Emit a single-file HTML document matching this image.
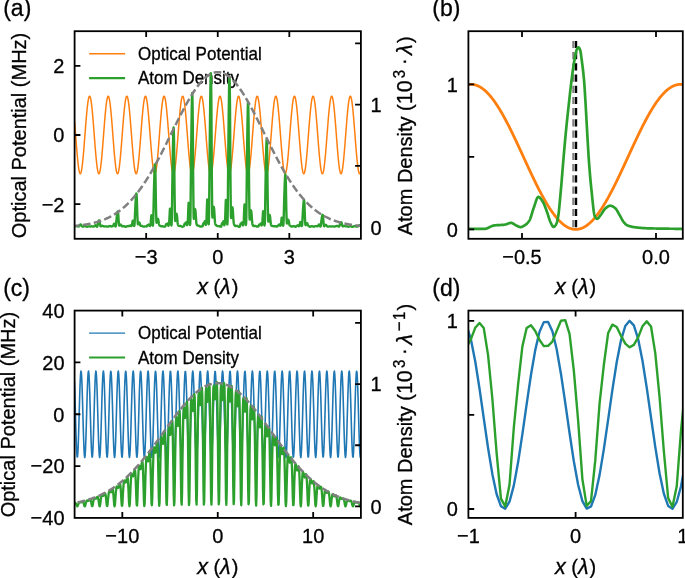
<!DOCTYPE html><html><head><meta charset="utf-8"><style>html,body{margin:0;padding:0;background:#fff;}svg{display:block;} .t{opacity:0.999;will-change:opacity;}</style></head><body><svg width="685" height="578" viewBox="0 0 685 578">
<defs><clipPath id="ca"><rect x="74.6" y="31.2" width="286.29999999999995" height="207.60000000000002"/></clipPath><clipPath id="cb"><rect x="468.4" y="31.2" width="214.39999999999998" height="207.60000000000002"/></clipPath><clipPath id="cc"><rect x="74.6" y="310.6" width="286.29999999999995" height="207.29999999999995"/></clipPath><clipPath id="cd"><rect x="468.4" y="310.6" width="214.39999999999998" height="207.29999999999995"/></clipPath></defs>
<rect width="685" height="578" fill="#fff"/>
<g clip-path="url(#ca)">
<path d="M74.60,121.90 L74.66,122.63 L74.72,123.38 L74.78,124.12 L74.84,124.87 L74.90,125.63 L74.96,126.39 L75.02,127.15 L75.08,127.91 L75.14,128.68 L75.20,129.45 L75.26,130.22 L75.32,131.00 L75.38,131.78 L75.44,132.55 L75.49,133.33 L75.55,134.11 L75.61,134.89 L75.67,135.67 L75.73,136.45 L75.79,137.23 L75.85,138.01 L75.91,138.78 L75.97,139.56 L76.03,140.33 L76.09,141.10 L76.15,141.87 L76.21,142.64 L76.27,143.40 L76.33,144.16 L76.39,144.92 L76.45,145.67 L76.51,146.42 L76.57,147.16 L76.63,147.90 L76.69,148.63 L76.75,149.36 L76.81,150.08 L76.87,150.79 L76.93,151.50 L76.99,152.20 L77.05,152.90 L77.11,153.59 L77.16,154.27 L77.22,154.94 L77.28,155.61 L77.34,156.26 L77.40,156.91 L77.46,157.55 L77.52,158.18 L77.58,158.80 L77.64,159.41 L77.70,160.01 L77.76,160.60 L77.82,161.18 L77.88,161.75 L77.94,162.31 L78.00,162.86 L78.06,163.39 L78.12,163.92 L78.18,164.43 L78.24,164.93 L78.30,165.42 L78.36,165.90 L78.42,166.36 L78.48,166.81 L78.54,167.25 L78.60,167.68 L78.66,168.09 L78.72,168.49 L78.78,168.88 L78.83,169.25 L78.89,169.61 L78.95,169.95 L79.01,170.28 L79.07,170.59 L79.13,170.90 L79.19,171.18 L79.25,171.45 L79.31,171.71 L79.37,171.95 L79.43,172.18 L79.49,172.39 L79.55,172.59 L79.61,172.77 L79.67,172.94 L79.73,173.09 L79.79,173.23 L79.85,173.35 L79.91,173.45 L79.97,173.54 L80.03,173.61 L80.09,173.67 L80.15,173.71 L80.21,173.74 L80.27,173.75 L80.33,173.75 L80.39,173.73 L80.45,173.69 L80.50,173.64 L80.56,173.57 L80.62,173.49 L80.68,173.39 L80.74,173.28 L80.80,173.15 L80.86,173.00 L80.92,172.84 L80.98,172.66 L81.04,172.47 L81.10,172.27 L81.16,172.05 L81.22,171.81 L81.28,171.56 L81.34,171.29 L81.40,171.01 L81.46,170.72 L81.52,170.41 L81.58,170.08 L81.64,169.74 L81.70,169.39 L81.76,169.03 L81.82,168.65 L81.88,168.25 L81.94,167.84 L82.00,167.42 L82.06,166.99 L82.12,166.54 L82.18,166.08 L82.23,165.61 L82.29,165.13 L82.35,164.63 L82.41,164.12 L82.47,163.60 L82.53,163.07 L82.59,162.53 L82.65,161.97 L82.71,161.41 L82.77,160.83 L82.83,160.25 L82.89,159.65 L82.95,159.04 L83.01,158.43 L83.07,157.80 L83.13,157.17 L83.19,156.52 L83.25,155.87 L83.31,155.21 L83.37,154.54 L83.43,153.86 L83.49,153.18 L83.55,152.48 L83.61,151.78 L83.67,151.08 L83.73,150.36 L83.79,149.65 L83.85,148.92 L83.90,148.19 L83.96,147.45 L84.02,146.71 L84.08,145.97 L84.14,145.22 L84.20,144.46 L84.26,143.71 L84.32,142.94 L84.38,142.18 L84.44,141.41 L84.50,140.64 L84.56,139.87 L84.62,139.09 L84.68,138.32 L84.74,137.54 L84.80,136.76 L84.86,135.98 L84.92,135.20 L84.98,134.42 L85.04,133.64 L85.10,132.86 L85.16,132.09 L85.22,131.31 L85.28,130.53 L85.34,129.76 L85.40,128.99 L85.46,128.22 L85.52,127.45 L85.57,126.69 L85.63,125.93 L85.69,125.17 L85.75,124.42 L85.81,123.67 L85.87,122.93 L85.93,122.19 L85.99,121.46 L86.05,120.73 L86.11,120.01 L86.17,119.29 L86.23,118.58 L86.29,117.88 L86.35,117.18 L86.41,116.49 L86.47,115.81 L86.53,115.14 L86.59,114.47 L86.65,113.82 L86.71,113.17 L86.77,112.53 L86.83,111.90 L86.89,111.28 L86.95,110.66 L87.01,110.06 L87.07,109.47 L87.13,108.89 L87.19,108.32 L87.24,107.76 L87.30,107.21 L87.36,106.67 L87.42,106.15 L87.48,105.63 L87.54,105.13 L87.60,104.64 L87.66,104.16 L87.72,103.69 L87.78,103.24 L87.84,102.80 L87.90,102.37 L87.96,101.96 L88.02,101.56 L88.08,101.17 L88.14,100.80 L88.20,100.44 L88.26,100.09 L88.32,99.76 L88.38,99.44 L88.44,99.14 L88.50,98.85 L88.56,98.58 L88.62,98.32 L88.68,98.07 L88.74,97.85 L88.80,97.63 L88.86,97.43 L88.91,97.25 L88.97,97.08 L89.03,96.93 L89.09,96.79 L89.15,96.67 L89.21,96.56 L89.27,96.47 L89.33,96.39 L89.39,96.33 L89.45,96.29 L89.51,96.26 L89.57,96.25 L89.63,96.25 L89.69,96.27 L89.75,96.30 L89.81,96.35 L89.87,96.42 L89.93,96.50 L89.99,96.60 L90.05,96.71 L90.11,96.84 L90.17,96.98 L90.23,97.14 L90.29,97.31 L90.35,97.50 L90.41,97.71 L90.47,97.93 L90.53,98.16 L90.59,98.41 L90.64,98.67 L90.70,98.95 L90.76,99.25 L90.82,99.56 L90.88,99.88 L90.94,100.21 L91.00,100.56 L91.06,100.93 L91.12,101.31 L91.18,101.70 L91.24,102.11 L91.30,102.52 L91.36,102.96 L91.42,103.40 L91.48,103.86 L91.54,104.33 L91.60,104.81 L91.66,105.31 L91.72,105.81 L91.78,106.33 L91.84,106.86 L91.90,107.41 L91.96,107.96 L92.02,108.52 L92.08,109.10 L92.14,109.68 L92.20,110.28 L92.26,110.88 L92.31,111.50 L92.37,112.12 L92.43,112.76 L92.49,113.40 L92.55,114.05 L92.61,114.71 L92.67,115.38 L92.73,116.06 L92.79,116.74 L92.85,117.43 L92.91,118.13 L92.97,118.84 L93.03,119.55 L93.09,120.27 L93.15,120.99 L93.21,121.72 L93.27,122.46 L93.33,123.20 L93.39,123.94 L93.45,124.69 L93.51,125.45 L93.57,126.20 L93.63,126.96 L93.69,127.73 L93.75,128.50 L93.81,129.27 L93.87,130.04 L93.93,130.81 L93.98,131.59 L94.04,132.37 L94.10,133.14 L94.16,133.92 L94.22,134.70 L94.28,135.48 L94.34,136.26 L94.40,137.04 L94.46,137.82 L94.52,138.60 L94.58,139.37 L94.64,140.15 L94.70,140.92 L94.76,141.69 L94.82,142.45 L94.88,143.22 L94.94,143.98 L95.00,144.74 L95.06,145.49 L95.12,146.24 L95.18,146.98 L95.24,147.72 L95.30,148.45 L95.36,149.18 L95.42,149.91 L95.48,150.62 L95.54,151.33 L95.60,152.04 L95.65,152.73 L95.71,153.42 L95.77,154.11 L95.83,154.78 L95.89,155.45 L95.95,156.10 L96.01,156.75 L96.07,157.40 L96.13,158.03 L96.19,158.65 L96.25,159.26 L96.31,159.87 L96.37,160.46 L96.43,161.04 L96.49,161.61 L96.55,162.17 L96.61,162.73 L96.67,163.26 L96.73,163.79 L96.79,164.31 L96.85,164.81 L96.91,165.30 L96.97,165.78 L97.03,166.25 L97.09,166.71 L97.15,167.15 L97.21,167.58 L97.27,167.99 L97.33,168.40 L97.38,168.78 L97.44,169.16 L97.50,169.52 L97.56,169.87 L97.62,170.20 L97.68,170.52 L97.74,170.82 L97.80,171.11 L97.86,171.39 L97.92,171.65 L97.98,171.90 L98.04,172.13 L98.10,172.34 L98.16,172.54 L98.22,172.73 L98.28,172.90 L98.34,173.05 L98.40,173.19 L98.46,173.32 L98.52,173.43 L98.58,173.52 L98.64,173.60 L98.70,173.66 L98.76,173.71 L98.82,173.74 L98.88,173.75 L98.94,173.75 L99.00,173.73 L99.05,173.70 L99.11,173.65 L99.17,173.59 L99.23,173.51 L99.29,173.41 L99.35,173.30 L99.41,173.18 L99.47,173.04 L99.53,172.88 L99.59,172.71 L99.65,172.52 L99.71,172.32 L99.77,172.10 L99.83,171.87 L99.89,171.62 L99.95,171.36 L100.01,171.08 L100.07,170.79 L100.13,170.48 L100.19,170.16 L100.25,169.83 L100.31,169.48 L100.37,169.11 L100.43,168.74 L100.49,168.35 L100.55,167.94 L100.61,167.53 L100.67,167.10 L100.72,166.65 L100.78,166.20 L100.84,165.73 L100.90,165.25 L100.96,164.75 L101.02,164.25 L101.08,163.73 L101.14,163.20 L101.20,162.66 L101.26,162.11 L101.32,161.55 L101.38,160.97 L101.44,160.39 L101.50,159.79 L101.56,159.19 L101.62,158.58 L101.68,157.95 L101.74,157.32 L101.80,156.68 L101.86,156.03 L101.92,155.37 L101.98,154.70 L102.04,154.02 L102.10,153.34 L102.16,152.65 L102.22,151.95 L102.28,151.25 L102.34,150.54 L102.39,149.82 L102.45,149.10 L102.51,148.37 L102.57,147.63 L102.63,146.89 L102.69,146.15 L102.75,145.40 L102.81,144.65 L102.87,143.89 L102.93,143.13 L102.99,142.36 L103.05,141.60 L103.11,140.83 L103.17,140.05 L103.23,139.28 L103.29,138.50 L103.35,137.73 L103.41,136.95 L103.47,136.17 L103.53,135.39 L103.59,134.61 L103.65,133.83 L103.71,133.05 L103.77,132.27 L103.83,131.50 L103.89,130.72 L103.95,129.95 L104.01,129.17 L104.07,128.40 L104.12,127.64 L104.18,126.87 L104.24,126.11 L104.30,125.35 L104.36,124.60 L104.42,123.85 L104.48,123.11 L104.54,122.37 L104.60,121.63 L104.66,120.90 L104.72,120.18 L104.78,119.46 L104.84,118.75 L104.90,118.05 L104.96,117.35 L105.02,116.66 L105.08,115.98 L105.14,115.30 L105.20,114.63 L105.26,113.97 L105.32,113.32 L105.38,112.68 L105.44,112.05 L105.50,111.42 L105.56,110.81 L105.62,110.21 L105.68,109.61 L105.74,109.03 L105.79,108.45 L105.85,107.89 L105.91,107.34 L105.97,106.80 L106.03,106.27 L106.09,105.75 L106.15,105.25 L106.21,104.75 L106.27,104.27 L106.33,103.80 L106.39,103.35 L106.45,102.90 L106.51,102.47 L106.57,102.06 L106.63,101.65 L106.69,101.26 L106.75,100.89 L106.81,100.52 L106.87,100.17 L106.93,99.84 L106.99,99.52 L107.05,99.21 L107.11,98.92 L107.17,98.64 L107.23,98.38 L107.29,98.13 L107.35,97.90 L107.41,97.68 L107.46,97.48 L107.52,97.29 L107.58,97.12 L107.64,96.96 L107.70,96.82 L107.76,96.70 L107.82,96.59 L107.88,96.49 L107.94,96.41 L108.00,96.35 L108.06,96.30 L108.12,96.27 L108.18,96.25 L108.24,96.25 L108.30,96.26 L108.36,96.29 L108.42,96.34 L108.48,96.40 L108.54,96.48 L108.60,96.57 L108.66,96.68 L108.72,96.81 L108.78,96.95 L108.84,97.10 L108.90,97.27 L108.96,97.46 L109.02,97.66 L109.08,97.87 L109.13,98.10 L109.19,98.35 L109.25,98.61 L109.31,98.89 L109.37,99.18 L109.43,99.48 L109.49,99.80 L109.55,100.13 L109.61,100.48 L109.67,100.84 L109.73,101.22 L109.79,101.60 L109.85,102.01 L109.91,102.42 L109.97,102.85 L110.03,103.29 L110.09,103.75 L110.15,104.22 L110.21,104.70 L110.27,105.19 L110.33,105.69 L110.39,106.21 L110.45,106.74 L110.51,107.27 L110.57,107.83 L110.63,108.39 L110.69,108.96 L110.75,109.54 L110.81,110.13 L110.86,110.74 L110.92,111.35 L110.98,111.97 L111.04,112.60 L111.10,113.25 L111.16,113.90 L111.22,114.55 L111.28,115.22 L111.34,115.89 L111.40,116.58 L111.46,117.27 L111.52,117.96 L111.58,118.67 L111.64,119.38 L111.70,120.09 L111.76,120.82 L111.82,121.55 L111.88,122.28 L111.94,123.02 L112.00,123.76 L112.06,124.51 L112.12,125.26 L112.18,126.02 L112.24,126.78 L112.30,127.55 L112.36,128.31 L112.42,129.08 L112.48,129.85 L112.53,130.63 L112.59,131.40 L112.65,132.18 L112.71,132.96 L112.77,133.74 L112.83,134.52 L112.89,135.30 L112.95,136.08 L113.01,136.86 L113.07,137.63 L113.13,138.41 L113.19,139.19 L113.25,139.96 L113.31,140.73 L113.37,141.50 L113.43,142.27 L113.49,143.04 L113.55,143.80 L113.61,144.55 L113.67,145.31 L113.73,146.06 L113.79,146.80 L113.85,147.54 L113.91,148.28 L113.97,149.01 L114.03,149.73 L114.09,150.45 L114.15,151.16 L114.20,151.87 L114.26,152.57 L114.32,153.26 L114.38,153.94 L114.44,154.62 L114.50,155.29 L114.56,155.95 L114.62,156.60 L114.68,157.24 L114.74,157.88 L114.80,158.50 L114.86,159.12 L114.92,159.72 L114.98,160.32 L115.04,160.90 L115.10,161.48 L115.16,162.04 L115.22,162.59 L115.28,163.14 L115.34,163.67 L115.40,164.19 L115.46,164.69 L115.52,165.19 L115.58,165.67 L115.64,166.14 L115.70,166.60 L115.76,167.04 L115.82,167.48 L115.87,167.89 L115.93,168.30 L115.99,168.69 L116.05,169.07 L116.11,169.44 L116.17,169.79 L116.23,170.12 L116.29,170.44 L116.35,170.75 L116.41,171.05 L116.47,171.33 L116.53,171.59 L116.59,171.84 L116.65,172.07 L116.71,172.29 L116.77,172.50 L116.83,172.69 L116.89,172.86 L116.95,173.02 L117.01,173.16 L117.07,173.29 L117.13,173.40 L117.19,173.50 L117.25,173.58 L117.31,173.65 L117.37,173.70 L117.43,173.73 L117.49,173.75 L117.54,173.75 L117.60,173.74 L117.66,173.71 L117.72,173.67 L117.78,173.61 L117.84,173.53 L117.90,173.44 L117.96,173.33 L118.02,173.21 L118.08,173.07 L118.14,172.92 L118.20,172.75 L118.26,172.57 L118.32,172.37 L118.38,172.15 L118.44,171.93 L118.50,171.68 L118.56,171.42 L118.62,171.15 L118.68,170.86 L118.74,170.56 L118.80,170.24 L118.86,169.91 L118.92,169.56 L118.98,169.20 L119.04,168.83 L119.10,168.44 L119.16,168.04 L119.22,167.63 L119.27,167.20 L119.33,166.76 L119.39,166.31 L119.45,165.84 L119.51,165.36 L119.57,164.87 L119.63,164.37 L119.69,163.85 L119.75,163.33 L119.81,162.79 L119.87,162.24 L119.93,161.68 L119.99,161.11 L120.05,160.53 L120.11,159.94 L120.17,159.34 L120.23,158.72 L120.29,158.10 L120.35,157.47 L120.41,156.83 L120.47,156.18 L120.53,155.53 L120.59,154.86 L120.65,154.19 L120.71,153.51 L120.77,152.82 L120.83,152.12 L120.89,151.42 L120.94,150.71 L121.00,149.99 L121.06,149.27 L121.12,148.54 L121.18,147.81 L121.24,147.07 L121.30,146.33 L121.36,145.58 L121.42,144.83 L121.48,144.07 L121.54,143.31 L121.60,142.55 L121.66,141.78 L121.72,141.01 L121.78,140.24 L121.84,139.47 L121.90,138.69 L121.96,137.91 L122.02,137.14 L122.08,136.36 L122.14,135.58 L122.20,134.80 L122.26,134.02 L122.32,133.24 L122.38,132.46 L122.44,131.68 L122.50,130.91 L122.56,130.13 L122.61,129.36 L122.67,128.59 L122.73,127.82 L122.79,127.06 L122.85,126.29 L122.91,125.54 L122.97,124.78 L123.03,124.03 L123.09,123.29 L123.15,122.55 L123.21,121.81 L123.27,121.08 L123.33,120.35 L123.39,119.64 L123.45,118.92 L123.51,118.22 L123.57,117.52 L123.63,116.82 L123.69,116.14 L123.75,115.46 L123.81,114.79 L123.87,114.13 L123.93,113.48 L123.99,112.83 L124.05,112.20 L124.11,111.57 L124.17,110.96 L124.23,110.35 L124.28,109.75 L124.34,109.17 L124.40,108.59 L124.46,108.03 L124.52,107.47 L124.58,106.93 L124.64,106.40 L124.70,105.88 L124.76,105.37 L124.82,104.87 L124.88,104.39 L124.94,103.92 L125.00,103.46 L125.06,103.01 L125.12,102.58 L125.18,102.16 L125.24,101.75 L125.30,101.35 L125.36,100.97 L125.42,100.61 L125.48,100.26 L125.54,99.92 L125.60,99.59 L125.66,99.28 L125.72,98.99 L125.78,98.71 L125.84,98.44 L125.90,98.19 L125.96,97.95 L126.01,97.73 L126.07,97.53 L126.13,97.34 L126.19,97.16 L126.25,97.00 L126.31,96.85 L126.37,96.72 L126.43,96.61 L126.49,96.51 L126.55,96.43 L126.61,96.36 L126.67,96.31 L126.73,96.27 L126.79,96.25 L126.85,96.25 L126.91,96.26 L126.97,96.29 L127.03,96.33 L127.09,96.39 L127.15,96.46 L127.21,96.55 L127.27,96.65 L127.33,96.77 L127.39,96.91 L127.45,97.06 L127.51,97.23 L127.57,97.41 L127.63,97.61 L127.68,97.82 L127.74,98.05 L127.80,98.29 L127.86,98.55 L127.92,98.82 L127.98,99.10 L128.04,99.41 L128.10,99.72 L128.16,100.05 L128.22,100.39 L128.28,100.75 L128.34,101.12 L128.40,101.51 L128.46,101.91 L128.52,102.32 L128.58,102.75 L128.64,103.19 L128.70,103.64 L128.76,104.10 L128.82,104.58 L128.88,105.07 L128.94,105.57 L129.00,106.08 L129.06,106.61 L129.12,107.14 L129.18,107.69 L129.24,108.25 L129.30,108.82 L129.35,109.40 L129.41,109.99 L129.47,110.59 L129.53,111.20 L129.59,111.82 L129.65,112.45 L129.71,113.09 L129.77,113.74 L129.83,114.39 L129.89,115.06 L129.95,115.73 L130.01,116.41 L130.07,117.10 L130.13,117.80 L130.19,118.50 L130.25,119.21 L130.31,119.92 L130.37,120.64 L130.43,121.37 L130.49,122.10 L130.55,122.84 L130.61,123.58 L130.67,124.33 L130.73,125.08 L130.79,125.84 L130.85,126.60 L130.91,127.36 L130.97,128.13 L131.02,128.90 L131.08,129.67 L131.14,130.44 L131.20,131.22 L131.26,131.99 L131.32,132.77 L131.38,133.55 L131.44,134.33 L131.50,135.11 L131.56,135.89 L131.62,136.67 L131.68,137.45 L131.74,138.22 L131.80,139.00 L131.86,139.78 L131.92,140.55 L131.98,141.32 L132.04,142.09 L132.10,142.85 L132.16,143.61 L132.22,144.37 L132.28,145.13 L132.34,145.88 L132.40,146.62 L132.46,147.37 L132.52,148.10 L132.58,148.83 L132.64,149.56 L132.70,150.28 L132.75,150.99 L132.81,151.70 L132.87,152.40 L132.93,153.09 L132.99,153.78 L133.05,154.46 L133.11,155.13 L133.17,155.79 L133.23,156.44 L133.29,157.09 L133.35,157.72 L133.41,158.35 L133.47,158.97 L133.53,159.58 L133.59,160.18 L133.65,160.76 L133.71,161.34 L133.77,161.91 L133.83,162.46 L133.89,163.01 L133.95,163.54 L134.01,164.06 L134.07,164.57 L134.13,165.07 L134.19,165.56 L134.25,166.03 L134.31,166.49 L134.37,166.94 L134.42,167.37 L134.48,167.80 L134.54,168.20 L134.60,168.60 L134.66,168.98 L134.72,169.35 L134.78,169.70 L134.84,170.04 L134.90,170.37 L134.96,170.68 L135.02,170.98 L135.08,171.26 L135.14,171.53 L135.20,171.78 L135.26,172.02 L135.32,172.24 L135.38,172.45 L135.44,172.64 L135.50,172.82 L135.56,172.98 L135.62,173.13 L135.68,173.26 L135.74,173.38 L135.80,173.48 L135.86,173.56 L135.92,173.63 L135.98,173.69 L136.04,173.72 L136.09,173.75 L136.15,173.75 L136.21,173.74 L136.27,173.72 L136.33,173.68 L136.39,173.62 L136.45,173.55 L136.51,173.46 L136.57,173.36 L136.63,173.24 L136.69,173.11 L136.75,172.96 L136.81,172.79 L136.87,172.61 L136.93,172.42 L136.99,172.21 L137.05,171.98 L137.11,171.74 L137.17,171.49 L137.23,171.22 L137.29,170.93 L137.35,170.63 L137.41,170.32 L137.47,169.99 L137.53,169.65 L137.59,169.29 L137.65,168.92 L137.71,168.54 L137.76,168.14 L137.82,167.73 L137.88,167.30 L137.94,166.87 L138.00,166.42 L138.06,165.95 L138.12,165.48 L138.18,164.99 L138.24,164.49 L138.30,163.98 L138.36,163.46 L138.42,162.92 L138.48,162.37 L138.54,161.82 L138.60,161.25 L138.66,160.67 L138.72,160.08 L138.78,159.48 L138.84,158.87 L138.90,158.25 L138.96,157.62 L139.02,156.99 L139.08,156.34 L139.14,155.68 L139.20,155.02 L139.26,154.35 L139.32,153.67 L139.38,152.98 L139.44,152.29 L139.49,151.59 L139.55,150.88 L139.61,150.16 L139.67,149.44 L139.73,148.72 L139.79,147.98 L139.85,147.25 L139.91,146.51 L139.97,145.76 L140.03,145.01 L140.09,144.25 L140.15,143.49 L140.21,142.73 L140.27,141.96 L140.33,141.20 L140.39,140.43 L140.45,139.65 L140.51,138.88 L140.57,138.10 L140.63,137.32 L140.69,136.54 L140.75,135.76 L140.81,134.98 L140.87,134.20 L140.93,133.43 L140.99,132.65 L141.05,131.87 L141.11,131.09 L141.16,130.32 L141.22,129.54 L141.28,128.77 L141.34,128.00 L141.40,127.24 L141.46,126.48 L141.52,125.72 L141.58,124.96 L141.64,124.21 L141.70,123.46 L141.76,122.72 L141.82,121.99 L141.88,121.25 L141.94,120.53 L142.00,119.81 L142.06,119.09 L142.12,118.39 L142.18,117.68 L142.24,116.99 L142.30,116.30 L142.36,115.62 L142.42,114.95 L142.48,114.29 L142.54,113.63 L142.60,112.99 L142.66,112.35 L142.72,111.72 L142.78,111.10 L142.83,110.50 L142.89,109.90 L142.95,109.31 L143.01,108.73 L143.07,108.16 L143.13,107.60 L143.19,107.06 L143.25,106.52 L143.31,106.00 L143.37,105.49 L143.43,104.99 L143.49,104.50 L143.55,104.03 L143.61,103.56 L143.67,103.12 L143.73,102.68 L143.79,102.25 L143.85,101.84 L143.91,101.45 L143.97,101.06 L144.03,100.69 L144.09,100.34 L144.15,100.00 L144.21,99.67 L144.27,99.36 L144.33,99.06 L144.39,98.77 L144.45,98.50 L144.50,98.25 L144.56,98.01 L144.62,97.78 L144.68,97.57 L144.74,97.38 L144.80,97.20 L144.86,97.04 L144.92,96.89 L144.98,96.75 L145.04,96.64 L145.10,96.53 L145.16,96.45 L145.22,96.38 L145.28,96.32 L145.34,96.28 L145.40,96.26 L145.46,96.25 L145.52,96.26 L145.58,96.28 L145.64,96.32 L145.70,96.37 L145.76,96.44 L145.82,96.53 L145.88,96.63 L145.94,96.74 L146.00,96.88 L146.06,97.02 L146.12,97.19 L146.17,97.36 L146.23,97.56 L146.29,97.77 L146.35,97.99 L146.41,98.23 L146.47,98.48 L146.53,98.75 L146.59,99.03 L146.65,99.33 L146.71,99.64 L146.77,99.97 L146.83,100.31 L146.89,100.67 L146.95,101.03 L147.01,101.42 L147.07,101.81 L147.13,102.22 L147.19,102.64 L147.25,103.08 L147.31,103.53 L147.37,103.99 L147.43,104.46 L147.49,104.95 L147.55,105.45 L147.61,105.96 L147.67,106.48 L147.73,107.01 L147.79,107.56 L147.85,108.12 L147.90,108.68 L147.96,109.26 L148.02,109.85 L148.08,110.45 L148.14,111.06 L148.20,111.67 L148.26,112.30 L148.32,112.94 L148.38,113.58 L148.44,114.24 L148.50,114.90 L148.56,115.57 L148.62,116.25 L148.68,116.93 L148.74,117.63 L148.80,118.33 L148.86,119.04 L148.92,119.75 L148.98,120.47 L149.04,121.20 L149.10,121.93 L149.16,122.66 L149.22,123.41 L149.28,124.15 L149.34,124.90 L149.40,125.66 L149.46,126.42 L149.52,127.18 L149.57,127.94 L149.63,128.71 L149.69,129.48 L149.75,130.26 L149.81,131.03 L149.87,131.81 L149.93,132.58 L149.99,133.36 L150.05,134.14 L150.11,134.92 L150.17,135.70 L150.23,136.48 L150.29,137.26 L150.35,138.04 L150.41,138.81 L150.47,139.59 L150.53,140.36 L150.59,141.13 L150.65,141.90 L150.71,142.67 L150.77,143.43 L150.83,144.19 L150.89,144.95 L150.95,145.70 L151.01,146.45 L151.07,147.19 L151.13,147.93 L151.19,148.66 L151.24,149.39 L151.30,150.11 L151.36,150.82 L151.42,151.53 L151.48,152.23 L151.54,152.93 L151.60,153.61 L151.66,154.29 L151.72,154.97 L151.78,155.63 L151.84,156.29 L151.90,156.93 L151.96,157.57 L152.02,158.20 L152.08,158.82 L152.14,159.43 L152.20,160.03 L152.26,160.62 L152.32,161.20 L152.38,161.77 L152.44,162.33 L152.50,162.88 L152.56,163.41 L152.62,163.94 L152.68,164.45 L152.74,164.95 L152.80,165.44 L152.86,165.92 L152.91,166.38 L152.97,166.83 L153.03,167.27 L153.09,167.69 L153.15,168.11 L153.21,168.51 L153.27,168.89 L153.33,169.26 L153.39,169.62 L153.45,169.96 L153.51,170.29 L153.57,170.61 L153.63,170.91 L153.69,171.19 L153.75,171.46 L153.81,171.72 L153.87,171.96 L153.93,172.19 L153.99,172.40 L154.05,172.60 L154.11,172.78 L154.17,172.94 L154.23,173.10 L154.29,173.23 L154.35,173.35 L154.41,173.45 L154.47,173.54 L154.53,173.62 L154.59,173.67 L154.64,173.72 L154.70,173.74 L154.76,173.75 L154.82,173.75 L154.88,173.73 L154.94,173.69 L155.00,173.64 L155.06,173.57 L155.12,173.48 L155.18,173.39 L155.24,173.27 L155.30,173.14 L155.36,172.99 L155.42,172.83 L155.48,172.66 L155.54,172.47 L155.60,172.26 L155.66,172.04 L155.72,171.80 L155.78,171.55 L155.84,171.28 L155.90,171.00 L155.96,170.70 L156.02,170.39 L156.08,170.07 L156.14,169.73 L156.20,169.38 L156.26,169.01 L156.31,168.63 L156.37,168.24 L156.43,167.83 L156.49,167.41 L156.55,166.97 L156.61,166.53 L156.67,166.07 L156.73,165.59 L156.79,165.11 L156.85,164.61 L156.91,164.10 L156.97,163.58 L157.03,163.05 L157.09,162.51 L157.15,161.95 L157.21,161.39 L157.27,160.81 L157.33,160.22 L157.39,159.63 L157.45,159.02 L157.51,158.40 L157.57,157.78 L157.63,157.14 L157.69,156.50 L157.75,155.84 L157.81,155.18 L157.87,154.51 L157.93,153.83 L157.98,153.15 L158.04,152.46 L158.10,151.76 L158.16,151.05 L158.22,150.34 L158.28,149.62 L158.34,148.89 L158.40,148.16 L158.46,147.43 L158.52,146.68 L158.58,145.94 L158.64,145.19 L158.70,144.43 L158.76,143.68 L158.82,142.91 L158.88,142.15 L158.94,141.38 L159.00,140.61 L159.06,139.84 L159.12,139.06 L159.18,138.29 L159.24,137.51 L159.30,136.73 L159.36,135.95 L159.42,135.17 L159.48,134.39 L159.54,133.61 L159.60,132.83 L159.65,132.06 L159.71,131.28 L159.77,130.50 L159.83,129.73 L159.89,128.96 L159.95,128.19 L160.01,127.42 L160.07,126.66 L160.13,125.90 L160.19,125.14 L160.25,124.39 L160.31,123.64 L160.37,122.90 L160.43,122.16 L160.49,121.43 L160.55,120.70 L160.61,119.98 L160.67,119.26 L160.73,118.55 L160.79,117.85 L160.85,117.16 L160.91,116.47 L160.97,115.79 L161.03,115.11 L161.09,114.45 L161.15,113.79 L161.21,113.14 L161.27,112.50 L161.33,111.87 L161.38,111.25 L161.44,110.64 L161.50,110.04 L161.56,109.45 L161.62,108.87 L161.68,108.30 L161.74,107.74 L161.80,107.19 L161.86,106.65 L161.92,106.12 L161.98,105.61 L162.04,105.11 L162.10,104.62 L162.16,104.14 L162.22,103.67 L162.28,103.22 L162.34,102.78 L162.40,102.36 L162.46,101.94 L162.52,101.54 L162.58,101.15 L162.64,100.78 L162.70,100.42 L162.76,100.08 L162.82,99.75 L162.88,99.43 L162.94,99.13 L163.00,98.84 L163.05,98.57 L163.11,98.31 L163.17,98.07 L163.23,97.84 L163.29,97.62 L163.35,97.43 L163.41,97.24 L163.47,97.07 L163.53,96.92 L163.59,96.78 L163.65,96.66 L163.71,96.56 L163.77,96.47 L163.83,96.39 L163.89,96.33 L163.95,96.29 L164.01,96.26 L164.07,96.25 L164.13,96.25 L164.19,96.27 L164.25,96.31 L164.31,96.36 L164.37,96.42 L164.43,96.50 L164.49,96.60 L164.55,96.71 L164.61,96.84 L164.67,96.99 L164.72,97.15 L164.78,97.32 L164.84,97.51 L164.90,97.72 L164.96,97.94 L165.02,98.17 L165.08,98.42 L165.14,98.69 L165.20,98.97 L165.26,99.26 L165.32,99.57 L165.38,99.89 L165.44,100.23 L165.50,100.58 L165.56,100.94 L165.62,101.32 L165.68,101.72 L165.74,102.12 L165.80,102.54 L165.86,102.97 L165.92,103.42 L165.98,103.88 L166.04,104.35 L166.10,104.83 L166.16,105.33 L166.22,105.84 L166.28,106.35 L166.34,106.89 L166.39,107.43 L166.45,107.98 L166.51,108.55 L166.57,109.12 L166.63,109.71 L166.69,110.30 L166.75,110.91 L166.81,111.52 L166.87,112.15 L166.93,112.78 L166.99,113.43 L167.05,114.08 L167.11,114.74 L167.17,115.41 L167.23,116.09 L167.29,116.77 L167.35,117.46 L167.41,118.16 L167.47,118.87 L167.53,119.58 L167.59,120.30 L167.65,121.02 L167.71,121.75 L167.77,122.49 L167.83,123.23 L167.89,123.97 L167.95,124.72 L168.01,125.48 L168.07,126.23 L168.12,126.99 L168.18,127.76 L168.24,128.53 L168.30,129.30 L168.36,130.07 L168.42,130.84 L168.48,131.62 L168.54,132.40 L168.60,133.18 L168.66,133.96 L168.72,134.73 L168.78,135.51 L168.84,136.29 L168.90,137.07 L168.96,137.85 L169.02,138.63 L169.08,139.40 L169.14,140.18 L169.20,140.95 L169.26,141.72 L169.32,142.49 L169.38,143.25 L169.44,144.01 L169.50,144.77 L169.56,145.52 L169.62,146.27 L169.68,147.01 L169.74,147.75 L169.79,148.48 L169.85,149.21 L169.91,149.93 L169.97,150.65 L170.03,151.36 L170.09,152.06 L170.15,152.76 L170.21,153.45 L170.27,154.13 L170.33,154.81 L170.39,155.47 L170.45,156.13 L170.51,156.78 L170.57,157.42 L170.63,158.05 L170.69,158.67 L170.75,159.29 L170.81,159.89 L170.87,160.48 L170.93,161.06 L170.99,161.64 L171.05,162.20 L171.11,162.75 L171.17,163.29 L171.23,163.81 L171.29,164.33 L171.35,164.83 L171.41,165.32 L171.46,165.80 L171.52,166.27 L171.58,166.72 L171.64,167.17 L171.70,167.59 L171.76,168.01 L171.82,168.41 L171.88,168.80 L171.94,169.17 L172.00,169.53 L172.06,169.88 L172.12,170.21 L172.18,170.53 L172.24,170.84 L172.30,171.13 L172.36,171.40 L172.42,171.66 L172.48,171.91 L172.54,172.14 L172.60,172.35 L172.66,172.55 L172.72,172.74 L172.78,172.91 L172.84,173.06 L172.90,173.20 L172.96,173.32 L173.02,173.43 L173.08,173.52 L173.13,173.60 L173.19,173.66 L173.25,173.71 L173.31,173.74 L173.37,173.75 L173.43,173.75 L173.49,173.73 L173.55,173.70 L173.61,173.65 L173.67,173.59 L173.73,173.51 L173.79,173.41 L173.85,173.30 L173.91,173.17 L173.97,173.03 L174.03,172.87 L174.09,172.70 L174.15,172.51 L174.21,172.31 L174.27,172.09 L174.33,171.86 L174.39,171.61 L174.45,171.35 L174.51,171.07 L174.57,170.78 L174.63,170.47 L174.69,170.15 L174.75,169.81 L174.81,169.46 L174.86,169.10 L174.92,168.72 L174.98,168.33 L175.04,167.93 L175.10,167.51 L175.16,167.08 L175.22,166.63 L175.28,166.18 L175.34,165.71 L175.40,165.23 L175.46,164.73 L175.52,164.23 L175.58,163.71 L175.64,163.18 L175.70,162.64 L175.76,162.09 L175.82,161.52 L175.88,160.95 L175.94,160.36 L176.00,159.77 L176.06,159.16 L176.12,158.55 L176.18,157.93 L176.24,157.29 L176.30,156.65 L176.36,156.00 L176.42,155.34 L176.48,154.67 L176.53,154.00 L176.59,153.31 L176.65,152.62 L176.71,151.92 L176.77,151.22 L176.83,150.51 L176.89,149.79 L176.95,149.07 L177.01,148.34 L177.07,147.60 L177.13,146.86 L177.19,146.12 L177.25,145.37 L177.31,144.61 L177.37,143.86 L177.43,143.10 L177.49,142.33 L177.55,141.57 L177.61,140.80 L177.67,140.02 L177.73,139.25 L177.79,138.47 L177.85,137.70 L177.91,136.92 L177.97,136.14 L178.03,135.36 L178.09,134.58 L178.15,133.80 L178.20,133.02 L178.26,132.24 L178.32,131.46 L178.38,130.69 L178.44,129.91 L178.50,129.14 L178.56,128.37 L178.62,127.61 L178.68,126.84 L178.74,126.08 L178.80,125.32 L178.86,124.57 L178.92,123.82 L178.98,123.08 L179.04,122.34 L179.10,121.60 L179.16,120.88 L179.22,120.15 L179.28,119.44 L179.34,118.72 L179.40,118.02 L179.46,117.32 L179.52,116.63 L179.58,115.95 L179.64,115.27 L179.70,114.61 L179.76,113.95 L179.82,113.30 L179.87,112.66 L179.93,112.02 L179.99,111.40 L180.05,110.79 L180.11,110.18 L180.17,109.59 L180.23,109.01 L180.29,108.43 L180.35,107.87 L180.41,107.32 L180.47,106.78 L180.53,106.25 L180.59,105.73 L180.65,105.23 L180.71,104.73 L180.77,104.25 L180.83,103.79 L180.89,103.33 L180.95,102.89 L181.01,102.46 L181.07,102.04 L181.13,101.64 L181.19,101.25 L181.25,100.87 L181.31,100.51 L181.37,100.16 L181.43,99.83 L181.49,99.51 L181.54,99.20 L181.60,98.91 L181.66,98.63 L181.72,98.37 L181.78,98.12 L181.84,97.89 L181.90,97.67 L181.96,97.47 L182.02,97.28 L182.08,97.11 L182.14,96.96 L182.20,96.82 L182.26,96.69 L182.32,96.58 L182.38,96.49 L182.44,96.41 L182.50,96.35 L182.56,96.30 L182.62,96.27 L182.68,96.25 L182.74,96.25 L182.80,96.27 L182.86,96.30 L182.92,96.34 L182.98,96.41 L183.04,96.48 L183.10,96.58 L183.16,96.69 L183.22,96.81 L183.27,96.95 L183.33,97.11 L183.39,97.28 L183.45,97.46 L183.51,97.66 L183.57,97.88 L183.63,98.11 L183.69,98.36 L183.75,98.62 L183.81,98.90 L183.87,99.19 L183.93,99.49 L183.99,99.81 L184.05,100.15 L184.11,100.49 L184.17,100.86 L184.23,101.23 L184.29,101.62 L184.35,102.02 L184.41,102.44 L184.47,102.87 L184.53,103.31 L184.59,103.77 L184.65,104.23 L184.71,104.71 L184.77,105.21 L184.83,105.71 L184.89,106.23 L184.94,106.76 L185.00,107.30 L185.06,107.85 L185.12,108.41 L185.18,108.98 L185.24,109.57 L185.30,110.16 L185.36,110.76 L185.42,111.38 L185.48,112.00 L185.54,112.63 L185.60,113.27 L185.66,113.92 L185.72,114.58 L185.78,115.25 L185.84,115.92 L185.90,116.60 L185.96,117.29 L186.02,117.99 L186.08,118.70 L186.14,119.41 L186.20,120.12 L186.26,120.85 L186.32,121.58 L186.38,122.31 L186.44,123.05 L186.50,123.79 L186.56,124.54 L186.61,125.29 L186.67,126.05 L186.73,126.81 L186.79,127.58 L186.85,128.34 L186.91,129.11 L186.97,129.88 L187.03,130.66 L187.09,131.43 L187.15,132.21 L187.21,132.99 L187.27,133.77 L187.33,134.55 L187.39,135.33 L187.45,136.11 L187.51,136.89 L187.57,137.66 L187.63,138.44 L187.69,139.22 L187.75,139.99 L187.81,140.76 L187.87,141.53 L187.93,142.30 L187.99,143.07 L188.05,143.83 L188.11,144.58 L188.17,145.34 L188.23,146.09 L188.28,146.83 L188.34,147.57 L188.40,148.31 L188.46,149.04 L188.52,149.76 L188.58,150.48 L188.64,151.19 L188.70,151.90 L188.76,152.59 L188.82,153.29 L188.88,153.97 L188.94,154.65 L189.00,155.31 L189.06,155.97 L189.12,156.62 L189.18,157.27 L189.24,157.90 L189.30,158.53 L189.36,159.14 L189.42,159.75 L189.48,160.34 L189.54,160.93 L189.60,161.50 L189.66,162.06 L189.72,162.62 L189.78,163.16 L189.84,163.69 L189.90,164.21 L189.96,164.71 L190.01,165.21 L190.07,165.69 L190.13,166.16 L190.19,166.62 L190.25,167.06 L190.31,167.49 L190.37,167.91 L190.43,168.32 L190.49,168.71 L190.55,169.09 L190.61,169.45 L190.67,169.80 L190.73,170.14 L190.79,170.46 L190.85,170.76 L190.91,171.06 L190.97,171.34 L191.03,171.60 L191.09,171.85 L191.15,172.08 L191.21,172.30 L191.27,172.51 L191.33,172.69 L191.39,172.87 L191.45,173.03 L191.51,173.17 L191.57,173.29 L191.63,173.41 L191.68,173.50 L191.74,173.58 L191.80,173.65 L191.86,173.70 L191.92,173.73 L191.98,173.75 L192.04,173.75 L192.10,173.74 L192.16,173.71 L192.22,173.66 L192.28,173.60 L192.34,173.53 L192.40,173.44 L192.46,173.33 L192.52,173.20 L192.58,173.07 L192.64,172.91 L192.70,172.74 L192.76,172.56 L192.82,172.36 L192.88,172.15 L192.94,171.92 L193.00,171.67 L193.06,171.41 L193.12,171.14 L193.18,170.85 L193.24,170.54 L193.30,170.23 L193.35,169.89 L193.41,169.55 L193.47,169.19 L193.53,168.81 L193.59,168.43 L193.65,168.03 L193.71,167.61 L193.77,167.18 L193.83,166.74 L193.89,166.29 L193.95,165.82 L194.01,165.34 L194.07,164.85 L194.13,164.35 L194.19,163.83 L194.25,163.31 L194.31,162.77 L194.37,162.22 L194.43,161.66 L194.49,161.09 L194.55,160.51 L194.61,159.91 L194.67,159.31 L194.73,158.70 L194.79,158.08 L194.85,157.45 L194.91,156.81 L194.97,156.16 L195.02,155.50 L195.08,154.83 L195.14,154.16 L195.20,153.48 L195.26,152.79 L195.32,152.09 L195.38,151.39 L195.44,150.68 L195.50,149.96 L195.56,149.24 L195.62,148.51 L195.68,147.78 L195.74,147.04 L195.80,146.30 L195.86,145.55 L195.92,144.80 L195.98,144.04 L196.04,143.28 L196.10,142.52 L196.16,141.75 L196.22,140.98 L196.28,140.21 L196.34,139.44 L196.40,138.66 L196.46,137.88 L196.52,137.10 L196.58,136.33 L196.64,135.55 L196.70,134.77 L196.75,133.99 L196.81,133.21 L196.87,132.43 L196.93,131.65 L196.99,130.87 L197.05,130.10 L197.11,129.33 L197.17,128.56 L197.23,127.79 L197.29,127.03 L197.35,126.26 L197.41,125.51 L197.47,124.75 L197.53,124.00 L197.59,123.26 L197.65,122.52 L197.71,121.78 L197.77,121.05 L197.83,120.33 L197.89,119.61 L197.95,118.89 L198.01,118.19 L198.07,117.49 L198.13,116.80 L198.19,116.11 L198.25,115.44 L198.31,114.77 L198.37,114.11 L198.42,113.45 L198.48,112.81 L198.54,112.17 L198.60,111.55 L198.66,110.93 L198.72,110.33 L198.78,109.73 L198.84,109.14 L198.90,108.57 L198.96,108.00 L199.02,107.45 L199.08,106.91 L199.14,106.38 L199.20,105.86 L199.26,105.35 L199.32,104.85 L199.38,104.37 L199.44,103.90 L199.50,103.44 L199.56,102.99 L199.62,102.56 L199.68,102.14 L199.74,101.73 L199.80,101.34 L199.86,100.96 L199.92,100.59 L199.98,100.24 L200.04,99.90 L200.09,99.58 L200.15,99.27 L200.21,98.98 L200.27,98.70 L200.33,98.43 L200.39,98.18 L200.45,97.94 L200.51,97.72 L200.57,97.52 L200.63,97.33 L200.69,97.15 L200.75,96.99 L200.81,96.85 L200.87,96.72 L200.93,96.61 L200.99,96.51 L201.05,96.43 L201.11,96.36 L201.17,96.31 L201.23,96.27 L201.29,96.25 L201.35,96.25 L201.41,96.26 L201.47,96.29 L201.53,96.33 L201.59,96.39 L201.65,96.46 L201.71,96.55 L201.76,96.66 L201.82,96.78 L201.88,96.92 L201.94,97.07 L202.00,97.24 L202.06,97.42 L202.12,97.62 L202.18,97.83 L202.24,98.06 L202.30,98.30 L202.36,98.56 L202.42,98.83 L202.48,99.12 L202.54,99.42 L202.60,99.73 L202.66,100.06 L202.72,100.41 L202.78,100.77 L202.84,101.14 L202.90,101.53 L202.96,101.93 L203.02,102.34 L203.08,102.76 L203.14,103.20 L203.20,103.66 L203.26,104.12 L203.32,104.60 L203.38,105.09 L203.44,105.59 L203.49,106.10 L203.55,106.63 L203.61,107.17 L203.67,107.71 L203.73,108.27 L203.79,108.84 L203.85,109.42 L203.91,110.02 L203.97,110.62 L204.03,111.23 L204.09,111.85 L204.15,112.48 L204.21,113.12 L204.27,113.76 L204.33,114.42 L204.39,115.09 L204.45,115.76 L204.51,116.44 L204.57,117.13 L204.63,117.82 L204.69,118.53 L204.75,119.24 L204.81,119.95 L204.87,120.67 L204.93,121.40 L204.99,122.13 L205.05,122.87 L205.11,123.61 L205.16,124.36 L205.22,125.11 L205.28,125.87 L205.34,126.63 L205.40,127.39 L205.46,128.16 L205.52,128.93 L205.58,129.70 L205.64,130.47 L205.70,131.25 L205.76,132.02 L205.82,132.80 L205.88,133.58 L205.94,134.36 L206.00,135.14 L206.06,135.92 L206.12,136.70 L206.18,137.48 L206.24,138.26 L206.30,139.03 L206.36,139.81 L206.42,140.58 L206.48,141.35 L206.54,142.12 L206.60,142.88 L206.66,143.64 L206.72,144.40 L206.78,145.16 L206.83,145.91 L206.89,146.65 L206.95,147.40 L207.01,148.13 L207.07,148.86 L207.13,149.59 L207.19,150.31 L207.25,151.02 L207.31,151.73 L207.37,152.43 L207.43,153.12 L207.49,153.81 L207.55,154.48 L207.61,155.15 L207.67,155.82 L207.73,156.47 L207.79,157.11 L207.85,157.75 L207.91,158.38 L207.97,158.99 L208.03,159.60 L208.09,160.20 L208.15,160.79 L208.21,161.36 L208.27,161.93 L208.33,162.48 L208.39,163.03 L208.45,163.56 L208.50,164.08 L208.56,164.59 L208.62,165.09 L208.68,165.57 L208.74,166.05 L208.80,166.51 L208.86,166.96 L208.92,167.39 L208.98,167.81 L209.04,168.22 L209.10,168.61 L209.16,169.00 L209.22,169.36 L209.28,169.72 L209.34,170.06 L209.40,170.38 L209.46,170.69 L209.52,170.99 L209.58,171.27 L209.64,171.54 L209.70,171.79 L209.76,172.03 L209.82,172.25 L209.88,172.46 L209.94,172.65 L210.00,172.83 L210.06,172.99 L210.12,173.13 L210.17,173.27 L210.23,173.38 L210.29,173.48 L210.35,173.57 L210.41,173.63 L210.47,173.69 L210.53,173.72 L210.59,173.75 L210.65,173.75 L210.71,173.74 L210.77,173.72 L210.83,173.68 L210.89,173.62 L210.95,173.55 L211.01,173.46 L211.07,173.35 L211.13,173.24 L211.19,173.10 L211.25,172.95 L211.31,172.79 L211.37,172.61 L211.43,172.41 L211.49,172.20 L211.55,171.97 L211.61,171.73 L211.67,171.48 L211.73,171.20 L211.79,170.92 L211.85,170.62 L211.90,170.30 L211.96,169.98 L212.02,169.63 L212.08,169.28 L212.14,168.91 L212.20,168.52 L212.26,168.12 L212.32,167.71 L212.38,167.29 L212.44,166.85 L212.50,166.40 L212.56,165.94 L212.62,165.46 L212.68,164.97 L212.74,164.47 L212.80,163.96 L212.86,163.43 L212.92,162.90 L212.98,162.35 L213.04,161.79 L213.10,161.23 L213.16,160.65 L213.22,160.06 L213.28,159.46 L213.34,158.85 L213.40,158.23 L213.46,157.60 L213.52,156.96 L213.57,156.31 L213.63,155.66 L213.69,154.99 L213.75,154.32 L213.81,153.64 L213.87,152.95 L213.93,152.26 L213.99,151.56 L214.05,150.85 L214.11,150.14 L214.17,149.41 L214.23,148.69 L214.29,147.96 L214.35,147.22 L214.41,146.48 L214.47,145.73 L214.53,144.98 L214.59,144.22 L214.65,143.46 L214.71,142.70 L214.77,141.93 L214.83,141.17 L214.89,140.39 L214.95,139.62 L215.01,138.85 L215.07,138.07 L215.13,137.29 L215.19,136.51 L215.24,135.73 L215.30,134.95 L215.36,134.17 L215.42,133.39 L215.48,132.62 L215.54,131.84 L215.60,131.06 L215.66,130.29 L215.72,129.51 L215.78,128.74 L215.84,127.97 L215.90,127.21 L215.96,126.45 L216.02,125.69 L216.08,124.93 L216.14,124.18 L216.20,123.44 L216.26,122.69 L216.32,121.96 L216.38,121.22 L216.44,120.50 L216.50,119.78 L216.56,119.06 L216.62,118.36 L216.68,117.66 L216.74,116.96 L216.80,116.28 L216.86,115.60 L216.91,114.93 L216.97,114.26 L217.03,113.61 L217.09,112.96 L217.15,112.33 L217.21,111.70 L217.27,111.08 L217.33,110.47 L217.39,109.87 L217.45,109.28 L217.51,108.71 L217.57,108.14 L217.63,107.58 L217.69,107.04 L217.75,106.50 L217.81,105.98 L217.87,105.47 L217.93,104.97 L217.99,104.48 L218.05,104.01 L218.11,103.55 L218.17,103.10 L218.23,102.66 L218.29,102.24 L218.35,101.83 L218.41,101.43 L218.47,101.05 L218.53,100.68 L218.59,100.32 L218.64,99.98 L218.70,99.66 L218.76,99.34 L218.82,99.05 L218.88,98.76 L218.94,98.49 L219.00,98.24 L219.06,98.00 L219.12,97.78 L219.18,97.57 L219.24,97.37 L219.30,97.19 L219.36,97.03 L219.42,96.88 L219.48,96.75 L219.54,96.63 L219.60,96.53 L219.66,96.44 L219.72,96.37 L219.78,96.32 L219.84,96.28 L219.90,96.26 L219.96,96.25 L220.02,96.26 L220.08,96.28 L220.14,96.32 L220.20,96.37 L220.26,96.44 L220.31,96.53 L220.37,96.63 L220.43,96.75 L220.49,96.88 L220.55,97.03 L220.61,97.19 L220.67,97.37 L220.73,97.57 L220.79,97.78 L220.85,98.00 L220.91,98.24 L220.97,98.49 L221.03,98.76 L221.09,99.05 L221.15,99.34 L221.21,99.66 L221.27,99.98 L221.33,100.32 L221.39,100.68 L221.45,101.05 L221.51,101.43 L221.57,101.83 L221.63,102.24 L221.69,102.66 L221.75,103.10 L221.81,103.55 L221.87,104.01 L221.93,104.48 L221.98,104.97 L222.04,105.47 L222.10,105.98 L222.16,106.50 L222.22,107.04 L222.28,107.58 L222.34,108.14 L222.40,108.71 L222.46,109.28 L222.52,109.87 L222.58,110.47 L222.64,111.08 L222.70,111.70 L222.76,112.33 L222.82,112.96 L222.88,113.61 L222.94,114.26 L223.00,114.93 L223.06,115.60 L223.12,116.28 L223.18,116.96 L223.24,117.66 L223.30,118.36 L223.36,119.06 L223.42,119.78 L223.48,120.50 L223.54,121.22 L223.60,121.96 L223.65,122.69 L223.71,123.44 L223.77,124.18 L223.83,124.93 L223.89,125.69 L223.95,126.45 L224.01,127.21 L224.07,127.97 L224.13,128.74 L224.19,129.51 L224.25,130.29 L224.31,131.06 L224.37,131.84 L224.43,132.62 L224.49,133.39 L224.55,134.17 L224.61,134.95 L224.67,135.73 L224.73,136.51 L224.79,137.29 L224.85,138.07 L224.91,138.85 L224.97,139.62 L225.03,140.39 L225.09,141.17 L225.15,141.93 L225.21,142.70 L225.27,143.46 L225.33,144.22 L225.38,144.98 L225.44,145.73 L225.50,146.48 L225.56,147.22 L225.62,147.96 L225.68,148.69 L225.74,149.41 L225.80,150.14 L225.86,150.85 L225.92,151.56 L225.98,152.26 L226.04,152.95 L226.10,153.64 L226.16,154.32 L226.22,154.99 L226.28,155.66 L226.34,156.31 L226.40,156.96 L226.46,157.60 L226.52,158.23 L226.58,158.85 L226.64,159.46 L226.70,160.06 L226.76,160.65 L226.82,161.23 L226.88,161.79 L226.94,162.35 L227.00,162.90 L227.05,163.43 L227.11,163.96 L227.17,164.47 L227.23,164.97 L227.29,165.46 L227.35,165.94 L227.41,166.40 L227.47,166.85 L227.53,167.29 L227.59,167.71 L227.65,168.12 L227.71,168.52 L227.77,168.91 L227.83,169.28 L227.89,169.63 L227.95,169.98 L228.01,170.30 L228.07,170.62 L228.13,170.92 L228.19,171.20 L228.25,171.48 L228.31,171.73 L228.37,171.97 L228.43,172.20 L228.49,172.41 L228.55,172.61 L228.61,172.79 L228.67,172.95 L228.72,173.10 L228.78,173.24 L228.84,173.35 L228.90,173.46 L228.96,173.55 L229.02,173.62 L229.08,173.68 L229.14,173.72 L229.20,173.74 L229.26,173.75 L229.32,173.75 L229.38,173.72 L229.44,173.69 L229.50,173.63 L229.56,173.57 L229.62,173.48 L229.68,173.38 L229.74,173.27 L229.80,173.13 L229.86,172.99 L229.92,172.83 L229.98,172.65 L230.04,172.46 L230.10,172.25 L230.16,172.03 L230.22,171.79 L230.28,171.54 L230.34,171.27 L230.39,170.99 L230.45,170.69 L230.51,170.38 L230.57,170.06 L230.63,169.72 L230.69,169.36 L230.75,169.00 L230.81,168.61 L230.87,168.22 L230.93,167.81 L230.99,167.39 L231.05,166.96 L231.11,166.51 L231.17,166.05 L231.23,165.57 L231.29,165.09 L231.35,164.59 L231.41,164.08 L231.47,163.56 L231.53,163.03 L231.59,162.48 L231.65,161.93 L231.71,161.36 L231.77,160.79 L231.83,160.20 L231.89,159.60 L231.95,158.99 L232.01,158.38 L232.06,157.75 L232.12,157.11 L232.18,156.47 L232.24,155.82 L232.30,155.15 L232.36,154.48 L232.42,153.81 L232.48,153.12 L232.54,152.43 L232.60,151.73 L232.66,151.02 L232.72,150.31 L232.78,149.59 L232.84,148.86 L232.90,148.13 L232.96,147.40 L233.02,146.65 L233.08,145.91 L233.14,145.16 L233.20,144.40 L233.26,143.64 L233.32,142.88 L233.38,142.12 L233.44,141.35 L233.50,140.58 L233.56,139.81 L233.62,139.03 L233.68,138.26 L233.74,137.48 L233.79,136.70 L233.85,135.92 L233.91,135.14 L233.97,134.36 L234.03,133.58 L234.09,132.80 L234.15,132.02 L234.21,131.25 L234.27,130.47 L234.33,129.70 L234.39,128.93 L234.45,128.16 L234.51,127.39 L234.57,126.63 L234.63,125.87 L234.69,125.11 L234.75,124.36 L234.81,123.61 L234.87,122.87 L234.93,122.13 L234.99,121.40 L235.05,120.67 L235.11,119.95 L235.17,119.24 L235.23,118.53 L235.29,117.82 L235.35,117.13 L235.41,116.44 L235.46,115.76 L235.52,115.09 L235.58,114.42 L235.64,113.76 L235.70,113.12 L235.76,112.48 L235.82,111.85 L235.88,111.23 L235.94,110.62 L236.00,110.02 L236.06,109.42 L236.12,108.84 L236.18,108.27 L236.24,107.71 L236.30,107.17 L236.36,106.63 L236.42,106.10 L236.48,105.59 L236.54,105.09 L236.60,104.60 L236.66,104.12 L236.72,103.66 L236.78,103.20 L236.84,102.76 L236.90,102.34 L236.96,101.93 L237.02,101.53 L237.08,101.14 L237.13,100.77 L237.19,100.41 L237.25,100.06 L237.31,99.73 L237.37,99.42 L237.43,99.12 L237.49,98.83 L237.55,98.56 L237.61,98.30 L237.67,98.06 L237.73,97.83 L237.79,97.62 L237.85,97.42 L237.91,97.24 L237.97,97.07 L238.03,96.92 L238.09,96.78 L238.15,96.66 L238.21,96.55 L238.27,96.46 L238.33,96.39 L238.39,96.33 L238.45,96.29 L238.51,96.26 L238.57,96.25 L238.63,96.25 L238.69,96.27 L238.75,96.31 L238.80,96.36 L238.86,96.43 L238.92,96.51 L238.98,96.61 L239.04,96.72 L239.10,96.85 L239.16,96.99 L239.22,97.15 L239.28,97.33 L239.34,97.52 L239.40,97.72 L239.46,97.94 L239.52,98.18 L239.58,98.43 L239.64,98.70 L239.70,98.98 L239.76,99.27 L239.82,99.58 L239.88,99.90 L239.94,100.24 L240.00,100.59 L240.06,100.96 L240.12,101.34 L240.18,101.73 L240.24,102.14 L240.30,102.56 L240.36,102.99 L240.42,103.44 L240.48,103.90 L240.53,104.37 L240.59,104.85 L240.65,105.35 L240.71,105.86 L240.77,106.38 L240.83,106.91 L240.89,107.45 L240.95,108.00 L241.01,108.57 L241.07,109.14 L241.13,109.73 L241.19,110.33 L241.25,110.93 L241.31,111.55 L241.37,112.17 L241.43,112.81 L241.49,113.45 L241.55,114.11 L241.61,114.77 L241.67,115.44 L241.73,116.11 L241.79,116.80 L241.85,117.49 L241.91,118.19 L241.97,118.89 L242.03,119.61 L242.09,120.33 L242.15,121.05 L242.20,121.78 L242.26,122.52 L242.32,123.26 L242.38,124.00 L242.44,124.75 L242.50,125.51 L242.56,126.26 L242.62,127.03 L242.68,127.79 L242.74,128.56 L242.80,129.33 L242.86,130.10 L242.92,130.87 L242.98,131.65 L243.04,132.43 L243.10,133.21 L243.16,133.99 L243.22,134.77 L243.28,135.55 L243.34,136.33 L243.40,137.10 L243.46,137.88 L243.52,138.66 L243.58,139.44 L243.64,140.21 L243.70,140.98 L243.76,141.75 L243.82,142.52 L243.87,143.28 L243.93,144.04 L243.99,144.80 L244.05,145.55 L244.11,146.30 L244.17,147.04 L244.23,147.78 L244.29,148.51 L244.35,149.24 L244.41,149.96 L244.47,150.68 L244.53,151.39 L244.59,152.09 L244.65,152.79 L244.71,153.48 L244.77,154.16 L244.83,154.83 L244.89,155.50 L244.95,156.16 L245.01,156.81 L245.07,157.45 L245.13,158.08 L245.19,158.70 L245.25,159.31 L245.31,159.91 L245.37,160.51 L245.43,161.09 L245.49,161.66 L245.54,162.22 L245.60,162.77 L245.66,163.31 L245.72,163.83 L245.78,164.35 L245.84,164.85 L245.90,165.34 L245.96,165.82 L246.02,166.29 L246.08,166.74 L246.14,167.18 L246.20,167.61 L246.26,168.03 L246.32,168.43 L246.38,168.81 L246.44,169.19 L246.50,169.55 L246.56,169.89 L246.62,170.23 L246.68,170.54 L246.74,170.85 L246.80,171.14 L246.86,171.41 L246.92,171.67 L246.98,171.92 L247.04,172.15 L247.10,172.36 L247.16,172.56 L247.22,172.74 L247.27,172.91 L247.33,173.07 L247.39,173.20 L247.45,173.33 L247.51,173.44 L247.57,173.53 L247.63,173.60 L247.69,173.66 L247.75,173.71 L247.81,173.74 L247.87,173.75 L247.93,173.75 L247.99,173.73 L248.05,173.70 L248.11,173.65 L248.17,173.58 L248.23,173.50 L248.29,173.41 L248.35,173.29 L248.41,173.17 L248.47,173.03 L248.53,172.87 L248.59,172.69 L248.65,172.51 L248.71,172.30 L248.77,172.08 L248.83,171.85 L248.89,171.60 L248.94,171.34 L249.00,171.06 L249.06,170.76 L249.12,170.46 L249.18,170.14 L249.24,169.80 L249.30,169.45 L249.36,169.09 L249.42,168.71 L249.48,168.32 L249.54,167.91 L249.60,167.49 L249.66,167.06 L249.72,166.62 L249.78,166.16 L249.84,165.69 L249.90,165.21 L249.96,164.71 L250.02,164.21 L250.08,163.69 L250.14,163.16 L250.20,162.62 L250.26,162.06 L250.32,161.50 L250.38,160.93 L250.44,160.34 L250.50,159.75 L250.56,159.14 L250.61,158.53 L250.67,157.90 L250.73,157.27 L250.79,156.62 L250.85,155.97 L250.91,155.31 L250.97,154.65 L251.03,153.97 L251.09,153.29 L251.15,152.59 L251.21,151.90 L251.27,151.19 L251.33,150.48 L251.39,149.76 L251.45,149.04 L251.51,148.31 L251.57,147.57 L251.63,146.83 L251.69,146.09 L251.75,145.34 L251.81,144.58 L251.87,143.83 L251.93,143.07 L251.99,142.30 L252.05,141.53 L252.11,140.76 L252.17,139.99 L252.23,139.22 L252.28,138.44 L252.34,137.66 L252.40,136.89 L252.46,136.11 L252.52,135.33 L252.58,134.55 L252.64,133.77 L252.70,132.99 L252.76,132.21 L252.82,131.43 L252.88,130.66 L252.94,129.88 L253.00,129.11 L253.06,128.34 L253.12,127.58 L253.18,126.81 L253.24,126.05 L253.30,125.29 L253.36,124.54 L253.42,123.79 L253.48,123.05 L253.54,122.31 L253.60,121.58 L253.66,120.85 L253.72,120.12 L253.78,119.41 L253.84,118.70 L253.90,117.99 L253.96,117.29 L254.01,116.60 L254.07,115.92 L254.13,115.25 L254.19,114.58 L254.25,113.92 L254.31,113.27 L254.37,112.63 L254.43,112.00 L254.49,111.38 L254.55,110.76 L254.61,110.16 L254.67,109.57 L254.73,108.98 L254.79,108.41 L254.85,107.85 L254.91,107.30 L254.97,106.76 L255.03,106.23 L255.09,105.71 L255.15,105.21 L255.21,104.71 L255.27,104.23 L255.33,103.77 L255.39,103.31 L255.45,102.87 L255.51,102.44 L255.57,102.02 L255.63,101.62 L255.68,101.23 L255.74,100.86 L255.80,100.49 L255.86,100.15 L255.92,99.81 L255.98,99.49 L256.04,99.19 L256.10,98.90 L256.16,98.62 L256.22,98.36 L256.28,98.11 L256.34,97.88 L256.40,97.66 L256.46,97.46 L256.52,97.28 L256.58,97.11 L256.64,96.95 L256.70,96.81 L256.76,96.69 L256.82,96.58 L256.88,96.48 L256.94,96.41 L257.00,96.34 L257.06,96.30 L257.12,96.27 L257.18,96.25 L257.24,96.25 L257.30,96.27 L257.35,96.30 L257.41,96.35 L257.47,96.41 L257.53,96.49 L257.59,96.58 L257.65,96.69 L257.71,96.82 L257.77,96.96 L257.83,97.11 L257.89,97.28 L257.95,97.47 L258.01,97.67 L258.07,97.89 L258.13,98.12 L258.19,98.37 L258.25,98.63 L258.31,98.91 L258.37,99.20 L258.43,99.51 L258.49,99.83 L258.55,100.16 L258.61,100.51 L258.67,100.87 L258.73,101.25 L258.79,101.64 L258.85,102.04 L258.91,102.46 L258.97,102.89 L259.02,103.33 L259.08,103.79 L259.14,104.25 L259.20,104.73 L259.26,105.23 L259.32,105.73 L259.38,106.25 L259.44,106.78 L259.50,107.32 L259.56,107.87 L259.62,108.43 L259.68,109.01 L259.74,109.59 L259.80,110.18 L259.86,110.79 L259.92,111.40 L259.98,112.02 L260.04,112.66 L260.10,113.30 L260.16,113.95 L260.22,114.61 L260.28,115.27 L260.34,115.95 L260.40,116.63 L260.46,117.32 L260.52,118.02 L260.58,118.72 L260.64,119.44 L260.69,120.15 L260.75,120.88 L260.81,121.60 L260.87,122.34 L260.93,123.08 L260.99,123.82 L261.05,124.57 L261.11,125.32 L261.17,126.08 L261.23,126.84 L261.29,127.61 L261.35,128.37 L261.41,129.14 L261.47,129.91 L261.53,130.69 L261.59,131.46 L261.65,132.24 L261.71,133.02 L261.77,133.80 L261.83,134.58 L261.89,135.36 L261.95,136.14 L262.01,136.92 L262.07,137.70 L262.13,138.47 L262.19,139.25 L262.25,140.02 L262.31,140.80 L262.37,141.57 L262.42,142.33 L262.48,143.10 L262.54,143.86 L262.60,144.61 L262.66,145.37 L262.72,146.12 L262.78,146.86 L262.84,147.60 L262.90,148.34 L262.96,149.07 L263.02,149.79 L263.08,150.51 L263.14,151.22 L263.20,151.92 L263.26,152.62 L263.32,153.31 L263.38,154.00 L263.44,154.67 L263.50,155.34 L263.56,156.00 L263.62,156.65 L263.68,157.29 L263.74,157.93 L263.80,158.55 L263.86,159.16 L263.92,159.77 L263.98,160.36 L264.04,160.95 L264.09,161.52 L264.15,162.09 L264.21,162.64 L264.27,163.18 L264.33,163.71 L264.39,164.23 L264.45,164.73 L264.51,165.23 L264.57,165.71 L264.63,166.18 L264.69,166.63 L264.75,167.08 L264.81,167.51 L264.87,167.93 L264.93,168.33 L264.99,168.72 L265.05,169.10 L265.11,169.46 L265.17,169.81 L265.23,170.15 L265.29,170.47 L265.35,170.78 L265.41,171.07 L265.47,171.35 L265.53,171.61 L265.59,171.86 L265.65,172.09 L265.71,172.31 L265.76,172.51 L265.82,172.70 L265.88,172.87 L265.94,173.03 L266.00,173.17 L266.06,173.30 L266.12,173.41 L266.18,173.51 L266.24,173.59 L266.30,173.65 L266.36,173.70 L266.42,173.73 L266.48,173.75 L266.54,173.75 L266.60,173.74 L266.66,173.71 L266.72,173.66 L266.78,173.60 L266.84,173.52 L266.90,173.43 L266.96,173.32 L267.02,173.20 L267.08,173.06 L267.14,172.91 L267.20,172.74 L267.26,172.55 L267.32,172.35 L267.38,172.14 L267.43,171.91 L267.49,171.66 L267.55,171.40 L267.61,171.13 L267.67,170.84 L267.73,170.53 L267.79,170.21 L267.85,169.88 L267.91,169.53 L267.97,169.17 L268.03,168.80 L268.09,168.41 L268.15,168.01 L268.21,167.59 L268.27,167.17 L268.33,166.72 L268.39,166.27 L268.45,165.80 L268.51,165.32 L268.57,164.83 L268.63,164.33 L268.69,163.81 L268.75,163.29 L268.81,162.75 L268.87,162.20 L268.93,161.64 L268.99,161.06 L269.05,160.48 L269.11,159.89 L269.16,159.29 L269.22,158.67 L269.28,158.05 L269.34,157.42 L269.40,156.78 L269.46,156.13 L269.52,155.47 L269.58,154.81 L269.64,154.13 L269.70,153.45 L269.76,152.76 L269.82,152.06 L269.88,151.36 L269.94,150.65 L270.00,149.93 L270.06,149.21 L270.12,148.48 L270.18,147.75 L270.24,147.01 L270.30,146.27 L270.36,145.52 L270.42,144.77 L270.48,144.01 L270.54,143.25 L270.60,142.49 L270.66,141.72 L270.72,140.95 L270.78,140.18 L270.83,139.40 L270.89,138.63 L270.95,137.85 L271.01,137.07 L271.07,136.29 L271.13,135.51 L271.19,134.73 L271.25,133.96 L271.31,133.18 L271.37,132.40 L271.43,131.62 L271.49,130.84 L271.55,130.07 L271.61,129.30 L271.67,128.53 L271.73,127.76 L271.79,126.99 L271.85,126.23 L271.91,125.48 L271.97,124.72 L272.03,123.97 L272.09,123.23 L272.15,122.49 L272.21,121.75 L272.27,121.02 L272.33,120.30 L272.39,119.58 L272.45,118.87 L272.50,118.16 L272.56,117.46 L272.62,116.77 L272.68,116.09 L272.74,115.41 L272.80,114.74 L272.86,114.08 L272.92,113.43 L272.98,112.78 L273.04,112.15 L273.10,111.52 L273.16,110.91 L273.22,110.30 L273.28,109.71 L273.34,109.12 L273.40,108.55 L273.46,107.98 L273.52,107.43 L273.58,106.89 L273.64,106.35 L273.70,105.84 L273.76,105.33 L273.82,104.83 L273.88,104.35 L273.94,103.88 L274.00,103.42 L274.06,102.97 L274.12,102.54 L274.17,102.12 L274.23,101.72 L274.29,101.32 L274.35,100.94 L274.41,100.58 L274.47,100.23 L274.53,99.89 L274.59,99.57 L274.65,99.26 L274.71,98.97 L274.77,98.69 L274.83,98.42 L274.89,98.17 L274.95,97.94 L275.01,97.72 L275.07,97.51 L275.13,97.32 L275.19,97.15 L275.25,96.99 L275.31,96.84 L275.37,96.71 L275.43,96.60 L275.49,96.50 L275.55,96.42 L275.61,96.36 L275.67,96.31 L275.73,96.27 L275.79,96.25 L275.85,96.25 L275.90,96.26 L275.96,96.29 L276.02,96.33 L276.08,96.39 L276.14,96.47 L276.20,96.56 L276.26,96.66 L276.32,96.78 L276.38,96.92 L276.44,97.07 L276.50,97.24 L276.56,97.43 L276.62,97.62 L276.68,97.84 L276.74,98.07 L276.80,98.31 L276.86,98.57 L276.92,98.84 L276.98,99.13 L277.04,99.43 L277.10,99.75 L277.16,100.08 L277.22,100.42 L277.28,100.78 L277.34,101.15 L277.40,101.54 L277.46,101.94 L277.52,102.36 L277.57,102.78 L277.63,103.22 L277.69,103.67 L277.75,104.14 L277.81,104.62 L277.87,105.11 L277.93,105.61 L277.99,106.12 L278.05,106.65 L278.11,107.19 L278.17,107.74 L278.23,108.30 L278.29,108.87 L278.35,109.45 L278.41,110.04 L278.47,110.64 L278.53,111.25 L278.59,111.87 L278.65,112.50 L278.71,113.14 L278.77,113.79 L278.83,114.45 L278.89,115.11 L278.95,115.79 L279.01,116.47 L279.07,117.16 L279.13,117.85 L279.19,118.55 L279.24,119.26 L279.30,119.98 L279.36,120.70 L279.42,121.43 L279.48,122.16 L279.54,122.90 L279.60,123.64 L279.66,124.39 L279.72,125.14 L279.78,125.90 L279.84,126.66 L279.90,127.42 L279.96,128.19 L280.02,128.96 L280.08,129.73 L280.14,130.50 L280.20,131.28 L280.26,132.06 L280.32,132.83 L280.38,133.61 L280.44,134.39 L280.50,135.17 L280.56,135.95 L280.62,136.73 L280.68,137.51 L280.74,138.29 L280.80,139.06 L280.86,139.84 L280.91,140.61 L280.97,141.38 L281.03,142.15 L281.09,142.91 L281.15,143.68 L281.21,144.43 L281.27,145.19 L281.33,145.94 L281.39,146.68 L281.45,147.43 L281.51,148.16 L281.57,148.89 L281.63,149.62 L281.69,150.34 L281.75,151.05 L281.81,151.76 L281.87,152.46 L281.93,153.15 L281.99,153.83 L282.05,154.51 L282.11,155.18 L282.17,155.84 L282.23,156.50 L282.29,157.14 L282.35,157.78 L282.41,158.40 L282.47,159.02 L282.53,159.63 L282.59,160.22 L282.64,160.81 L282.70,161.39 L282.76,161.95 L282.82,162.51 L282.88,163.05 L282.94,163.58 L283.00,164.10 L283.06,164.61 L283.12,165.11 L283.18,165.59 L283.24,166.07 L283.30,166.53 L283.36,166.97 L283.42,167.41 L283.48,167.83 L283.54,168.24 L283.60,168.63 L283.66,169.01 L283.72,169.38 L283.78,169.73 L283.84,170.07 L283.90,170.39 L283.96,170.70 L284.02,171.00 L284.08,171.28 L284.14,171.55 L284.20,171.80 L284.26,172.04 L284.31,172.26 L284.37,172.47 L284.43,172.66 L284.49,172.83 L284.55,172.99 L284.61,173.14 L284.67,173.27 L284.73,173.39 L284.79,173.48 L284.85,173.57 L284.91,173.64 L284.97,173.69 L285.03,173.73 L285.09,173.75 L285.15,173.75 L285.21,173.74 L285.27,173.72 L285.33,173.67 L285.39,173.62 L285.45,173.54 L285.51,173.45 L285.57,173.35 L285.63,173.23 L285.69,173.10 L285.75,172.94 L285.81,172.78 L285.87,172.60 L285.93,172.40 L285.98,172.19 L286.04,171.96 L286.10,171.72 L286.16,171.46 L286.22,171.19 L286.28,170.91 L286.34,170.61 L286.40,170.29 L286.46,169.96 L286.52,169.62 L286.58,169.26 L286.64,168.89 L286.70,168.51 L286.76,168.11 L286.82,167.69 L286.88,167.27 L286.94,166.83 L287.00,166.38 L287.06,165.92 L287.12,165.44 L287.18,164.95 L287.24,164.45 L287.30,163.94 L287.36,163.41 L287.42,162.88 L287.48,162.33 L287.54,161.77 L287.60,161.20 L287.65,160.62 L287.71,160.03 L287.77,159.43 L287.83,158.82 L287.89,158.20 L287.95,157.57 L288.01,156.93 L288.07,156.29 L288.13,155.63 L288.19,154.97 L288.25,154.29 L288.31,153.61 L288.37,152.93 L288.43,152.23 L288.49,151.53 L288.55,150.82 L288.61,150.11 L288.67,149.39 L288.73,148.66 L288.79,147.93 L288.85,147.19 L288.91,146.45 L288.97,145.70 L289.03,144.95 L289.09,144.19 L289.15,143.43 L289.21,142.67 L289.27,141.90 L289.32,141.13 L289.38,140.36 L289.44,139.59 L289.50,138.81 L289.56,138.04 L289.62,137.26 L289.68,136.48 L289.74,135.70 L289.80,134.92 L289.86,134.14 L289.92,133.36 L289.98,132.58 L290.04,131.81 L290.10,131.03 L290.16,130.26 L290.22,129.48 L290.28,128.71 L290.34,127.94 L290.40,127.18 L290.46,126.42 L290.52,125.66 L290.58,124.90 L290.64,124.15 L290.70,123.41 L290.76,122.66 L290.82,121.93 L290.88,121.20 L290.94,120.47 L291.00,119.75 L291.05,119.04 L291.11,118.33 L291.17,117.63 L291.23,116.93 L291.29,116.25 L291.35,115.57 L291.41,114.90 L291.47,114.24 L291.53,113.58 L291.59,112.94 L291.65,112.30 L291.71,111.67 L291.77,111.06 L291.83,110.45 L291.89,109.85 L291.95,109.26 L292.01,108.68 L292.07,108.12 L292.13,107.56 L292.19,107.01 L292.25,106.48 L292.31,105.96 L292.37,105.45 L292.43,104.95 L292.49,104.46 L292.55,103.99 L292.61,103.53 L292.67,103.08 L292.72,102.64 L292.78,102.22 L292.84,101.81 L292.90,101.42 L292.96,101.03 L293.02,100.67 L293.08,100.31 L293.14,99.97 L293.20,99.64 L293.26,99.33 L293.32,99.03 L293.38,98.75 L293.44,98.48 L293.50,98.23 L293.56,97.99 L293.62,97.77 L293.68,97.56 L293.74,97.36 L293.80,97.19 L293.86,97.02 L293.92,96.88 L293.98,96.74 L294.04,96.63 L294.10,96.53 L294.16,96.44 L294.22,96.37 L294.28,96.32 L294.34,96.28 L294.39,96.26 L294.45,96.25 L294.51,96.26 L294.57,96.28 L294.63,96.32 L294.69,96.38 L294.75,96.45 L294.81,96.53 L294.87,96.64 L294.93,96.75 L294.99,96.89 L295.05,97.04 L295.11,97.20 L295.17,97.38 L295.23,97.57 L295.29,97.78 L295.35,98.01 L295.41,98.25 L295.47,98.50 L295.53,98.77 L295.59,99.06 L295.65,99.36 L295.71,99.67 L295.77,100.00 L295.83,100.34 L295.89,100.69 L295.95,101.06 L296.01,101.45 L296.06,101.84 L296.12,102.25 L296.18,102.68 L296.24,103.12 L296.30,103.56 L296.36,104.03 L296.42,104.50 L296.48,104.99 L296.54,105.49 L296.60,106.00 L296.66,106.52 L296.72,107.06 L296.78,107.60 L296.84,108.16 L296.90,108.73 L296.96,109.31 L297.02,109.90 L297.08,110.50 L297.14,111.10 L297.20,111.72 L297.26,112.35 L297.32,112.99 L297.38,113.63 L297.44,114.29 L297.50,114.95 L297.56,115.62 L297.62,116.30 L297.68,116.99 L297.74,117.68 L297.79,118.39 L297.85,119.09 L297.91,119.81 L297.97,120.53 L298.03,121.25 L298.09,121.99 L298.15,122.72 L298.21,123.46 L298.27,124.21 L298.33,124.96 L298.39,125.72 L298.45,126.48 L298.51,127.24 L298.57,128.00 L298.63,128.77 L298.69,129.54 L298.75,130.32 L298.81,131.09 L298.87,131.87 L298.93,132.65 L298.99,133.43 L299.05,134.20 L299.11,134.98 L299.17,135.76 L299.23,136.54 L299.29,137.32 L299.35,138.10 L299.41,138.88 L299.46,139.65 L299.52,140.43 L299.58,141.20 L299.64,141.96 L299.70,142.73 L299.76,143.49 L299.82,144.25 L299.88,145.01 L299.94,145.76 L300.00,146.51 L300.06,147.25 L300.12,147.98 L300.18,148.72 L300.24,149.44 L300.30,150.16 L300.36,150.88 L300.42,151.59 L300.48,152.29 L300.54,152.98 L300.60,153.67 L300.66,154.35 L300.72,155.02 L300.78,155.68 L300.84,156.34 L300.90,156.99 L300.96,157.62 L301.02,158.25 L301.08,158.87 L301.13,159.48 L301.19,160.08 L301.25,160.67 L301.31,161.25 L301.37,161.82 L301.43,162.37 L301.49,162.92 L301.55,163.46 L301.61,163.98 L301.67,164.49 L301.73,164.99 L301.79,165.48 L301.85,165.95 L301.91,166.42 L301.97,166.87 L302.03,167.30 L302.09,167.73 L302.15,168.14 L302.21,168.54 L302.27,168.92 L302.33,169.29 L302.39,169.65 L302.45,169.99 L302.51,170.32 L302.57,170.63 L302.63,170.93 L302.69,171.22 L302.75,171.49 L302.80,171.74 L302.86,171.98 L302.92,172.21 L302.98,172.42 L303.04,172.61 L303.10,172.79 L303.16,172.96 L303.22,173.11 L303.28,173.24 L303.34,173.36 L303.40,173.46 L303.46,173.55 L303.52,173.62 L303.58,173.68 L303.64,173.72 L303.70,173.74 L303.76,173.75 L303.82,173.75 L303.88,173.72 L303.94,173.69 L304.00,173.63 L304.06,173.56 L304.12,173.48 L304.18,173.38 L304.24,173.26 L304.30,173.13 L304.36,172.98 L304.42,172.82 L304.48,172.64 L304.53,172.45 L304.59,172.24 L304.65,172.02 L304.71,171.78 L304.77,171.53 L304.83,171.26 L304.89,170.98 L304.95,170.68 L305.01,170.37 L305.07,170.04 L305.13,169.70 L305.19,169.35 L305.25,168.98 L305.31,168.60 L305.37,168.20 L305.43,167.80 L305.49,167.37 L305.55,166.94 L305.61,166.49 L305.67,166.03 L305.73,165.56 L305.79,165.07 L305.85,164.57 L305.91,164.06 L305.97,163.54 L306.03,163.01 L306.09,162.46 L306.15,161.91 L306.20,161.34 L306.26,160.76 L306.32,160.18 L306.38,159.58 L306.44,158.97 L306.50,158.35 L306.56,157.72 L306.62,157.09 L306.68,156.44 L306.74,155.79 L306.80,155.13 L306.86,154.46 L306.92,153.78 L306.98,153.09 L307.04,152.40 L307.10,151.70 L307.16,150.99 L307.22,150.28 L307.28,149.56 L307.34,148.83 L307.40,148.10 L307.46,147.37 L307.52,146.62 L307.58,145.88 L307.64,145.13 L307.70,144.37 L307.76,143.61 L307.82,142.85 L307.87,142.09 L307.93,141.32 L307.99,140.55 L308.05,139.78 L308.11,139.00 L308.17,138.22 L308.23,137.45 L308.29,136.67 L308.35,135.89 L308.41,135.11 L308.47,134.33 L308.53,133.55 L308.59,132.77 L308.65,131.99 L308.71,131.22 L308.77,130.44 L308.83,129.67 L308.89,128.90 L308.95,128.13 L309.01,127.36 L309.07,126.60 L309.13,125.84 L309.19,125.08 L309.25,124.33 L309.31,123.58 L309.37,122.84 L309.43,122.10 L309.49,121.37 L309.54,120.64 L309.60,119.92 L309.66,119.21 L309.72,118.50 L309.78,117.80 L309.84,117.10 L309.90,116.41 L309.96,115.73 L310.02,115.06 L310.08,114.39 L310.14,113.74 L310.20,113.09 L310.26,112.45 L310.32,111.82 L310.38,111.20 L310.44,110.59 L310.50,109.99 L310.56,109.40 L310.62,108.82 L310.68,108.25 L310.74,107.69 L310.80,107.14 L310.86,106.61 L310.92,106.08 L310.98,105.57 L311.04,105.07 L311.10,104.58 L311.16,104.10 L311.22,103.64 L311.27,103.19 L311.33,102.75 L311.39,102.32 L311.45,101.91 L311.51,101.51 L311.57,101.12 L311.63,100.75 L311.69,100.39 L311.75,100.05 L311.81,99.72 L311.87,99.41 L311.93,99.10 L311.99,98.82 L312.05,98.55 L312.11,98.29 L312.17,98.05 L312.23,97.82 L312.29,97.61 L312.35,97.41 L312.41,97.23 L312.47,97.06 L312.53,96.91 L312.59,96.77 L312.65,96.65 L312.71,96.55 L312.77,96.46 L312.83,96.39 L312.89,96.33 L312.94,96.29 L313.00,96.26 L313.06,96.25 L313.12,96.25 L313.18,96.27 L313.24,96.31 L313.30,96.36 L313.36,96.43 L313.42,96.51 L313.48,96.61 L313.54,96.72 L313.60,96.85 L313.66,97.00 L313.72,97.16 L313.78,97.34 L313.84,97.53 L313.90,97.73 L313.96,97.95 L314.02,98.19 L314.08,98.44 L314.14,98.71 L314.20,98.99 L314.26,99.28 L314.32,99.59 L314.38,99.92 L314.44,100.26 L314.50,100.61 L314.56,100.97 L314.61,101.35 L314.67,101.75 L314.73,102.16 L314.79,102.58 L314.85,103.01 L314.91,103.46 L314.97,103.92 L315.03,104.39 L315.09,104.87 L315.15,105.37 L315.21,105.88 L315.27,106.40 L315.33,106.93 L315.39,107.47 L315.45,108.03 L315.51,108.59 L315.57,109.17 L315.63,109.75 L315.69,110.35 L315.75,110.96 L315.81,111.57 L315.87,112.20 L315.93,112.83 L315.99,113.48 L316.05,114.13 L316.11,114.79 L316.17,115.46 L316.23,116.14 L316.28,116.82 L316.34,117.52 L316.40,118.22 L316.46,118.92 L316.52,119.64 L316.58,120.35 L316.64,121.08 L316.70,121.81 L316.76,122.55 L316.82,123.29 L316.88,124.03 L316.94,124.78 L317.00,125.54 L317.06,126.29 L317.12,127.06 L317.18,127.82 L317.24,128.59 L317.30,129.36 L317.36,130.13 L317.42,130.91 L317.48,131.68 L317.54,132.46 L317.60,133.24 L317.66,134.02 L317.72,134.80 L317.78,135.58 L317.84,136.36 L317.90,137.14 L317.95,137.91 L318.01,138.69 L318.07,139.47 L318.13,140.24 L318.19,141.01 L318.25,141.78 L318.31,142.55 L318.37,143.31 L318.43,144.07 L318.49,144.83 L318.55,145.58 L318.61,146.33 L318.67,147.07 L318.73,147.81 L318.79,148.54 L318.85,149.27 L318.91,149.99 L318.97,150.71 L319.03,151.42 L319.09,152.12 L319.15,152.82 L319.21,153.51 L319.27,154.19 L319.33,154.86 L319.39,155.53 L319.45,156.18 L319.51,156.83 L319.57,157.47 L319.63,158.10 L319.68,158.72 L319.74,159.34 L319.80,159.94 L319.86,160.53 L319.92,161.11 L319.98,161.68 L320.04,162.24 L320.10,162.79 L320.16,163.33 L320.22,163.85 L320.28,164.37 L320.34,164.87 L320.40,165.36 L320.46,165.84 L320.52,166.31 L320.58,166.76 L320.64,167.20 L320.70,167.63 L320.76,168.04 L320.82,168.44 L320.88,168.83 L320.94,169.20 L321.00,169.56 L321.06,169.91 L321.12,170.24 L321.18,170.56 L321.24,170.86 L321.30,171.15 L321.35,171.42 L321.41,171.68 L321.47,171.93 L321.53,172.15 L321.59,172.37 L321.65,172.57 L321.71,172.75 L321.77,172.92 L321.83,173.07 L321.89,173.21 L321.95,173.33 L322.01,173.44 L322.07,173.53 L322.13,173.61 L322.19,173.67 L322.25,173.71 L322.31,173.74 L322.37,173.75 L322.43,173.75 L322.49,173.73 L322.55,173.70 L322.61,173.65 L322.67,173.58 L322.73,173.50 L322.79,173.40 L322.85,173.29 L322.91,173.16 L322.97,173.02 L323.02,172.86 L323.08,172.69 L323.14,172.50 L323.20,172.29 L323.26,172.07 L323.32,171.84 L323.38,171.59 L323.44,171.33 L323.50,171.05 L323.56,170.75 L323.62,170.44 L323.68,170.12 L323.74,169.79 L323.80,169.44 L323.86,169.07 L323.92,168.69 L323.98,168.30 L324.04,167.89 L324.10,167.48 L324.16,167.04 L324.22,166.60 L324.28,166.14 L324.34,165.67 L324.40,165.19 L324.46,164.69 L324.52,164.19 L324.58,163.67 L324.64,163.14 L324.69,162.59 L324.75,162.04 L324.81,161.48 L324.87,160.90 L324.93,160.32 L324.99,159.72 L325.05,159.12 L325.11,158.50 L325.17,157.88 L325.23,157.24 L325.29,156.60 L325.35,155.95 L325.41,155.29 L325.47,154.62 L325.53,153.94 L325.59,153.26 L325.65,152.57 L325.71,151.87 L325.77,151.16 L325.83,150.45 L325.89,149.73 L325.95,149.01 L326.01,148.28 L326.07,147.54 L326.13,146.80 L326.19,146.06 L326.25,145.31 L326.31,144.55 L326.37,143.80 L326.42,143.04 L326.48,142.27 L326.54,141.50 L326.60,140.73 L326.66,139.96 L326.72,139.19 L326.78,138.41 L326.84,137.63 L326.90,136.86 L326.96,136.08 L327.02,135.30 L327.08,134.52 L327.14,133.74 L327.20,132.96 L327.26,132.18 L327.32,131.40 L327.38,130.63 L327.44,129.85 L327.50,129.08 L327.56,128.31 L327.62,127.55 L327.68,126.78 L327.74,126.02 L327.80,125.26 L327.86,124.51 L327.92,123.76 L327.98,123.02 L328.04,122.28 L328.09,121.55 L328.15,120.82 L328.21,120.09 L328.27,119.38 L328.33,118.67 L328.39,117.96 L328.45,117.27 L328.51,116.58 L328.57,115.89 L328.63,115.22 L328.69,114.55 L328.75,113.90 L328.81,113.25 L328.87,112.60 L328.93,111.97 L328.99,111.35 L329.05,110.74 L329.11,110.13 L329.17,109.54 L329.23,108.96 L329.29,108.39 L329.35,107.83 L329.41,107.27 L329.47,106.74 L329.53,106.21 L329.59,105.69 L329.65,105.19 L329.71,104.70 L329.76,104.22 L329.82,103.75 L329.88,103.29 L329.94,102.85 L330.00,102.42 L330.06,102.01 L330.12,101.60 L330.18,101.22 L330.24,100.84 L330.30,100.48 L330.36,100.13 L330.42,99.80 L330.48,99.48 L330.54,99.18 L330.60,98.89 L330.66,98.61 L330.72,98.35 L330.78,98.10 L330.84,97.87 L330.90,97.66 L330.96,97.46 L331.02,97.27 L331.08,97.10 L331.14,96.95 L331.20,96.81 L331.26,96.68 L331.32,96.57 L331.38,96.48 L331.43,96.40 L331.49,96.34 L331.55,96.29 L331.61,96.26 L331.67,96.25 L331.73,96.25 L331.79,96.27 L331.85,96.30 L331.91,96.35 L331.97,96.41 L332.03,96.49 L332.09,96.59 L332.15,96.70 L332.21,96.82 L332.27,96.96 L332.33,97.12 L332.39,97.29 L332.45,97.48 L332.51,97.68 L332.57,97.90 L332.63,98.13 L332.69,98.38 L332.75,98.64 L332.81,98.92 L332.87,99.21 L332.93,99.52 L332.99,99.84 L333.05,100.17 L333.11,100.52 L333.16,100.89 L333.22,101.26 L333.28,101.65 L333.34,102.06 L333.40,102.47 L333.46,102.90 L333.52,103.35 L333.58,103.80 L333.64,104.27 L333.70,104.75 L333.76,105.25 L333.82,105.75 L333.88,106.27 L333.94,106.80 L334.00,107.34 L334.06,107.89 L334.12,108.45 L334.18,109.03 L334.24,109.61 L334.30,110.21 L334.36,110.81 L334.42,111.42 L334.48,112.05 L334.54,112.68 L334.60,113.32 L334.66,113.97 L334.72,114.63 L334.78,115.30 L334.83,115.98 L334.89,116.66 L334.95,117.35 L335.01,118.05 L335.07,118.75 L335.13,119.46 L335.19,120.18 L335.25,120.90 L335.31,121.63 L335.37,122.37 L335.43,123.11 L335.49,123.85 L335.55,124.60 L335.61,125.35 L335.67,126.11 L335.73,126.87 L335.79,127.64 L335.85,128.40 L335.91,129.17 L335.97,129.95 L336.03,130.72 L336.09,131.50 L336.15,132.27 L336.21,133.05 L336.27,133.83 L336.33,134.61 L336.39,135.39 L336.45,136.17 L336.50,136.95 L336.56,137.73 L336.62,138.50 L336.68,139.28 L336.74,140.05 L336.80,140.83 L336.86,141.60 L336.92,142.36 L336.98,143.13 L337.04,143.89 L337.10,144.65 L337.16,145.40 L337.22,146.15 L337.28,146.89 L337.34,147.63 L337.40,148.37 L337.46,149.10 L337.52,149.82 L337.58,150.54 L337.64,151.25 L337.70,151.95 L337.76,152.65 L337.82,153.34 L337.88,154.02 L337.94,154.70 L338.00,155.37 L338.06,156.03 L338.12,156.68 L338.17,157.32 L338.23,157.95 L338.29,158.58 L338.35,159.19 L338.41,159.79 L338.47,160.39 L338.53,160.97 L338.59,161.55 L338.65,162.11 L338.71,162.66 L338.77,163.20 L338.83,163.73 L338.89,164.25 L338.95,164.75 L339.01,165.25 L339.07,165.73 L339.13,166.20 L339.19,166.65 L339.25,167.10 L339.31,167.53 L339.37,167.94 L339.43,168.35 L339.49,168.74 L339.55,169.11 L339.61,169.48 L339.67,169.83 L339.73,170.16 L339.79,170.48 L339.85,170.79 L339.90,171.08 L339.96,171.36 L340.02,171.62 L340.08,171.87 L340.14,172.10 L340.20,172.32 L340.26,172.52 L340.32,172.71 L340.38,172.88 L340.44,173.04 L340.50,173.18 L340.56,173.30 L340.62,173.41 L340.68,173.51 L340.74,173.59 L340.80,173.65 L340.86,173.70 L340.92,173.73 L340.98,173.75 L341.04,173.75 L341.10,173.74 L341.16,173.71 L341.22,173.66 L341.28,173.60 L341.34,173.52 L341.40,173.43 L341.46,173.32 L341.52,173.19 L341.57,173.05 L341.63,172.90 L341.69,172.73 L341.75,172.54 L341.81,172.34 L341.87,172.13 L341.93,171.90 L341.99,171.65 L342.05,171.39 L342.11,171.11 L342.17,170.82 L342.23,170.52 L342.29,170.20 L342.35,169.87 L342.41,169.52 L342.47,169.16 L342.53,168.78 L342.59,168.40 L342.65,167.99 L342.71,167.58 L342.77,167.15 L342.83,166.71 L342.89,166.25 L342.95,165.78 L343.01,165.30 L343.07,164.81 L343.13,164.31 L343.19,163.79 L343.24,163.26 L343.30,162.73 L343.36,162.17 L343.42,161.61 L343.48,161.04 L343.54,160.46 L343.60,159.87 L343.66,159.26 L343.72,158.65 L343.78,158.03 L343.84,157.40 L343.90,156.75 L343.96,156.10 L344.02,155.45 L344.08,154.78 L344.14,154.11 L344.20,153.42 L344.26,152.73 L344.32,152.04 L344.38,151.33 L344.44,150.62 L344.50,149.91 L344.56,149.18 L344.62,148.45 L344.68,147.72 L344.74,146.98 L344.80,146.24 L344.86,145.49 L344.91,144.74 L344.97,143.98 L345.03,143.22 L345.09,142.45 L345.15,141.69 L345.21,140.92 L345.27,140.15 L345.33,139.37 L345.39,138.60 L345.45,137.82 L345.51,137.04 L345.57,136.26 L345.63,135.48 L345.69,134.70 L345.75,133.92 L345.81,133.14 L345.87,132.37 L345.93,131.59 L345.99,130.81 L346.05,130.04 L346.11,129.27 L346.17,128.50 L346.23,127.73 L346.29,126.96 L346.35,126.20 L346.41,125.45 L346.47,124.69 L346.53,123.94 L346.58,123.20 L346.64,122.46 L346.70,121.72 L346.76,120.99 L346.82,120.27 L346.88,119.55 L346.94,118.84 L347.00,118.13 L347.06,117.43 L347.12,116.74 L347.18,116.06 L347.24,115.38 L347.30,114.71 L347.36,114.05 L347.42,113.40 L347.48,112.76 L347.54,112.12 L347.60,111.50 L347.66,110.88 L347.72,110.28 L347.78,109.68 L347.84,109.10 L347.90,108.52 L347.96,107.96 L348.02,107.41 L348.08,106.86 L348.14,106.33 L348.20,105.81 L348.26,105.31 L348.31,104.81 L348.37,104.33 L348.43,103.86 L348.49,103.40 L348.55,102.96 L348.61,102.52 L348.67,102.11 L348.73,101.70 L348.79,101.31 L348.85,100.93 L348.91,100.56 L348.97,100.21 L349.03,99.88 L349.09,99.56 L349.15,99.25 L349.21,98.95 L349.27,98.67 L349.33,98.41 L349.39,98.16 L349.45,97.93 L349.51,97.71 L349.57,97.50 L349.63,97.31 L349.69,97.14 L349.75,96.98 L349.81,96.84 L349.87,96.71 L349.93,96.60 L349.98,96.50 L350.04,96.42 L350.10,96.35 L350.16,96.30 L350.22,96.27 L350.28,96.25 L350.34,96.25 L350.40,96.26 L350.46,96.29 L350.52,96.33 L350.58,96.39 L350.64,96.47 L350.70,96.56 L350.76,96.67 L350.82,96.79 L350.88,96.93 L350.94,97.08 L351.00,97.25 L351.06,97.43 L351.12,97.63 L351.18,97.85 L351.24,98.07 L351.30,98.32 L351.36,98.58 L351.42,98.85 L351.48,99.14 L351.54,99.44 L351.60,99.76 L351.65,100.09 L351.71,100.44 L351.77,100.80 L351.83,101.17 L351.89,101.56 L351.95,101.96 L352.01,102.37 L352.07,102.80 L352.13,103.24 L352.19,103.69 L352.25,104.16 L352.31,104.64 L352.37,105.13 L352.43,105.63 L352.49,106.15 L352.55,106.67 L352.61,107.21 L352.67,107.76 L352.73,108.32 L352.79,108.89 L352.85,109.47 L352.91,110.06 L352.97,110.66 L353.03,111.28 L353.09,111.90 L353.15,112.53 L353.21,113.17 L353.27,113.82 L353.32,114.47 L353.38,115.14 L353.44,115.81 L353.50,116.49 L353.56,117.18 L353.62,117.88 L353.68,118.58 L353.74,119.29 L353.80,120.01 L353.86,120.73 L353.92,121.46 L353.98,122.19 L354.04,122.93 L354.10,123.67 L354.16,124.42 L354.22,125.17 L354.28,125.93 L354.34,126.69 L354.40,127.45 L354.46,128.22 L354.52,128.99 L354.58,129.76 L354.64,130.53 L354.70,131.31 L354.76,132.09 L354.82,132.86 L354.88,133.64 L354.94,134.42 L355.00,135.20 L355.05,135.98 L355.11,136.76 L355.17,137.54 L355.23,138.32 L355.29,139.09 L355.35,139.87 L355.41,140.64 L355.47,141.41 L355.53,142.18 L355.59,142.94 L355.65,143.71 L355.71,144.46 L355.77,145.22 L355.83,145.97 L355.89,146.71 L355.95,147.45 L356.01,148.19 L356.07,148.92 L356.13,149.65 L356.19,150.36 L356.25,151.08 L356.31,151.78 L356.37,152.48 L356.43,153.18 L356.49,153.86 L356.55,154.54 L356.61,155.21 L356.67,155.87 L356.72,156.52 L356.78,157.17 L356.84,157.80 L356.90,158.43 L356.96,159.04 L357.02,159.65 L357.08,160.25 L357.14,160.83 L357.20,161.41 L357.26,161.97 L357.32,162.53 L357.38,163.07 L357.44,163.60 L357.50,164.12 L357.56,164.63 L357.62,165.13 L357.68,165.61 L357.74,166.08 L357.80,166.54 L357.86,166.99 L357.92,167.42 L357.98,167.84 L358.04,168.25 L358.10,168.65 L358.16,169.03 L358.22,169.39 L358.28,169.74 L358.34,170.08 L358.39,170.41 L358.45,170.72 L358.51,171.01 L358.57,171.29 L358.63,171.56 L358.69,171.81 L358.75,172.05 L358.81,172.27 L358.87,172.47 L358.93,172.66 L358.99,172.84 L359.05,173.00 L359.11,173.15 L359.17,173.28 L359.23,173.39 L359.29,173.49 L359.35,173.57 L359.41,173.64 L359.47,173.69 L359.53,173.73 L359.59,173.75 L359.65,173.75 L359.71,173.74 L359.77,173.71 L359.83,173.67 L359.89,173.61 L359.95,173.54 L360.01,173.45 L360.06,173.35 L360.12,173.23 L360.18,173.09 L360.24,172.94 L360.30,172.77 L360.36,172.59 L360.42,172.39 L360.48,172.18 L360.54,171.95 L360.60,171.71 L360.66,171.45 L360.72,171.18 L360.78,170.90 L360.84,170.59 L360.90,170.28" fill="none" stroke="#ff7f0e" stroke-width="1.5" stroke-linejoin="round" stroke-linecap="butt" />
</g>
<path d="M89.1,53.70 L125.1,53.70" fill="none" stroke="#ff7f0e" stroke-width="1.4" stroke-linejoin="round" stroke-linecap="butt" /><path d="M89.1,78.10 L125.1,78.10" fill="none" stroke="#2ca02c" stroke-width="2.1" stroke-linejoin="round" stroke-linecap="butt" /><g class="t" font-family="'Liberation Sans', sans-serif" fill="#000" stroke="#000" stroke-width="0.3" font-size="17"><text transform="translate(138,59.90) scale(1,1.055)">Optical Potential</text><text transform="translate(138,84.30) scale(1,1.055)">Atom Density</text></g>
<g clip-path="url(#ca)">
<path d="M74.60,226.29 L74.66,226.29 L74.72,226.29 L74.78,226.30 L74.84,226.30 L74.90,226.31 L74.96,226.32 L75.02,226.33 L75.08,226.34 L75.14,226.35 L75.20,226.36 L75.26,226.37 L75.32,226.38 L75.38,226.38 L75.44,226.39 L75.49,226.40 L75.55,226.40 L75.61,226.40 L75.67,226.41 L75.73,226.41 L75.79,226.41 L75.85,226.41 L75.91,226.40 L75.97,226.40 L76.03,226.39 L76.09,226.39 L76.15,226.37 L76.21,226.36 L76.27,226.33 L76.33,226.31 L76.39,226.28 L76.45,226.26 L76.51,226.23 L76.57,226.21 L76.63,226.18 L76.69,226.15 L76.75,226.13 L76.81,226.11 L76.87,226.09 L76.93,226.09 L76.99,226.08 L77.05,226.08 L77.11,226.09 L77.16,226.09 L77.22,226.10 L77.28,226.11 L77.34,226.12 L77.40,226.14 L77.46,226.16 L77.52,226.18 L77.58,226.20 L77.64,226.23 L77.70,226.25 L77.76,226.28 L77.82,226.31 L77.88,226.34 L77.94,226.37 L78.00,226.40 L78.06,226.43 L78.12,226.46 L78.18,226.48 L78.24,226.50 L78.30,226.52 L78.36,226.53 L78.42,226.53 L78.48,226.54 L78.54,226.54 L78.60,226.53 L78.66,226.51 L78.72,226.47 L78.78,226.42 L78.83,226.35 L78.89,226.29 L78.95,226.21 L79.01,226.14 L79.07,226.05 L79.13,225.97 L79.19,225.89 L79.25,225.81 L79.31,225.72 L79.37,225.64 L79.43,225.56 L79.49,225.49 L79.55,225.41 L79.61,225.33 L79.67,225.25 L79.73,225.17 L79.79,225.08 L79.85,225.01 L79.91,224.93 L79.97,224.85 L80.03,224.78 L80.09,224.71 L80.15,224.65 L80.21,224.58 L80.27,224.52 L80.33,224.48 L80.39,224.44 L80.45,224.41 L80.50,224.38 L80.56,224.37 L80.62,224.37 L80.68,224.38 L80.74,224.42 L80.80,224.46 L80.86,224.50 L80.92,224.56 L80.98,224.62 L81.04,224.72 L81.10,224.83 L81.16,224.95 L81.22,225.08 L81.28,225.21 L81.34,225.35 L81.40,225.47 L81.46,225.58 L81.52,225.68 L81.58,225.78 L81.64,225.87 L81.70,225.97 L81.76,226.06 L81.82,226.15 L81.88,226.23 L81.94,226.29 L82.00,226.33 L82.06,226.37 L82.12,226.41 L82.18,226.44 L82.23,226.47 L82.29,226.49 L82.35,226.51 L82.41,226.53 L82.47,226.55 L82.53,226.57 L82.59,226.58 L82.65,226.59 L82.71,226.60 L82.77,226.60 L82.83,226.60 L82.89,226.61 L82.95,226.61 L83.01,226.61 L83.07,226.60 L83.13,226.59 L83.19,226.58 L83.25,226.57 L83.31,226.56 L83.37,226.55 L83.43,226.53 L83.49,226.51 L83.55,226.49 L83.61,226.47 L83.67,226.45 L83.73,226.42 L83.79,226.40 L83.85,226.38 L83.90,226.35 L83.96,226.33 L84.02,226.31 L84.08,226.29 L84.14,226.27 L84.20,226.25 L84.26,226.23 L84.32,226.21 L84.38,226.19 L84.44,226.18 L84.50,226.16 L84.56,226.15 L84.62,226.13 L84.68,226.12 L84.74,226.11 L84.80,226.10 L84.86,226.10 L84.92,226.09 L84.98,226.09 L85.04,226.09 L85.10,226.10 L85.16,226.10 L85.22,226.11 L85.28,226.12 L85.34,226.14 L85.40,226.16 L85.46,226.18 L85.52,226.20 L85.57,226.22 L85.63,226.24 L85.69,226.27 L85.75,226.30 L85.81,226.33 L85.87,226.35 L85.93,226.38 L85.99,226.41 L86.05,226.44 L86.11,226.47 L86.17,226.50 L86.23,226.53 L86.29,226.55 L86.35,226.58 L86.41,226.60 L86.47,226.62 L86.53,226.64 L86.59,226.66 L86.65,226.67 L86.71,226.68 L86.77,226.70 L86.83,226.70 L86.89,226.71 L86.95,226.71 L87.01,226.71 L87.07,226.71 L87.13,226.71 L87.19,226.70 L87.24,226.69 L87.30,226.68 L87.36,226.67 L87.42,226.66 L87.48,226.65 L87.54,226.63 L87.60,226.61 L87.66,226.60 L87.72,226.58 L87.78,226.56 L87.84,226.54 L87.90,226.52 L87.96,226.50 L88.02,226.49 L88.08,226.47 L88.14,226.45 L88.20,226.43 L88.26,226.42 L88.32,226.41 L88.38,226.39 L88.44,226.38 L88.50,226.37 L88.56,226.36 L88.62,226.36 L88.68,226.35 L88.74,226.35 L88.80,226.34 L88.86,226.34 L88.91,226.34 L88.97,226.35 L89.03,226.35 L89.09,226.35 L89.15,226.36 L89.21,226.36 L89.27,226.37 L89.33,226.38 L89.39,226.38 L89.45,226.39 L89.51,226.40 L89.57,226.41 L89.63,226.42 L89.69,226.42 L89.75,226.43 L89.81,226.44 L89.87,226.45 L89.93,226.45 L89.99,226.46 L90.05,226.46 L90.11,226.46 L90.17,226.47 L90.23,226.47 L90.29,226.47 L90.35,226.47 L90.41,226.47 L90.47,226.46 L90.53,226.46 L90.59,226.46 L90.64,226.45 L90.70,226.45 L90.76,226.44 L90.82,226.43 L90.88,226.42 L90.94,226.41 L91.00,226.40 L91.06,226.38 L91.12,226.37 L91.18,226.35 L91.24,226.34 L91.30,226.32 L91.36,226.31 L91.42,226.30 L91.48,226.29 L91.54,226.29 L91.60,226.28 L91.66,226.28 L91.72,226.29 L91.78,226.29 L91.84,226.29 L91.90,226.30 L91.96,226.31 L92.02,226.32 L92.08,226.33 L92.14,226.34 L92.20,226.35 L92.26,226.36 L92.31,226.37 L92.37,226.39 L92.43,226.40 L92.49,226.41 L92.55,226.42 L92.61,226.43 L92.67,226.44 L92.73,226.45 L92.79,226.45 L92.85,226.46 L92.91,226.46 L92.97,226.46 L93.03,226.47 L93.09,226.47 L93.15,226.48 L93.21,226.49 L93.27,226.50 L93.33,226.51 L93.39,226.53 L93.45,226.53 L93.51,226.54 L93.57,226.54 L93.63,226.54 L93.69,226.54 L93.75,226.54 L93.81,226.53 L93.87,226.52 L93.93,226.50 L93.98,226.48 L94.04,226.45 L94.10,226.42 L94.16,226.39 L94.22,226.35 L94.28,226.31 L94.34,226.27 L94.40,226.23 L94.46,226.19 L94.52,226.15 L94.58,226.10 L94.64,226.05 L94.70,226.00 L94.76,225.95 L94.82,225.88 L94.88,225.80 L94.94,225.72 L95.00,225.64 L95.06,225.56 L95.12,225.49 L95.18,225.42 L95.24,225.36 L95.30,225.29 L95.36,225.24 L95.42,225.19 L95.48,225.17 L95.54,225.17 L95.60,225.19 L95.65,225.22 L95.71,225.26 L95.77,225.31 L95.83,225.37 L95.89,225.43 L95.95,225.49 L96.01,225.56 L96.07,225.64 L96.13,225.72 L96.19,225.81 L96.25,225.90 L96.31,225.99 L96.37,226.09 L96.43,226.19 L96.49,226.29 L96.55,226.38 L96.61,226.46 L96.67,226.53 L96.73,226.60 L96.79,226.66 L96.85,226.70 L96.91,226.72 L96.97,226.72 L97.03,226.71 L97.09,226.69 L97.15,226.66 L97.21,226.59 L97.27,226.50 L97.33,226.37 L97.38,226.18 L97.44,225.95 L97.50,225.70 L97.56,225.45 L97.62,225.18 L97.68,224.90 L97.74,224.62 L97.80,224.34 L97.86,224.07 L97.92,223.81 L97.98,223.55 L98.04,223.30 L98.10,223.07 L98.16,222.84 L98.22,222.61 L98.28,222.38 L98.34,222.16 L98.40,221.94 L98.46,221.73 L98.52,221.53 L98.58,221.34 L98.64,221.16 L98.70,221.00 L98.76,220.85 L98.82,220.72 L98.88,220.59 L98.94,220.50 L99.00,220.44 L99.05,220.40 L99.11,220.38 L99.17,220.40 L99.23,220.45 L99.29,220.53 L99.35,220.68 L99.41,220.85 L99.47,221.02 L99.53,221.22 L99.59,221.45 L99.65,221.74 L99.71,222.10 L99.77,222.49 L99.83,222.89 L99.89,223.29 L99.95,223.69 L100.01,224.06 L100.07,224.38 L100.13,224.67 L100.19,224.94 L100.25,225.19 L100.31,225.42 L100.37,225.65 L100.43,225.87 L100.49,226.05 L100.55,226.18 L100.61,226.24 L100.67,226.29 L100.72,226.33 L100.78,226.34 L100.84,226.35 L100.90,226.34 L100.96,226.32 L101.02,226.30 L101.08,226.27 L101.14,226.25 L101.20,226.22 L101.26,226.18 L101.32,226.14 L101.38,226.10 L101.44,226.07 L101.50,226.04 L101.56,226.01 L101.62,225.98 L101.68,225.95 L101.74,225.92 L101.80,225.89 L101.86,225.86 L101.92,225.84 L101.98,225.82 L102.04,225.81 L102.10,225.80 L102.16,225.79 L102.22,225.78 L102.28,225.78 L102.34,225.78 L102.39,225.78 L102.45,225.79 L102.51,225.81 L102.57,225.83 L102.63,225.86 L102.69,225.89 L102.75,225.92 L102.81,225.95 L102.87,225.98 L102.93,226.02 L102.99,226.05 L103.05,226.09 L103.11,226.12 L103.17,226.15 L103.23,226.18 L103.29,226.20 L103.35,226.23 L103.41,226.25 L103.47,226.26 L103.53,226.28 L103.59,226.29 L103.65,226.31 L103.71,226.32 L103.77,226.34 L103.83,226.35 L103.89,226.36 L103.95,226.37 L104.01,226.38 L104.07,226.39 L104.12,226.40 L104.18,226.41 L104.24,226.41 L104.30,226.42 L104.36,226.42 L104.42,226.43 L104.48,226.43 L104.54,226.43 L104.60,226.43 L104.66,226.43 L104.72,226.43 L104.78,226.42 L104.84,226.42 L104.90,226.42 L104.96,226.41 L105.02,226.41 L105.08,226.41 L105.14,226.40 L105.20,226.40 L105.26,226.39 L105.32,226.39 L105.38,226.38 L105.44,226.38 L105.50,226.38 L105.56,226.38 L105.62,226.37 L105.68,226.37 L105.74,226.38 L105.79,226.38 L105.85,226.38 L105.91,226.39 L105.97,226.39 L106.03,226.40 L106.09,226.41 L106.15,226.42 L106.21,226.43 L106.27,226.44 L106.33,226.45 L106.39,226.47 L106.45,226.48 L106.51,226.49 L106.57,226.51 L106.63,226.53 L106.69,226.54 L106.75,226.56 L106.81,226.57 L106.87,226.59 L106.93,226.60 L106.99,226.61 L107.05,226.63 L107.11,226.64 L107.17,226.65 L107.23,226.66 L107.29,226.66 L107.35,226.67 L107.41,226.67 L107.46,226.67 L107.52,226.67 L107.58,226.67 L107.64,226.66 L107.70,226.66 L107.76,226.65 L107.82,226.64 L107.88,226.62 L107.94,226.61 L108.00,226.59 L108.06,226.57 L108.12,226.55 L108.18,226.53 L108.24,226.51 L108.30,226.48 L108.36,226.46 L108.42,226.43 L108.48,226.41 L108.54,226.39 L108.60,226.36 L108.66,226.34 L108.72,226.31 L108.78,226.29 L108.84,226.26 L108.90,226.24 L108.96,226.22 L109.02,226.20 L109.08,226.19 L109.13,226.17 L109.19,226.16 L109.25,226.15 L109.31,226.15 L109.37,226.14 L109.43,226.13 L109.49,226.12 L109.55,226.11 L109.61,226.10 L109.67,226.08 L109.73,226.07 L109.79,226.06 L109.85,226.05 L109.91,226.04 L109.97,226.04 L110.03,226.04 L110.09,226.05 L110.15,226.06 L110.21,226.08 L110.27,226.11 L110.33,226.13 L110.39,226.16 L110.45,226.19 L110.51,226.22 L110.57,226.25 L110.63,226.28 L110.69,226.30 L110.75,226.33 L110.81,226.36 L110.86,226.38 L110.92,226.40 L110.98,226.42 L111.04,226.43 L111.10,226.45 L111.16,226.45 L111.22,226.45 L111.28,226.44 L111.34,226.43 L111.40,226.41 L111.46,226.39 L111.52,226.36 L111.58,226.34 L111.64,226.32 L111.70,226.30 L111.76,226.28 L111.82,226.27 L111.88,226.27 L111.94,226.28 L112.00,226.29 L112.06,226.30 L112.12,226.30 L112.18,226.30 L112.24,226.30 L112.30,226.29 L112.36,226.28 L112.42,226.28 L112.48,226.26 L112.53,226.24 L112.59,226.21 L112.65,226.17 L112.71,226.12 L112.77,226.06 L112.83,226.01 L112.89,225.95 L112.95,225.89 L113.01,225.84 L113.07,225.78 L113.13,225.72 L113.19,225.65 L113.25,225.58 L113.31,225.50 L113.37,225.41 L113.43,225.30 L113.49,225.15 L113.55,224.98 L113.61,224.80 L113.67,224.63 L113.73,224.48 L113.79,224.34 L113.85,224.20 L113.91,224.05 L113.97,223.91 L114.03,223.79 L114.09,223.71 L114.15,223.69 L114.20,223.73 L114.26,223.79 L114.32,223.87 L114.38,223.97 L114.44,224.07 L114.50,224.19 L114.56,224.30 L114.62,224.42 L114.68,224.57 L114.74,224.73 L114.80,224.90 L114.86,225.07 L114.92,225.24 L114.98,225.41 L115.04,225.60 L115.10,225.79 L115.16,225.96 L115.22,226.11 L115.28,226.23 L115.34,226.35 L115.40,226.45 L115.46,226.52 L115.52,226.54 L115.58,226.51 L115.64,226.45 L115.70,226.36 L115.76,226.26 L115.82,226.08 L115.87,225.84 L115.93,225.53 L115.99,225.07 L116.05,224.49 L116.11,223.87 L116.17,223.24 L116.23,222.59 L116.29,221.89 L116.35,221.19 L116.41,220.52 L116.47,219.87 L116.53,219.24 L116.59,218.63 L116.65,218.05 L116.71,217.50 L116.77,216.97 L116.83,216.45 L116.89,215.94 L116.95,215.44 L117.01,214.93 L117.07,214.45 L117.13,214.01 L117.19,213.59 L117.25,213.19 L117.31,212.82 L117.37,212.49 L117.43,212.19 L117.49,211.91 L117.54,211.69 L117.60,211.56 L117.66,211.47 L117.72,211.44 L117.78,211.49 L117.84,211.60 L117.90,211.77 L117.96,212.13 L118.02,212.56 L118.08,212.98 L118.14,213.44 L118.20,213.98 L118.26,214.63 L118.32,215.51 L118.38,216.45 L118.44,217.44 L118.50,218.42 L118.56,219.39 L118.62,220.32 L118.68,221.10 L118.74,221.80 L118.80,222.44 L118.86,223.01 L118.92,223.54 L118.98,224.08 L119.04,224.59 L119.10,225.02 L119.16,225.32 L119.22,225.44 L119.27,225.52 L119.33,225.57 L119.39,225.58 L119.45,225.55 L119.51,225.49 L119.57,225.42 L119.63,225.34 L119.69,225.26 L119.75,225.18 L119.81,225.11 L119.87,225.02 L119.93,224.93 L119.99,224.85 L120.05,224.78 L120.11,224.73 L120.17,224.69 L120.23,224.65 L120.29,224.61 L120.35,224.59 L120.41,224.56 L120.47,224.55 L120.53,224.55 L120.59,224.57 L120.65,224.59 L120.71,224.63 L120.77,224.67 L120.83,224.71 L120.89,224.76 L120.94,224.82 L121.00,224.87 L121.06,224.95 L121.12,225.04 L121.18,225.15 L121.24,225.26 L121.30,225.37 L121.36,225.47 L121.42,225.57 L121.48,225.68 L121.54,225.79 L121.60,225.89 L121.66,225.99 L121.72,226.07 L121.78,226.13 L121.84,226.19 L121.90,226.24 L121.96,226.28 L122.02,226.31 L122.08,226.33 L122.14,226.33 L122.20,226.34 L122.26,226.34 L122.32,226.33 L122.38,226.32 L122.44,226.31 L122.50,226.30 L122.56,226.29 L122.61,226.27 L122.67,226.26 L122.73,226.24 L122.79,226.22 L122.85,226.20 L122.91,226.18 L122.97,226.16 L123.03,226.15 L123.09,226.13 L123.15,226.12 L123.21,226.10 L123.27,226.09 L123.33,226.09 L123.39,226.08 L123.45,226.07 L123.51,226.07 L123.57,226.07 L123.63,226.08 L123.69,226.08 L123.75,226.09 L123.81,226.10 L123.87,226.12 L123.93,226.13 L123.99,226.15 L124.05,226.17 L124.11,226.19 L124.17,226.22 L124.23,226.25 L124.28,226.28 L124.34,226.31 L124.40,226.34 L124.46,226.37 L124.52,226.40 L124.58,226.44 L124.64,226.47 L124.70,226.50 L124.76,226.54 L124.82,226.57 L124.88,226.60 L124.94,226.63 L125.00,226.66 L125.06,226.69 L125.12,226.71 L125.18,226.73 L125.24,226.75 L125.30,226.77 L125.36,226.78 L125.42,226.80 L125.48,226.80 L125.54,226.81 L125.60,226.81 L125.66,226.81 L125.72,226.80 L125.78,226.80 L125.84,226.78 L125.90,226.77 L125.96,226.75 L126.01,226.73 L126.07,226.71 L126.13,226.69 L126.19,226.66 L126.25,226.63 L126.31,226.60 L126.37,226.57 L126.43,226.54 L126.49,226.51 L126.55,226.47 L126.61,226.44 L126.67,226.41 L126.73,226.37 L126.79,226.34 L126.85,226.31 L126.91,226.28 L126.97,226.25 L127.03,226.23 L127.09,226.22 L127.15,226.20 L127.21,226.18 L127.27,226.16 L127.33,226.15 L127.39,226.14 L127.45,226.13 L127.51,226.13 L127.57,226.12 L127.63,226.13 L127.68,226.13 L127.74,226.14 L127.80,226.15 L127.86,226.16 L127.92,226.18 L127.98,226.19 L128.04,226.20 L128.10,226.19 L128.16,226.18 L128.22,226.16 L128.28,226.13 L128.34,226.10 L128.40,226.07 L128.46,226.04 L128.52,226.01 L128.58,225.98 L128.64,225.95 L128.70,225.93 L128.76,225.92 L128.82,225.92 L128.88,225.93 L128.94,225.94 L129.00,225.95 L129.06,225.96 L129.12,225.97 L129.18,225.97 L129.24,225.98 L129.30,225.98 L129.35,225.99 L129.41,225.99 L129.47,225.98 L129.53,225.98 L129.59,225.97 L129.65,225.96 L129.71,225.94 L129.77,225.92 L129.83,225.89 L129.89,225.84 L129.95,225.79 L130.01,225.73 L130.07,225.67 L130.13,225.61 L130.19,225.55 L130.25,225.50 L130.31,225.47 L130.37,225.44 L130.43,225.45 L130.49,225.48 L130.55,225.52 L130.61,225.58 L130.67,225.65 L130.73,225.71 L130.79,225.77 L130.85,225.81 L130.91,225.86 L130.97,225.91 L131.02,225.96 L131.08,226.00 L131.14,226.02 L131.20,226.02 L131.26,226.00 L131.32,225.96 L131.38,225.91 L131.44,225.84 L131.50,225.77 L131.56,225.69 L131.62,225.62 L131.68,225.54 L131.74,225.44 L131.80,225.32 L131.86,225.20 L131.92,225.05 L131.98,224.88 L132.04,224.65 L132.10,224.33 L132.16,223.96 L132.22,223.57 L132.28,223.16 L132.34,222.78 L132.40,222.45 L132.46,222.11 L132.52,221.74 L132.58,221.37 L132.64,221.05 L132.70,220.80 L132.75,220.65 L132.81,220.64 L132.87,220.70 L132.93,220.81 L132.99,220.95 L133.05,221.12 L133.11,221.31 L133.17,221.50 L133.23,221.69 L133.29,221.94 L133.35,222.23 L133.41,222.55 L133.47,222.88 L133.53,223.21 L133.59,223.54 L133.65,223.92 L133.71,224.30 L133.77,224.67 L133.83,225.00 L133.89,225.26 L133.95,225.51 L134.01,225.75 L134.07,225.93 L134.13,226.01 L134.19,225.99 L134.25,225.89 L134.31,225.74 L134.37,225.56 L134.42,225.25 L134.48,224.79 L134.54,224.21 L134.60,223.32 L134.66,222.14 L134.72,220.82 L134.78,219.49 L134.84,218.13 L134.90,216.65 L134.96,215.15 L135.02,213.72 L135.08,212.34 L135.14,210.97 L135.20,209.65 L135.26,208.40 L135.32,207.21 L135.38,206.07 L135.44,204.96 L135.50,203.87 L135.56,202.77 L135.62,201.67 L135.68,200.61 L135.74,199.64 L135.80,198.70 L135.86,197.80 L135.92,196.97 L135.98,196.21 L136.04,195.52 L136.09,194.85 L136.15,194.31 L136.21,193.97 L136.27,193.71 L136.33,193.57 L136.39,193.61 L136.45,193.78 L136.51,194.06 L136.57,194.73 L136.63,195.63 L136.69,196.51 L136.75,197.47 L136.81,198.57 L136.87,199.88 L136.93,201.70 L136.99,203.71 L137.05,205.85 L137.11,208.01 L137.17,210.11 L137.23,212.18 L137.29,213.98 L137.35,215.55 L137.41,216.98 L137.47,218.27 L137.53,219.43 L137.59,220.62 L137.65,221.78 L137.71,222.80 L137.76,223.54 L137.82,223.90 L137.88,224.10 L137.94,224.25 L138.00,224.31 L138.06,224.29 L138.12,224.21 L138.18,224.08 L138.24,223.93 L138.30,223.78 L138.36,223.64 L138.42,223.50 L138.48,223.35 L138.54,223.18 L138.60,223.03 L138.66,222.89 L138.72,222.78 L138.78,222.71 L138.84,222.64 L138.90,222.57 L138.96,222.52 L139.02,222.47 L139.08,222.45 L139.14,222.45 L139.20,222.47 L139.26,222.51 L139.32,222.57 L139.38,222.65 L139.44,222.73 L139.49,222.82 L139.55,222.92 L139.61,223.01 L139.67,223.14 L139.73,223.31 L139.79,223.51 L139.85,223.72 L139.91,223.93 L139.97,224.13 L140.03,224.32 L140.09,224.53 L140.15,224.74 L140.21,224.94 L140.27,225.14 L140.33,225.30 L140.39,225.44 L140.45,225.55 L140.51,225.65 L140.57,225.74 L140.63,225.80 L140.69,225.84 L140.75,225.86 L140.81,225.87 L140.87,225.88 L140.93,225.88 L140.99,225.88 L141.05,225.88 L141.11,225.88 L141.16,225.88 L141.22,225.88 L141.28,225.88 L141.34,225.88 L141.40,225.87 L141.46,225.87 L141.52,225.88 L141.58,225.88 L141.64,225.88 L141.70,225.89 L141.76,225.90 L141.82,225.92 L141.88,225.93 L141.94,225.95 L142.00,225.97 L142.06,225.99 L142.12,226.02 L142.18,226.04 L142.24,226.07 L142.30,226.10 L142.36,226.13 L142.42,226.16 L142.48,226.20 L142.54,226.23 L142.60,226.26 L142.66,226.29 L142.72,226.32 L142.78,226.35 L142.83,226.38 L142.89,226.41 L142.95,226.44 L143.01,226.47 L143.07,226.49 L143.13,226.52 L143.19,226.54 L143.25,226.56 L143.31,226.58 L143.37,226.60 L143.43,226.61 L143.49,226.62 L143.55,226.63 L143.61,226.64 L143.67,226.64 L143.73,226.65 L143.79,226.65 L143.85,226.64 L143.91,226.64 L143.97,226.63 L144.03,226.63 L144.09,226.62 L144.15,226.61 L144.21,226.59 L144.27,226.58 L144.33,226.56 L144.39,226.55 L144.45,226.53 L144.50,226.52 L144.56,226.50 L144.62,226.48 L144.68,226.47 L144.74,226.45 L144.80,226.43 L144.86,226.42 L144.92,226.40 L144.98,226.39 L145.04,226.38 L145.10,226.37 L145.16,226.36 L145.22,226.35 L145.28,226.34 L145.34,226.34 L145.40,226.33 L145.46,226.33 L145.52,226.33 L145.58,226.33 L145.64,226.33 L145.70,226.36 L145.76,226.36 L145.82,226.37 L145.88,226.37 L145.94,226.38 L146.00,226.38 L146.06,226.39 L146.12,226.40 L146.17,226.40 L146.23,226.41 L146.29,226.42 L146.35,226.43 L146.41,226.43 L146.47,226.44 L146.53,226.44 L146.59,226.45 L146.65,226.43 L146.71,226.39 L146.77,226.33 L146.83,226.25 L146.89,226.16 L146.95,226.05 L147.01,225.94 L147.07,225.83 L147.13,225.71 L147.19,225.60 L147.25,225.50 L147.31,225.40 L147.37,225.32 L147.43,225.26 L147.49,225.22 L147.55,225.19 L147.61,225.16 L147.67,225.14 L147.73,225.12 L147.79,225.10 L147.85,225.08 L147.90,225.07 L147.96,225.05 L148.02,225.04 L148.08,225.02 L148.14,225.01 L148.20,224.99 L148.26,224.98 L148.32,224.96 L148.38,224.94 L148.44,224.91 L148.50,224.86 L148.56,224.79 L148.62,224.72 L148.68,224.64 L148.74,224.56 L148.80,224.50 L148.86,224.45 L148.92,224.42 L148.98,224.42 L149.04,224.46 L149.10,224.56 L149.16,224.69 L149.22,224.84 L149.28,225.01 L149.34,225.18 L149.40,225.33 L149.46,225.46 L149.52,225.58 L149.57,225.71 L149.63,225.83 L149.69,225.93 L149.75,226.01 L149.81,226.04 L149.87,226.02 L149.93,225.97 L149.99,225.87 L150.05,225.75 L150.11,225.61 L150.17,225.47 L150.23,225.32 L150.29,225.15 L150.35,224.95 L150.41,224.72 L150.47,224.45 L150.53,224.16 L150.59,223.82 L150.65,223.39 L150.71,222.79 L150.77,222.08 L150.83,221.31 L150.89,220.51 L150.95,219.74 L151.01,219.05 L151.07,218.40 L151.13,217.68 L151.19,216.95 L151.24,216.29 L151.30,215.75 L151.36,215.40 L151.42,215.31 L151.48,215.37 L151.54,215.54 L151.60,215.78 L151.66,216.08 L151.72,216.42 L151.78,216.77 L151.84,217.13 L151.90,217.58 L151.96,218.12 L152.02,218.71 L152.08,219.34 L152.14,219.98 L152.20,220.62 L152.26,221.33 L152.32,222.08 L152.38,222.82 L152.44,223.48 L152.50,224.01 L152.56,224.52 L152.62,225.01 L152.68,225.40 L152.74,225.64 L152.80,225.66 L152.86,225.53 L152.91,225.30 L152.97,225.00 L153.03,224.51 L153.09,223.72 L153.15,222.71 L153.21,221.21 L153.27,219.12 L153.33,216.69 L153.39,214.18 L153.45,211.67 L153.51,208.93 L153.57,206.10 L153.63,203.36 L153.69,200.73 L153.75,198.14 L153.81,195.62 L153.87,193.22 L153.93,190.94 L153.99,188.75 L154.05,186.63 L154.11,184.55 L154.17,182.47 L154.23,180.38 L154.29,178.33 L154.35,176.43 L154.41,174.64 L154.47,172.91 L154.53,171.28 L154.59,169.80 L154.64,168.47 L154.70,167.19 L154.76,166.08 L154.82,165.35 L154.88,164.83 L154.94,164.50 L155.00,164.49 L155.06,164.76 L155.12,165.22 L155.18,166.29 L155.24,167.94 L155.30,169.62 L155.36,171.39 L155.42,173.41 L155.48,175.78 L155.54,178.98 L155.60,182.75 L155.66,186.74 L155.72,190.85 L155.78,194.84 L155.84,198.82 L155.90,202.39 L155.96,205.43 L156.02,208.21 L156.08,210.72 L156.14,212.98 L156.20,215.22 L156.26,217.47 L156.31,219.49 L156.37,221.05 L156.43,221.93 L156.49,222.34 L156.55,222.65 L156.61,222.82 L156.67,222.82 L156.73,222.69 L156.79,222.46 L156.85,222.18 L156.91,221.88 L156.97,221.60 L157.03,221.32 L157.09,221.01 L157.15,220.67 L157.21,220.34 L157.27,220.03 L157.33,219.78 L157.39,219.59 L157.45,219.41 L157.51,219.24 L157.57,219.09 L157.63,218.95 L157.69,218.85 L157.75,218.78 L157.81,218.77 L157.87,218.79 L157.93,218.86 L157.98,218.95 L158.04,219.06 L158.10,219.19 L158.16,219.33 L158.22,219.48 L158.28,219.68 L158.34,219.97 L158.40,220.31 L158.46,220.69 L158.52,221.08 L158.58,221.47 L158.64,221.83 L158.70,222.21 L158.76,222.62 L158.82,223.04 L158.88,223.43 L158.94,223.79 L159.00,224.09 L159.06,224.34 L159.12,224.58 L159.18,224.79 L159.24,224.98 L159.30,225.11 L159.36,225.20 L159.42,225.28 L159.48,225.35 L159.54,225.42 L159.60,225.48 L159.65,225.54 L159.71,225.59 L159.77,225.64 L159.83,225.68 L159.89,225.73 L159.95,225.76 L160.01,225.80 L160.07,225.83 L160.13,225.87 L160.19,225.90 L160.25,225.93 L160.31,225.96 L160.37,225.99 L160.43,226.02 L160.49,226.04 L160.55,226.07 L160.61,226.09 L160.67,226.12 L160.73,226.14 L160.79,226.16 L160.85,226.18 L160.91,226.20 L160.97,226.21 L161.03,226.22 L161.09,226.24 L161.15,226.25 L161.21,226.25 L161.27,226.26 L161.33,226.26 L161.38,226.27 L161.44,226.27 L161.50,226.27 L161.56,226.27 L161.62,226.27 L161.68,226.26 L161.74,226.26 L161.80,226.26 L161.86,226.26 L161.92,226.26 L161.98,226.26 L162.04,226.26 L162.10,226.26 L162.16,226.26 L162.22,226.26 L162.28,226.26 L162.34,226.26 L162.40,226.27 L162.46,226.27 L162.52,226.28 L162.58,226.28 L162.64,226.29 L162.70,226.30 L162.76,226.31 L162.82,226.33 L162.88,226.34 L162.94,226.35 L163.00,226.37 L163.05,226.38 L163.11,226.40 L163.17,226.42 L163.23,226.44 L163.29,226.45 L163.35,226.47 L163.41,226.49 L163.47,226.51 L163.53,226.52 L163.59,226.54 L163.65,226.56 L163.71,226.57 L163.77,226.58 L163.83,226.60 L163.89,226.61 L163.95,226.62 L164.01,226.62 L164.07,226.63 L164.13,226.63 L164.19,226.63 L164.25,226.63 L164.31,226.68 L164.37,226.68 L164.43,226.67 L164.49,226.66 L164.55,226.65 L164.61,226.63 L164.67,226.62 L164.72,226.60 L164.78,226.58 L164.84,226.56 L164.90,226.54 L164.96,226.51 L165.02,226.49 L165.08,226.46 L165.14,226.44 L165.20,226.41 L165.26,226.36 L165.32,226.27 L165.38,226.15 L165.44,226.00 L165.50,225.83 L165.56,225.65 L165.62,225.45 L165.68,225.25 L165.74,225.05 L165.80,224.86 L165.86,224.68 L165.92,224.52 L165.98,224.39 L166.04,224.28 L166.10,224.21 L166.16,224.17 L166.22,224.14 L166.28,224.11 L166.34,224.10 L166.39,224.09 L166.45,224.08 L166.51,224.08 L166.57,224.08 L166.63,224.09 L166.69,224.09 L166.75,224.10 L166.81,224.10 L166.87,224.11 L166.93,224.11 L166.99,224.10 L167.05,224.08 L167.11,224.03 L167.17,223.96 L167.23,223.86 L167.29,223.75 L167.35,223.65 L167.41,223.55 L167.47,223.47 L167.53,223.43 L167.59,223.42 L167.65,223.47 L167.71,223.60 L167.77,223.78 L167.83,224.01 L167.89,224.27 L167.95,224.52 L168.01,224.76 L168.07,224.96 L168.12,225.12 L168.18,225.30 L168.24,225.48 L168.30,225.63 L168.36,225.73 L168.42,225.78 L168.48,225.74 L168.54,225.64 L168.60,225.48 L168.66,225.27 L168.72,225.03 L168.78,224.78 L168.84,224.52 L168.90,224.24 L168.96,223.92 L169.02,223.56 L169.08,223.14 L169.14,222.67 L169.20,222.14 L169.26,221.51 L169.32,220.62 L169.38,219.54 L169.44,218.33 L169.50,217.07 L169.56,215.85 L169.62,214.73 L169.68,213.72 L169.74,212.61 L169.79,211.47 L169.85,210.40 L169.91,209.52 L169.97,208.91 L170.03,208.69 L170.09,208.79 L170.15,209.05 L170.21,209.44 L170.27,209.93 L170.33,210.48 L170.39,211.07 L170.45,211.67 L170.51,212.37 L170.57,213.21 L170.63,214.17 L170.69,215.18 L170.75,216.21 L170.81,217.23 L170.87,218.33 L170.93,219.53 L170.99,220.72 L171.05,221.80 L171.11,222.70 L171.17,223.49 L171.23,224.26 L171.29,224.92 L171.35,225.34 L171.41,225.43 L171.46,225.25 L171.52,224.88 L171.58,224.39 L171.64,223.68 L171.70,222.50 L171.76,220.92 L171.82,218.76 L171.88,215.57 L171.94,211.75 L172.00,207.70 L172.06,203.71 L172.12,199.38 L172.18,194.84 L172.24,190.38 L172.30,186.15 L172.36,181.98 L172.42,177.90 L172.48,173.99 L172.54,170.30 L172.60,166.77 L172.66,163.36 L172.72,160.03 L172.78,156.72 L172.84,153.39 L172.90,150.10 L172.96,147.02 L173.02,144.16 L173.08,141.39 L173.13,138.78 L173.19,136.38 L173.25,134.25 L173.31,132.22 L173.37,130.40 L173.43,129.11 L173.49,128.29 L173.55,127.71 L173.61,127.60 L173.67,128.00 L173.73,128.71 L173.79,130.12 L173.85,132.68 L173.91,135.43 L173.97,138.22 L174.03,141.36 L174.09,145.03 L174.15,149.76 L174.21,155.74 L174.27,162.00 L174.33,168.59 L174.39,174.98 L174.45,181.38 L174.51,187.31 L174.57,192.31 L174.63,196.84 L174.69,200.94 L174.75,204.64 L174.81,208.15 L174.86,211.74 L174.92,215.06 L174.98,217.73 L175.04,219.40 L175.10,220.09 L175.16,220.60 L175.22,220.89 L175.28,220.91 L175.34,220.70 L175.40,220.33 L175.46,219.84 L175.52,219.32 L175.58,218.81 L175.64,218.34 L175.70,217.80 L175.76,217.23 L175.82,216.65 L175.88,216.10 L175.94,215.63 L176.00,215.26 L176.06,214.95 L176.12,214.65 L176.18,214.37 L176.24,214.12 L176.30,213.92 L176.36,213.78 L176.42,213.73 L176.48,213.75 L176.53,213.84 L176.59,213.98 L176.65,214.16 L176.71,214.37 L176.77,214.62 L176.83,214.87 L176.89,215.18 L176.95,215.63 L177.01,216.19 L177.07,216.82 L177.13,217.48 L177.19,218.14 L177.25,218.77 L177.31,219.41 L177.37,220.10 L177.43,220.80 L177.49,221.49 L177.55,222.11 L177.61,222.66 L177.67,223.11 L177.73,223.54 L177.79,223.93 L177.85,224.27 L177.91,224.54 L177.97,224.72 L178.03,224.87 L178.09,225.01 L178.15,225.14 L178.20,225.25 L178.26,225.35 L178.32,225.44 L178.38,225.52 L178.44,225.59 L178.50,225.66 L178.56,225.71 L178.62,225.75 L178.68,225.79 L178.74,225.82 L178.80,225.84 L178.86,225.86 L178.92,225.88 L178.98,225.90 L179.04,225.91 L179.10,225.92 L179.16,225.93 L179.22,225.93 L179.28,225.93 L179.34,225.93 L179.40,225.93 L179.46,225.93 L179.52,225.92 L179.58,225.92 L179.64,225.91 L179.70,225.91 L179.76,225.90 L179.82,225.89 L179.87,225.88 L179.93,225.88 L179.99,225.87 L180.05,225.87 L180.11,225.86 L180.17,225.86 L180.23,225.87 L180.29,225.87 L180.35,225.88 L180.41,225.89 L180.47,225.90 L180.53,225.92 L180.59,225.94 L180.65,225.96 L180.71,225.98 L180.77,226.01 L180.83,226.04 L180.89,226.07 L180.95,226.10 L181.01,226.13 L181.07,226.17 L181.13,226.21 L181.19,226.24 L181.25,226.28 L181.31,226.32 L181.37,226.36 L181.43,226.39 L181.49,226.43 L181.54,226.47 L181.60,226.50 L181.66,226.54 L181.72,226.57 L181.78,226.60 L181.84,226.62 L181.90,226.65 L181.96,226.67 L182.02,226.69 L182.08,226.70 L182.14,226.72 L182.20,226.73 L182.26,226.73 L182.32,226.74 L182.38,226.73 L182.44,226.73 L182.50,226.72 L182.56,226.71 L182.62,226.70 L182.68,226.68 L182.74,226.66 L182.80,226.64 L182.86,226.62 L182.92,226.59 L182.98,226.65 L183.04,226.62 L183.10,226.58 L183.16,226.55 L183.22,226.52 L183.27,226.49 L183.33,226.45 L183.39,226.42 L183.45,226.39 L183.51,226.35 L183.57,226.32 L183.63,226.30 L183.69,226.27 L183.75,226.24 L183.81,226.22 L183.87,226.18 L183.93,226.09 L183.99,225.95 L184.05,225.78 L184.11,225.58 L184.17,225.36 L184.23,225.12 L184.29,224.88 L184.35,224.64 L184.41,224.40 L184.47,224.18 L184.53,223.99 L184.59,223.82 L184.65,223.69 L184.71,223.61 L184.77,223.57 L184.83,223.54 L184.89,223.52 L184.94,223.51 L185.00,223.51 L185.06,223.51 L185.12,223.51 L185.18,223.52 L185.24,223.52 L185.30,223.53 L185.36,223.53 L185.42,223.52 L185.48,223.51 L185.54,223.50 L185.60,223.47 L185.66,223.44 L185.72,223.36 L185.78,223.23 L185.84,223.07 L185.90,222.90 L185.96,222.73 L186.02,222.56 L186.08,222.42 L186.14,222.31 L186.20,222.25 L186.26,222.26 L186.32,222.38 L186.38,222.59 L186.44,222.86 L186.50,223.17 L186.56,223.49 L186.61,223.79 L186.67,224.06 L186.73,224.27 L186.79,224.49 L186.85,224.72 L186.91,224.93 L186.97,225.09 L187.03,225.18 L187.09,225.16 L187.15,225.05 L187.21,224.86 L187.27,224.61 L187.33,224.31 L187.39,224.00 L187.45,223.67 L187.51,223.33 L187.57,222.95 L187.63,222.50 L187.69,221.99 L187.75,221.41 L187.81,220.75 L187.87,219.99 L187.93,218.91 L187.99,217.54 L188.05,215.97 L188.11,214.31 L188.17,212.67 L188.23,211.15 L188.28,209.81 L188.34,208.37 L188.40,206.86 L188.46,205.40 L188.52,204.15 L188.58,203.24 L188.64,202.82 L188.70,202.89 L188.76,203.20 L188.82,203.70 L188.88,204.33 L188.94,205.06 L189.00,205.84 L189.06,206.63 L189.12,207.50 L189.18,208.59 L189.24,209.82 L189.30,211.15 L189.36,212.51 L189.42,213.86 L189.48,215.28 L189.54,216.84 L189.60,218.42 L189.66,219.89 L189.72,221.14 L189.78,222.16 L189.84,223.19 L189.90,224.09 L189.96,224.72 L190.01,224.91 L190.07,224.70 L190.13,224.21 L190.19,223.55 L190.25,222.69 L190.31,221.20 L190.37,219.16 L190.43,216.50 L190.49,212.47 L190.55,207.44 L190.61,201.98 L190.67,196.59 L190.73,190.85 L190.79,184.74 L190.85,178.66 L190.91,172.90 L190.97,167.24 L191.03,161.71 L191.09,156.38 L191.15,151.35 L191.21,146.55 L191.27,141.94 L191.33,137.44 L191.39,133.00 L191.45,128.54 L191.51,124.10 L191.57,119.88 L191.63,116.00 L191.68,112.27 L191.74,108.71 L191.80,105.43 L191.86,102.49 L191.92,99.76 L191.98,97.23 L192.04,95.30 L192.10,94.15 L192.16,93.27 L192.22,92.97 L192.28,93.39 L192.34,94.28 L192.40,95.82 L192.46,99.03 L192.52,102.78 L192.58,106.49 L192.64,110.60 L192.70,115.36 L192.76,121.26 L192.82,129.13 L192.88,137.44 L192.94,146.30 L193.00,155.00 L193.06,163.65 L193.12,171.89 L193.18,178.88 L193.24,185.11 L193.30,190.76 L193.35,195.86 L193.41,200.56 L193.47,205.41 L193.53,209.99 L193.59,213.83 L193.65,216.43 L193.71,217.53 L193.77,218.24 L193.83,218.69 L193.89,218.78 L193.95,218.54 L194.01,218.06 L194.07,217.42 L194.13,216.70 L194.19,215.99 L194.25,215.35 L194.31,214.64 L194.37,213.87 L194.43,213.08 L194.49,212.34 L194.55,211.68 L194.61,211.15 L194.67,210.75 L194.73,210.35 L194.79,209.98 L194.85,209.65 L194.91,209.39 L194.97,209.21 L195.02,209.13 L195.08,209.17 L195.14,209.30 L195.20,209.50 L195.26,209.76 L195.32,210.06 L195.38,210.41 L195.44,210.78 L195.50,211.19 L195.56,211.78 L195.62,212.53 L195.68,213.38 L195.74,214.28 L195.80,215.19 L195.86,216.06 L195.92,216.92 L195.98,217.85 L196.04,218.80 L196.10,219.73 L196.16,220.60 L196.22,221.36 L196.28,221.98 L196.34,222.56 L196.40,223.09 L196.46,223.55 L196.52,223.92 L196.58,224.17 L196.64,224.36 L196.70,224.52 L196.75,224.68 L196.81,224.81 L196.87,224.93 L196.93,225.03 L196.99,225.12 L197.05,225.19 L197.11,225.25 L197.17,225.31 L197.23,225.35 L197.29,225.38 L197.35,225.41 L197.41,225.43 L197.47,225.45 L197.53,225.46 L197.59,225.48 L197.65,225.49 L197.71,225.51 L197.77,225.52 L197.83,225.53 L197.89,225.54 L197.95,225.56 L198.01,225.57 L198.07,225.58 L198.13,225.59 L198.19,225.61 L198.25,225.62 L198.31,225.64 L198.37,225.65 L198.42,225.67 L198.48,225.69 L198.54,225.70 L198.60,225.72 L198.66,225.74 L198.72,225.76 L198.78,225.79 L198.84,225.81 L198.90,225.84 L198.96,225.87 L199.02,225.90 L199.08,225.94 L199.14,225.97 L199.20,226.01 L199.26,226.04 L199.32,226.08 L199.38,226.12 L199.44,226.15 L199.50,226.19 L199.56,226.22 L199.62,226.26 L199.68,226.29 L199.74,226.32 L199.80,226.35 L199.86,226.38 L199.92,226.41 L199.98,226.43 L200.04,226.45 L200.09,226.47 L200.15,226.49 L200.21,226.50 L200.27,226.52 L200.33,226.53 L200.39,226.53 L200.45,226.54 L200.51,226.54 L200.57,226.54 L200.63,226.54 L200.69,226.54 L200.75,226.53 L200.81,226.52 L200.87,226.51 L200.93,226.50 L200.99,226.49 L201.05,226.48 L201.11,226.46 L201.17,226.45 L201.23,226.43 L201.29,226.42 L201.35,226.40 L201.41,226.38 L201.47,226.37 L201.53,226.35 L201.59,226.45 L201.65,226.44 L201.71,226.43 L201.76,226.42 L201.82,226.40 L201.88,226.40 L201.94,226.39 L202.00,226.38 L202.06,226.38 L202.12,226.37 L202.18,226.37 L202.24,226.37 L202.30,226.37 L202.36,226.37 L202.42,226.37 L202.48,226.36 L202.54,226.30 L202.60,226.18 L202.66,226.01 L202.72,225.81 L202.78,225.57 L202.84,225.32 L202.90,225.05 L202.96,224.77 L203.02,224.50 L203.08,224.24 L203.14,224.01 L203.20,223.80 L203.26,223.63 L203.32,223.50 L203.38,223.43 L203.44,223.37 L203.49,223.33 L203.55,223.29 L203.61,223.25 L203.67,223.22 L203.73,223.19 L203.79,223.16 L203.85,223.13 L203.91,223.10 L203.97,223.07 L204.03,223.03 L204.09,222.98 L204.15,222.93 L204.21,222.88 L204.27,222.81 L204.33,222.70 L204.39,222.54 L204.45,222.34 L204.51,222.12 L204.57,221.90 L204.63,221.69 L204.69,221.50 L204.75,221.36 L204.81,221.27 L204.87,221.26 L204.93,221.36 L204.99,221.59 L205.05,221.89 L205.11,222.25 L205.16,222.63 L205.22,223.01 L205.28,223.35 L205.34,223.63 L205.40,223.91 L205.46,224.20 L205.52,224.48 L205.58,224.72 L205.64,224.87 L205.70,224.92 L205.76,224.85 L205.82,224.68 L205.88,224.45 L205.94,224.16 L206.00,223.83 L206.06,223.49 L206.12,223.14 L206.18,222.74 L206.24,222.27 L206.30,221.73 L206.36,221.10 L206.42,220.39 L206.48,219.58 L206.54,218.45 L206.60,216.95 L206.66,215.20 L206.72,213.31 L206.78,211.41 L206.83,209.61 L206.89,208.03 L206.95,206.41 L207.01,204.66 L207.07,202.93 L207.13,201.40 L207.19,200.23 L207.25,199.57 L207.31,199.53 L207.37,199.79 L207.43,200.28 L207.49,200.94 L207.55,201.73 L207.61,202.58 L207.67,203.46 L207.73,204.38 L207.79,205.54 L207.85,206.89 L207.91,208.37 L207.97,209.90 L208.03,211.44 L208.09,213.00 L208.15,214.74 L208.21,216.55 L208.27,218.27 L208.33,219.76 L208.39,220.95 L208.45,222.14 L208.50,223.22 L208.56,224.03 L208.62,224.39 L208.68,224.24 L208.74,223.76 L208.80,223.05 L208.86,222.17 L208.92,220.66 L208.98,218.48 L209.04,215.71 L209.10,211.46 L209.16,205.93 L209.22,199.74 L209.28,193.52 L209.34,187.12 L209.40,180.20 L209.46,173.19 L209.52,166.52 L209.58,160.03 L209.64,153.65 L209.70,147.49 L209.76,141.65 L209.82,136.10 L209.88,130.78 L209.94,125.61 L210.00,120.51 L210.06,115.41 L210.12,110.29 L210.17,105.37 L210.23,100.84 L210.29,96.51 L210.35,92.37 L210.41,88.51 L210.47,85.02 L210.53,81.86 L210.59,78.84 L210.65,76.40 L210.71,74.91 L210.77,73.78 L210.83,73.22 L210.89,73.50 L210.95,74.40 L211.01,75.81 L211.07,79.09 L211.13,83.37 L211.19,87.57 L211.25,92.12 L211.31,97.36 L211.37,103.65 L211.43,112.26 L211.49,121.70 L211.55,131.77 L211.61,141.86 L211.67,151.74 L211.73,161.41 L211.79,169.78 L211.85,177.09 L211.90,183.74 L211.96,189.75 L212.02,195.19 L212.08,200.74 L212.14,206.14 L212.20,210.82 L212.26,214.21 L212.32,215.81 L212.38,216.70 L212.44,217.31 L212.50,217.55 L212.56,217.37 L212.62,216.90 L212.68,216.22 L212.74,215.43 L212.80,214.63 L212.86,213.90 L212.92,213.14 L212.98,212.29 L213.04,211.41 L213.10,210.56 L213.16,209.79 L213.22,209.16 L213.28,208.70 L213.34,208.25 L213.40,207.83 L213.46,207.45 L213.52,207.13 L213.57,206.91 L213.63,206.79 L213.69,206.81 L213.75,206.92 L213.81,207.13 L213.87,207.40 L213.93,207.73 L213.99,208.10 L214.05,208.51 L214.11,208.93 L214.17,209.54 L214.23,210.33 L214.29,211.26 L214.35,212.27 L214.41,213.29 L214.47,214.27 L214.53,215.22 L214.59,216.25 L214.65,217.31 L214.71,218.36 L214.77,219.36 L214.83,220.24 L214.89,220.97 L214.95,221.61 L215.01,222.22 L215.07,222.75 L215.13,223.19 L215.19,223.50 L215.24,223.71 L215.30,223.90 L215.36,224.08 L215.42,224.24 L215.48,224.38 L215.54,224.51 L215.60,224.62 L215.66,224.73 L215.72,224.82 L215.78,224.90 L215.84,224.97 L215.90,225.03 L215.96,225.09 L216.02,225.14 L216.08,225.20 L216.14,225.25 L216.20,225.30 L216.26,225.35 L216.32,225.40 L216.38,225.44 L216.44,225.49 L216.50,225.53 L216.56,225.58 L216.62,225.62 L216.68,225.66 L216.74,225.70 L216.80,225.74 L216.86,225.78 L216.91,225.81 L216.97,225.85 L217.03,225.88 L217.09,225.90 L217.15,225.93 L217.21,225.95 L217.27,225.97 L217.33,225.99 L217.39,226.01 L217.45,226.02 L217.51,226.04 L217.57,226.05 L217.63,226.07 L217.69,226.08 L217.75,226.09 L217.81,226.10 L217.87,226.11 L217.93,226.12 L217.99,226.13 L218.05,226.13 L218.11,226.14 L218.17,226.14 L218.23,226.15 L218.29,226.15 L218.35,226.15 L218.41,226.15 L218.47,226.16 L218.53,226.16 L218.59,226.16 L218.64,226.16 L218.70,226.16 L218.76,226.16 L218.82,226.17 L218.88,226.17 L218.94,226.17 L219.00,226.18 L219.06,226.18 L219.12,226.19 L219.18,226.20 L219.24,226.20 L219.30,226.21 L219.36,226.22 L219.42,226.24 L219.48,226.25 L219.54,226.26 L219.60,226.28 L219.66,226.29 L219.72,226.31 L219.78,226.32 L219.84,226.34 L219.90,226.36 L219.96,226.38 L220.02,226.39 L220.08,226.41 L220.14,226.43 L220.20,226.58 L220.26,226.60 L220.31,226.61 L220.37,226.63 L220.43,226.64 L220.49,226.65 L220.55,226.66 L220.61,226.67 L220.67,226.68 L220.73,226.69 L220.79,226.69 L220.85,226.70 L220.91,226.70 L220.97,226.70 L221.03,226.69 L221.09,226.68 L221.15,226.62 L221.21,226.50 L221.27,226.33 L221.33,226.12 L221.39,225.87 L221.45,225.60 L221.51,225.31 L221.57,225.02 L221.63,224.72 L221.69,224.44 L221.75,224.17 L221.81,223.93 L221.87,223.72 L221.93,223.55 L221.98,223.44 L222.04,223.35 L222.10,223.28 L222.16,223.21 L222.22,223.15 L222.28,223.10 L222.34,223.05 L222.40,223.00 L222.46,222.96 L222.52,222.91 L222.58,222.87 L222.64,222.83 L222.70,222.78 L222.76,222.74 L222.82,222.68 L222.88,222.63 L222.94,222.54 L223.00,222.41 L223.06,222.24 L223.12,222.05 L223.18,221.85 L223.24,221.66 L223.30,221.49 L223.36,221.37 L223.42,221.29 L223.48,221.29 L223.54,221.39 L223.60,221.61 L223.65,221.92 L223.71,222.29 L223.77,222.69 L223.83,223.08 L223.89,223.45 L223.95,223.76 L224.01,224.05 L224.07,224.36 L224.13,224.65 L224.19,224.91 L224.25,225.10 L224.31,225.18 L224.37,225.15 L224.43,225.01 L224.49,224.80 L224.55,224.53 L224.61,224.21 L224.67,223.88 L224.73,223.54 L224.79,223.15 L224.85,222.70 L224.91,222.17 L224.97,221.56 L225.03,220.87 L225.09,220.08 L225.15,219.06 L225.21,217.65 L225.27,215.96 L225.33,214.12 L225.38,212.23 L225.44,210.42 L225.50,208.80 L225.56,207.25 L225.62,205.53 L225.68,203.81 L225.74,202.23 L225.80,200.97 L225.86,200.18 L225.92,200.00 L225.98,200.19 L226.04,200.61 L226.10,201.21 L226.16,201.94 L226.22,202.76 L226.28,203.62 L226.34,204.49 L226.40,205.57 L226.46,206.86 L226.52,208.29 L226.58,209.79 L226.64,211.30 L226.70,212.81 L226.76,214.50 L226.82,216.28 L226.88,218.01 L226.94,219.55 L227.00,220.78 L227.05,221.96 L227.11,223.08 L227.17,223.97 L227.23,224.46 L227.29,224.44 L227.35,224.06 L227.41,223.43 L227.47,222.64 L227.53,221.37 L227.59,219.40 L227.65,216.88 L227.71,213.14 L227.77,207.99 L227.83,202.06 L227.89,195.95 L227.95,189.84 L228.01,183.17 L228.07,176.31 L228.13,169.69 L228.19,163.34 L228.25,157.07 L228.31,150.99 L228.37,145.19 L228.43,139.70 L228.49,134.44 L228.55,129.35 L228.61,124.34 L228.67,119.35 L228.72,114.32 L228.78,109.43 L228.84,104.90 L228.90,100.62 L228.96,96.51 L229.02,92.64 L229.08,89.13 L229.14,85.99 L229.20,82.95 L229.26,80.38 L229.32,78.71 L229.38,77.54 L229.44,76.81 L229.50,76.89 L229.56,77.64 L229.62,78.81 L229.68,81.55 L229.74,85.63 L229.80,89.74 L229.86,94.09 L229.92,99.02 L229.98,104.85 L230.04,112.72 L230.10,121.86 L230.16,131.56 L230.22,141.51 L230.28,151.15 L230.34,160.76 L230.39,169.33 L230.45,176.65 L230.51,183.32 L230.57,189.35 L230.63,194.78 L230.69,200.17 L230.75,205.55 L230.81,210.36 L230.87,214.04 L230.93,216.04 L230.99,216.97 L231.05,217.66 L231.11,218.01 L231.17,217.93 L231.23,217.54 L231.29,216.92 L231.35,216.18 L231.41,215.39 L231.47,214.66 L231.53,213.94 L231.59,213.11 L231.65,212.24 L231.71,211.39 L231.77,210.60 L231.83,209.93 L231.89,209.43 L231.95,208.97 L232.01,208.52 L232.06,208.11 L232.12,207.76 L232.18,207.48 L232.24,207.31 L232.30,207.26 L232.36,207.32 L232.42,207.47 L232.48,207.69 L232.54,207.97 L232.60,208.30 L232.66,208.66 L232.72,209.04 L232.78,209.55 L232.84,210.27 L232.90,211.13 L232.96,212.08 L233.02,213.07 L233.08,214.03 L233.14,214.95 L233.20,215.93 L233.26,216.96 L233.32,218.00 L233.38,218.99 L233.44,219.89 L233.50,220.66 L233.56,221.31 L233.62,221.93 L233.68,222.49 L233.74,222.97 L233.79,223.33 L233.85,223.57 L233.91,223.80 L233.97,224.00 L234.03,224.19 L234.09,224.37 L234.15,224.53 L234.21,224.68 L234.27,224.81 L234.33,224.94 L234.39,225.05 L234.45,225.15 L234.51,225.24 L234.57,225.33 L234.63,225.40 L234.69,225.48 L234.75,225.54 L234.81,225.61 L234.87,225.67 L234.93,225.73 L234.99,225.78 L235.05,225.83 L235.11,225.87 L235.17,225.91 L235.23,225.95 L235.29,225.98 L235.35,226.01 L235.41,226.03 L235.46,226.05 L235.52,226.06 L235.58,226.07 L235.64,226.07 L235.70,226.07 L235.76,226.07 L235.82,226.06 L235.88,226.05 L235.94,226.04 L236.00,226.02 L236.06,226.01 L236.12,225.99 L236.18,225.97 L236.24,225.96 L236.30,225.94 L236.36,225.93 L236.42,225.91 L236.48,225.90 L236.54,225.89 L236.60,225.88 L236.66,225.87 L236.72,225.87 L236.78,225.86 L236.84,225.86 L236.90,225.86 L236.96,225.86 L237.02,225.87 L237.08,225.88 L237.13,225.89 L237.19,225.90 L237.25,225.92 L237.31,225.94 L237.37,225.96 L237.43,225.99 L237.49,226.01 L237.55,226.04 L237.61,226.07 L237.67,226.11 L237.73,226.14 L237.79,226.17 L237.85,226.21 L237.91,226.25 L237.97,226.28 L238.03,226.32 L238.09,226.36 L238.15,226.39 L238.21,226.43 L238.27,226.46 L238.33,226.50 L238.39,226.53 L238.45,226.56 L238.51,226.59 L238.57,226.61 L238.63,226.63 L238.69,226.65 L238.75,226.67 L238.80,226.81 L238.86,226.82 L238.92,226.83 L238.98,226.83 L239.04,226.83 L239.10,226.83 L239.16,226.82 L239.22,226.81 L239.28,226.80 L239.34,226.79 L239.40,226.77 L239.46,226.75 L239.52,226.72 L239.58,226.70 L239.64,226.67 L239.70,226.64 L239.76,226.58 L239.82,226.47 L239.88,226.32 L239.94,226.13 L240.00,225.91 L240.06,225.67 L240.12,225.42 L240.18,225.16 L240.24,224.90 L240.30,224.66 L240.36,224.42 L240.42,224.21 L240.48,224.03 L240.53,223.88 L240.59,223.78 L240.65,223.71 L240.71,223.65 L240.77,223.60 L240.83,223.56 L240.89,223.53 L240.95,223.50 L241.01,223.48 L241.07,223.46 L241.13,223.44 L241.19,223.43 L241.25,223.41 L241.31,223.40 L241.37,223.38 L241.43,223.36 L241.49,223.33 L241.55,223.29 L241.61,223.21 L241.67,223.09 L241.73,222.95 L241.79,222.80 L241.85,222.66 L241.91,222.52 L241.97,222.42 L242.03,222.35 L242.09,222.34 L242.15,222.40 L242.20,222.56 L242.26,222.80 L242.32,223.09 L242.38,223.41 L242.44,223.74 L242.50,224.04 L242.56,224.30 L242.62,224.52 L242.68,224.76 L242.74,224.99 L242.80,225.20 L242.86,225.35 L242.92,225.42 L242.98,225.40 L243.04,225.28 L243.10,225.10 L243.16,224.87 L243.22,224.59 L243.28,224.30 L243.34,224.00 L243.40,223.68 L243.46,223.30 L243.52,222.86 L243.58,222.37 L243.64,221.80 L243.70,221.16 L243.76,220.38 L243.82,219.28 L243.87,217.93 L243.93,216.43 L243.99,214.87 L244.05,213.35 L244.11,211.97 L244.17,210.71 L244.23,209.33 L244.29,207.91 L244.35,206.58 L244.41,205.48 L244.47,204.74 L244.53,204.48 L244.59,204.61 L244.65,204.94 L244.71,205.43 L244.77,206.04 L244.83,206.73 L244.89,207.45 L244.95,208.18 L245.01,209.06 L245.07,210.11 L245.13,211.28 L245.19,212.53 L245.25,213.80 L245.31,215.05 L245.37,216.43 L245.43,217.90 L245.49,219.36 L245.54,220.69 L245.60,221.77 L245.66,222.74 L245.72,223.68 L245.78,224.47 L245.84,224.96 L245.90,225.03 L245.96,224.76 L246.02,224.26 L246.08,223.62 L246.14,222.69 L246.20,221.16 L246.26,219.15 L246.32,216.36 L246.38,212.30 L246.44,207.47 L246.50,202.37 L246.56,197.35 L246.62,191.88 L246.68,186.18 L246.74,180.59 L246.80,175.28 L246.86,170.04 L246.92,164.94 L246.98,160.05 L247.04,155.43 L247.10,151.02 L247.16,146.76 L247.22,142.59 L247.27,138.45 L247.33,134.29 L247.39,130.19 L247.45,126.34 L247.51,122.78 L247.57,119.34 L247.63,116.10 L247.69,113.12 L247.75,110.48 L247.81,107.95 L247.87,105.72 L247.93,104.15 L247.99,103.17 L248.05,102.47 L248.11,102.39 L248.17,102.93 L248.23,103.86 L248.29,105.73 L248.35,108.99 L248.41,112.45 L248.47,116.00 L248.53,119.97 L248.59,124.63 L248.65,130.67 L248.71,138.20 L248.77,146.10 L248.83,154.38 L248.89,162.41 L248.94,170.45 L249.00,177.85 L249.06,184.09 L249.12,189.75 L249.18,194.88 L249.24,199.50 L249.30,203.91 L249.36,208.41 L249.42,212.54 L249.48,215.84 L249.54,217.86 L249.60,218.69 L249.66,219.30 L249.72,219.64 L249.78,219.64 L249.84,219.34 L249.90,218.84 L249.96,218.21 L250.02,217.53 L250.08,216.88 L250.14,216.27 L250.20,215.57 L250.26,214.82 L250.32,214.08 L250.38,213.37 L250.44,212.76 L250.50,212.29 L250.56,211.89 L250.61,211.49 L250.67,211.12 L250.73,210.79 L250.79,210.53 L250.85,210.35 L250.91,210.28 L250.97,210.30 L251.03,210.40 L251.09,210.57 L251.15,210.79 L251.21,211.06 L251.27,211.36 L251.33,211.68 L251.39,212.07 L251.45,212.64 L251.51,213.35 L251.57,214.14 L251.63,214.98 L251.69,215.81 L251.75,216.60 L251.81,217.42 L251.87,218.30 L251.93,219.19 L251.99,220.05 L252.05,220.85 L252.11,221.54 L252.17,222.12 L252.23,222.67 L252.28,223.17 L252.34,223.61 L252.40,223.96 L252.46,224.20 L252.52,224.40 L252.58,224.60 L252.64,224.77 L252.70,224.93 L252.76,225.08 L252.82,225.21 L252.88,225.33 L252.94,225.43 L253.00,225.52 L253.06,225.61 L253.12,225.68 L253.18,225.74 L253.24,225.79 L253.30,225.84 L253.36,225.88 L253.42,225.91 L253.48,225.95 L253.54,225.97 L253.60,225.99 L253.66,226.01 L253.72,226.03 L253.78,226.04 L253.84,226.04 L253.90,226.04 L253.96,226.04 L254.01,226.04 L254.07,226.03 L254.13,226.02 L254.19,226.01 L254.25,226.00 L254.31,225.99 L254.37,225.97 L254.43,225.95 L254.49,225.93 L254.55,225.92 L254.61,225.90 L254.67,225.89 L254.73,225.87 L254.79,225.86 L254.85,225.86 L254.91,225.85 L254.97,225.85 L255.03,225.85 L255.09,225.85 L255.15,225.86 L255.21,225.87 L255.27,225.88 L255.33,225.89 L255.39,225.91 L255.45,225.92 L255.51,225.95 L255.57,225.97 L255.63,225.99 L255.68,226.02 L255.74,226.05 L255.80,226.08 L255.86,226.11 L255.92,226.14 L255.98,226.17 L256.04,226.20 L256.10,226.24 L256.16,226.27 L256.22,226.30 L256.28,226.33 L256.34,226.36 L256.40,226.39 L256.46,226.41 L256.52,226.44 L256.58,226.46 L256.64,226.49 L256.70,226.51 L256.76,226.52 L256.82,226.54 L256.88,226.55 L256.94,226.56 L257.00,226.57 L257.06,226.58 L257.12,226.58 L257.18,226.58 L257.24,226.58 L257.30,226.57 L257.35,226.57 L257.41,226.56 L257.47,226.66 L257.53,226.65 L257.59,226.64 L257.65,226.62 L257.71,226.61 L257.77,226.59 L257.83,226.58 L257.89,226.56 L257.95,226.55 L258.01,226.53 L258.07,226.51 L258.13,226.50 L258.19,226.48 L258.25,226.47 L258.31,226.45 L258.37,226.43 L258.43,226.37 L258.49,226.28 L258.55,226.16 L258.61,226.03 L258.67,225.88 L258.73,225.72 L258.79,225.56 L258.85,225.40 L258.91,225.24 L258.97,225.09 L259.02,224.96 L259.08,224.84 L259.14,224.75 L259.20,224.69 L259.26,224.66 L259.32,224.63 L259.38,224.61 L259.44,224.60 L259.50,224.58 L259.56,224.57 L259.62,224.56 L259.68,224.55 L259.74,224.54 L259.80,224.53 L259.86,224.52 L259.92,224.51 L259.98,224.49 L260.04,224.47 L260.10,224.44 L260.16,224.40 L260.22,224.33 L260.28,224.24 L260.34,224.12 L260.40,224.00 L260.46,223.88 L260.52,223.76 L260.58,223.66 L260.64,223.58 L260.69,223.53 L260.75,223.54 L260.81,223.61 L260.87,223.74 L260.93,223.92 L260.99,224.12 L261.05,224.33 L261.11,224.53 L261.17,224.70 L261.23,224.84 L261.29,224.99 L261.35,225.15 L261.41,225.29 L261.47,225.40 L261.53,225.46 L261.59,225.46 L261.65,225.40 L261.71,225.28 L261.77,225.13 L261.83,224.96 L261.89,224.76 L261.95,224.57 L262.01,224.37 L262.07,224.13 L262.13,223.86 L262.19,223.54 L262.25,223.18 L262.31,222.77 L262.37,222.29 L262.42,221.59 L262.48,220.71 L262.54,219.70 L262.60,218.63 L262.66,217.58 L262.72,216.61 L262.78,215.75 L262.84,214.82 L262.90,213.84 L262.96,212.91 L263.02,212.11 L263.08,211.53 L263.14,211.28 L263.20,211.34 L263.26,211.55 L263.32,211.88 L263.38,212.29 L263.44,212.77 L263.50,213.27 L263.56,213.78 L263.62,214.35 L263.68,215.05 L263.74,215.85 L263.80,216.70 L263.86,217.57 L263.92,218.44 L263.98,219.35 L264.04,220.35 L264.09,221.36 L264.15,222.30 L264.21,223.08 L264.27,223.72 L264.33,224.37 L264.39,224.93 L264.45,225.30 L264.51,225.39 L264.57,225.22 L264.63,224.88 L264.69,224.42 L264.75,223.82 L264.81,222.82 L264.87,221.45 L264.93,219.67 L264.99,216.99 L265.05,213.67 L265.11,210.09 L265.17,206.56 L265.23,202.79 L265.29,198.79 L265.35,194.82 L265.41,191.06 L265.47,187.37 L265.53,183.76 L265.59,180.29 L265.65,177.02 L265.71,173.90 L265.76,170.90 L265.82,167.98 L265.88,165.09 L265.94,162.19 L266.00,159.31 L266.06,156.58 L266.12,154.08 L266.18,151.66 L266.24,149.37 L266.30,147.25 L266.36,145.37 L266.42,143.61 L266.48,141.99 L266.54,140.78 L266.60,140.06 L266.66,139.52 L266.72,139.37 L266.78,139.68 L266.84,140.29 L266.90,141.35 L266.96,143.50 L267.02,145.97 L267.08,148.42 L267.14,151.13 L267.20,154.27 L267.26,158.18 L267.32,163.36 L267.38,168.81 L267.43,174.61 L267.49,180.28 L267.55,185.93 L267.61,191.29 L267.67,195.82 L267.73,199.87 L267.79,203.55 L267.85,206.86 L267.91,209.92 L267.97,213.07 L268.03,216.04 L268.09,218.51 L268.15,220.16 L268.21,220.83 L268.27,221.27 L268.33,221.54 L268.39,221.58 L268.45,221.39 L268.51,221.06 L268.57,220.61 L268.63,220.13 L268.69,219.64 L268.75,219.21 L268.81,218.72 L268.87,218.20 L268.93,217.67 L268.99,217.17 L269.05,216.72 L269.11,216.37 L269.16,216.09 L269.22,215.82 L269.28,215.56 L269.34,215.34 L269.40,215.15 L269.46,215.03 L269.52,214.98 L269.58,215.00 L269.64,215.07 L269.70,215.20 L269.76,215.37 L269.82,215.57 L269.88,215.79 L269.94,216.04 L270.00,216.31 L270.06,216.70 L270.12,217.19 L270.18,217.76 L270.24,218.36 L270.30,218.96 L270.36,219.53 L270.42,220.10 L270.48,220.72 L270.54,221.35 L270.60,221.97 L270.66,222.54 L270.72,223.05 L270.78,223.46 L270.83,223.85 L270.89,224.21 L270.95,224.52 L271.01,224.77 L271.07,224.94 L271.13,225.07 L271.19,225.19 L271.25,225.30 L271.31,225.40 L271.37,225.49 L271.43,225.57 L271.49,225.64 L271.55,225.69 L271.61,225.74 L271.67,225.79 L271.73,225.82 L271.79,225.85 L271.85,225.88 L271.91,225.90 L271.97,225.92 L272.03,225.93 L272.09,225.95 L272.15,225.96 L272.21,225.98 L272.27,225.99 L272.33,226.00 L272.39,226.01 L272.45,226.02 L272.50,226.03 L272.56,226.04 L272.62,226.05 L272.68,226.06 L272.74,226.06 L272.80,226.07 L272.86,226.08 L272.92,226.09 L272.98,226.09 L273.04,226.10 L273.10,226.11 L273.16,226.12 L273.22,226.12 L273.28,226.13 L273.34,226.14 L273.40,226.15 L273.46,226.17 L273.52,226.18 L273.58,226.19 L273.64,226.20 L273.70,226.21 L273.76,226.23 L273.82,226.24 L273.88,226.25 L273.94,226.26 L274.00,226.27 L274.06,226.28 L274.12,226.29 L274.17,226.30 L274.23,226.31 L274.29,226.32 L274.35,226.32 L274.41,226.33 L274.47,226.33 L274.53,226.33 L274.59,226.33 L274.65,226.33 L274.71,226.33 L274.77,226.33 L274.83,226.33 L274.89,226.33 L274.95,226.32 L275.01,226.32 L275.07,226.32 L275.13,226.31 L275.19,226.31 L275.25,226.30 L275.31,226.30 L275.37,226.29 L275.43,226.29 L275.49,226.29 L275.55,226.28 L275.61,226.28 L275.67,226.28 L275.73,226.28 L275.79,226.28 L275.85,226.28 L275.90,226.29 L275.96,226.29 L276.02,226.30 L276.08,226.38 L276.14,226.39 L276.20,226.40 L276.26,226.41 L276.32,226.42 L276.38,226.44 L276.44,226.45 L276.50,226.47 L276.56,226.48 L276.62,226.50 L276.68,226.52 L276.74,226.53 L276.80,226.55 L276.86,226.57 L276.92,226.59 L276.98,226.60 L277.04,226.59 L277.10,226.56 L277.16,226.52 L277.22,226.46 L277.28,226.39 L277.34,226.31 L277.40,226.22 L277.46,226.14 L277.52,226.05 L277.57,225.96 L277.63,225.88 L277.69,225.80 L277.75,225.74 L277.81,225.69 L277.87,225.66 L277.93,225.63 L277.99,225.60 L278.05,225.57 L278.11,225.54 L278.17,225.51 L278.23,225.48 L278.29,225.44 L278.35,225.41 L278.41,225.38 L278.47,225.34 L278.53,225.30 L278.59,225.26 L278.65,225.22 L278.71,225.17 L278.77,225.12 L278.83,225.06 L278.89,224.98 L278.95,224.89 L279.01,224.80 L279.07,224.70 L279.13,224.61 L279.19,224.53 L279.24,224.47 L279.30,224.42 L279.36,224.41 L279.42,224.44 L279.48,224.51 L279.54,224.61 L279.60,224.73 L279.66,224.86 L279.72,224.99 L279.78,225.11 L279.84,225.22 L279.90,225.32 L279.96,225.43 L280.02,225.54 L280.08,225.64 L280.14,225.71 L280.20,225.75 L280.26,225.74 L280.32,225.71 L280.38,225.66 L280.44,225.58 L280.50,225.50 L280.56,225.41 L280.62,225.32 L280.68,225.21 L280.74,225.08 L280.80,224.92 L280.86,224.74 L280.91,224.52 L280.97,224.27 L281.03,223.90 L281.09,223.41 L281.15,222.83 L281.21,222.21 L281.27,221.58 L281.33,220.99 L281.39,220.47 L281.45,219.93 L281.51,219.34 L281.57,218.76 L281.63,218.25 L281.69,217.85 L281.75,217.64 L281.81,217.62 L281.87,217.71 L281.93,217.87 L281.99,218.08 L282.05,218.34 L282.11,218.61 L282.17,218.89 L282.23,219.19 L282.29,219.56 L282.35,220.00 L282.41,220.48 L282.47,220.98 L282.53,221.47 L282.59,221.98 L282.64,222.55 L282.70,223.14 L282.76,223.69 L282.82,224.17 L282.88,224.55 L282.94,224.93 L283.00,225.27 L283.06,225.52 L283.12,225.62 L283.18,225.54 L283.24,225.36 L283.30,225.10 L283.36,224.79 L283.42,224.25 L283.48,223.50 L283.54,222.54 L283.60,221.07 L283.66,219.17 L283.72,217.07 L283.78,214.96 L283.84,212.78 L283.90,210.44 L283.96,208.07 L284.02,205.81 L284.08,203.62 L284.14,201.47 L284.20,199.40 L284.26,197.43 L284.31,195.57 L284.37,193.78 L284.43,192.04 L284.49,190.33 L284.55,188.61 L284.61,186.89 L284.67,185.24 L284.73,183.73 L284.79,182.28 L284.85,180.89 L284.91,179.60 L284.97,178.44 L285.03,177.38 L285.09,176.38 L285.15,175.57 L285.21,175.09 L285.27,174.72 L285.33,174.55 L285.39,174.66 L285.45,174.98 L285.51,175.48 L285.57,176.62 L285.63,178.08 L285.69,179.51 L285.75,181.07 L285.81,182.86 L285.87,185.02 L285.93,187.96 L285.98,191.17 L286.04,194.59 L286.10,198.01 L286.16,201.36 L286.22,204.62 L286.28,207.44 L286.34,209.91 L286.40,212.15 L286.46,214.18 L286.52,216.01 L286.58,217.89 L286.64,219.71 L286.70,221.28 L286.76,222.41 L286.82,222.92 L286.88,223.21 L286.94,223.42 L287.00,223.49 L287.06,223.42 L287.12,223.25 L287.18,223.01 L287.24,222.74 L287.30,222.47 L287.36,222.22 L287.42,221.95 L287.48,221.66 L287.54,221.36 L287.60,221.07 L287.65,220.81 L287.71,220.60 L287.77,220.44 L287.83,220.28 L287.89,220.14 L287.95,220.01 L288.01,219.90 L288.07,219.82 L288.13,219.78 L288.19,219.78 L288.25,219.82 L288.31,219.88 L288.37,219.97 L288.43,220.08 L288.49,220.20 L288.55,220.33 L288.61,220.47 L288.67,220.67 L288.73,220.93 L288.79,221.24 L288.85,221.58 L288.91,221.92 L288.97,222.24 L289.03,222.56 L289.09,222.90 L289.15,223.25 L289.21,223.61 L289.27,223.94 L289.32,224.23 L289.38,224.47 L289.44,224.68 L289.50,224.89 L289.56,225.06 L289.62,225.21 L289.68,225.31 L289.74,225.39 L289.80,225.45 L289.86,225.52 L289.92,225.58 L289.98,225.63 L290.04,225.68 L290.10,225.73 L290.16,225.77 L290.22,225.82 L290.28,225.86 L290.34,225.89 L290.40,225.93 L290.46,225.96 L290.52,226.00 L290.58,226.03 L290.64,226.07 L290.70,226.10 L290.76,226.14 L290.82,226.17 L290.88,226.21 L290.94,226.24 L291.00,226.27 L291.05,226.31 L291.11,226.34 L291.17,226.37 L291.23,226.40 L291.29,226.42 L291.35,226.45 L291.41,226.47 L291.47,226.49 L291.53,226.51 L291.59,226.52 L291.65,226.53 L291.71,226.54 L291.77,226.55 L291.83,226.55 L291.89,226.56 L291.95,226.56 L292.01,226.55 L292.07,226.55 L292.13,226.54 L292.19,226.53 L292.25,226.52 L292.31,226.50 L292.37,226.49 L292.43,226.47 L292.49,226.45 L292.55,226.43 L292.61,226.40 L292.67,226.38 L292.72,226.36 L292.78,226.33 L292.84,226.31 L292.90,226.28 L292.96,226.26 L293.02,226.23 L293.08,226.21 L293.14,226.19 L293.20,226.16 L293.26,226.15 L293.32,226.13 L293.38,226.11 L293.44,226.10 L293.50,226.09 L293.56,226.08 L293.62,226.07 L293.68,226.07 L293.74,226.07 L293.80,226.07 L293.86,226.07 L293.92,226.08 L293.98,226.09 L294.04,226.11 L294.10,226.12 L294.16,226.14 L294.22,226.16 L294.28,226.19 L294.34,226.21 L294.39,226.24 L294.45,226.27 L294.51,226.30 L294.57,226.33 L294.63,226.37 L294.69,226.44 L294.75,226.48 L294.81,226.51 L294.87,226.54 L294.93,226.58 L294.99,226.61 L295.05,226.64 L295.11,226.67 L295.17,226.70 L295.23,226.72 L295.29,226.74 L295.35,226.77 L295.41,226.78 L295.47,226.80 L295.53,226.81 L295.59,226.82 L295.65,226.82 L295.71,226.80 L295.77,226.77 L295.83,226.73 L295.89,226.69 L295.95,226.63 L296.01,226.57 L296.06,226.51 L296.12,226.44 L296.18,226.38 L296.24,226.31 L296.30,226.25 L296.36,226.19 L296.42,226.14 L296.48,226.09 L296.54,226.05 L296.60,226.01 L296.66,225.97 L296.72,225.93 L296.78,225.89 L296.84,225.86 L296.90,225.82 L296.96,225.78 L297.02,225.75 L297.08,225.72 L297.14,225.68 L297.20,225.65 L297.26,225.62 L297.32,225.60 L297.38,225.57 L297.44,225.54 L297.50,225.50 L297.56,225.46 L297.62,225.42 L297.68,225.38 L297.74,225.34 L297.79,225.31 L297.85,225.29 L297.91,225.28 L297.97,225.28 L298.03,225.31 L298.09,225.36 L298.15,225.43 L298.21,225.51 L298.27,225.59 L298.33,225.68 L298.39,225.76 L298.45,225.83 L298.51,225.90 L298.57,225.98 L298.63,226.05 L298.69,226.12 L298.75,226.17 L298.81,226.21 L298.87,226.22 L298.93,226.22 L298.99,226.20 L299.05,226.17 L299.11,226.13 L299.17,226.09 L299.23,226.04 L299.29,225.99 L299.35,225.92 L299.41,225.84 L299.46,225.74 L299.52,225.62 L299.58,225.49 L299.64,225.31 L299.70,225.06 L299.76,224.77 L299.82,224.44 L299.88,224.11 L299.94,223.78 L300.00,223.50 L300.06,223.22 L300.12,222.91 L300.18,222.60 L300.24,222.31 L300.30,222.08 L300.36,221.94 L300.42,221.90 L300.48,221.93 L300.54,221.99 L300.60,222.09 L300.66,222.21 L300.72,222.34 L300.78,222.48 L300.84,222.63 L300.90,222.81 L300.96,223.03 L301.02,223.28 L301.08,223.54 L301.13,223.80 L301.19,224.06 L301.25,224.35 L301.31,224.66 L301.37,224.97 L301.43,225.23 L301.49,225.45 L301.55,225.65 L301.61,225.85 L301.67,226.01 L301.73,226.09 L301.79,226.08 L301.85,226.01 L301.91,225.90 L301.97,225.77 L302.03,225.54 L302.09,225.19 L302.15,224.74 L302.21,224.07 L302.27,223.15 L302.33,222.10 L302.39,221.03 L302.45,219.95 L302.51,218.76 L302.57,217.55 L302.63,216.39 L302.69,215.26 L302.75,214.16 L302.80,213.08 L302.86,212.06 L302.92,211.08 L302.98,210.15 L303.04,209.25 L303.10,208.36 L303.16,207.47 L303.22,206.58 L303.28,205.71 L303.34,204.91 L303.40,204.15 L303.46,203.42 L303.52,202.73 L303.58,202.11 L303.64,201.55 L303.70,201.01 L303.76,200.56 L303.82,200.27 L303.88,200.06 L303.94,199.94 L304.00,199.95 L304.06,200.09 L304.12,200.31 L304.18,200.81 L304.24,201.54 L304.30,202.27 L304.36,203.05 L304.42,203.93 L304.48,204.98 L304.53,206.39 L304.59,208.02 L304.65,209.75 L304.71,211.52 L304.77,213.24 L304.83,214.95 L304.89,216.46 L304.95,217.77 L305.01,218.96 L305.07,220.04 L305.13,221.01 L305.19,221.98 L305.25,222.94 L305.31,223.80 L305.37,224.46 L305.43,224.81 L305.49,224.99 L305.55,225.12 L305.61,225.19 L305.67,225.19 L305.73,225.12 L305.79,225.02 L305.85,224.89 L305.91,224.76 L305.97,224.63 L306.03,224.50 L306.09,224.35 L306.15,224.19 L306.20,224.03 L306.26,223.88 L306.32,223.75 L306.38,223.65 L306.44,223.55 L306.50,223.45 L306.56,223.36 L306.62,223.28 L306.68,223.21 L306.74,223.15 L306.80,223.12 L306.86,223.10 L306.92,223.10 L306.98,223.12 L307.04,223.14 L307.10,223.17 L307.16,223.21 L307.22,223.25 L307.28,223.32 L307.34,223.42 L307.40,223.55 L307.46,223.70 L307.52,223.85 L307.58,224.01 L307.64,224.15 L307.70,224.31 L307.76,224.49 L307.82,224.66 L307.87,224.83 L307.93,224.99 L307.99,225.12 L308.05,225.24 L308.11,225.35 L308.17,225.46 L308.23,225.56 L308.29,225.63 L308.35,225.69 L308.41,225.75 L308.47,225.81 L308.53,225.86 L308.59,225.92 L308.65,225.97 L308.71,226.03 L308.77,226.08 L308.83,226.13 L308.89,226.18 L308.95,226.23 L309.01,226.28 L309.07,226.32 L309.13,226.37 L309.19,226.41 L309.25,226.45 L309.31,226.49 L309.37,226.52 L309.43,226.56 L309.49,226.59 L309.54,226.62 L309.60,226.64 L309.66,226.67 L309.72,226.68 L309.78,226.70 L309.84,226.71 L309.90,226.72 L309.96,226.72 L310.02,226.72 L310.08,226.72 L310.14,226.72 L310.20,226.71 L310.26,226.69 L310.32,226.68 L310.38,226.66 L310.44,226.64 L310.50,226.61 L310.56,226.59 L310.62,226.56 L310.68,226.53 L310.74,226.50 L310.80,226.47 L310.86,226.44 L310.92,226.41 L310.98,226.38 L311.04,226.35 L311.10,226.32 L311.16,226.29 L311.22,226.27 L311.27,226.24 L311.33,226.21 L311.39,226.19 L311.45,226.17 L311.51,226.15 L311.57,226.14 L311.63,226.13 L311.69,226.12 L311.75,226.11 L311.81,226.11 L311.87,226.10 L311.93,226.11 L311.99,226.11 L312.05,226.12 L312.11,226.13 L312.17,226.14 L312.23,226.15 L312.29,226.17 L312.35,226.19 L312.41,226.21 L312.47,226.23 L312.53,226.25 L312.59,226.28 L312.65,226.30 L312.71,226.33 L312.77,226.35 L312.83,226.38 L312.89,226.41 L312.94,226.43 L313.00,226.46 L313.06,226.48 L313.12,226.51 L313.18,226.53 L313.24,226.55 L313.30,226.59 L313.36,226.61 L313.42,226.63 L313.48,226.64 L313.54,226.65 L313.60,226.66 L313.66,226.67 L313.72,226.68 L313.78,226.68 L313.84,226.68 L313.90,226.68 L313.96,226.68 L314.02,226.67 L314.08,226.67 L314.14,226.66 L314.20,226.65 L314.26,226.64 L314.32,226.62 L314.38,226.59 L314.44,226.56 L314.50,226.53 L314.56,226.50 L314.61,226.46 L314.67,226.43 L314.73,226.39 L314.79,226.36 L314.85,226.32 L314.91,226.29 L314.97,226.26 L315.03,226.24 L315.09,226.22 L315.15,226.21 L315.21,226.19 L315.27,226.18 L315.33,226.17 L315.39,226.16 L315.45,226.15 L315.51,226.15 L315.57,226.14 L315.63,226.14 L315.69,226.14 L315.75,226.14 L315.81,226.14 L315.87,226.14 L315.93,226.14 L315.99,226.14 L316.05,226.14 L316.11,226.13 L316.17,226.12 L316.23,226.12 L316.28,226.11 L316.34,226.10 L316.40,226.09 L316.46,226.08 L316.52,226.08 L316.58,226.08 L316.64,226.08 L316.70,226.10 L316.76,226.12 L316.82,226.15 L316.88,226.18 L316.94,226.20 L317.00,226.23 L317.06,226.25 L317.12,226.26 L317.18,226.28 L317.24,226.30 L317.30,226.31 L317.36,226.32 L317.42,226.32 L317.48,226.31 L317.54,226.29 L317.60,226.26 L317.66,226.23 L317.72,226.20 L317.78,226.17 L317.84,226.14 L317.90,226.10 L317.95,226.06 L318.01,226.02 L318.07,225.97 L318.13,225.91 L318.19,225.85 L318.25,225.78 L318.31,225.68 L318.37,225.56 L318.43,225.43 L318.49,225.29 L318.55,225.16 L318.61,225.04 L318.67,224.94 L318.73,224.82 L318.79,224.70 L318.85,224.59 L318.91,224.51 L318.97,224.46 L319.03,224.45 L319.09,224.48 L319.15,224.53 L319.21,224.60 L319.27,224.67 L319.33,224.75 L319.39,224.84 L319.45,224.92 L319.51,225.02 L319.57,225.13 L319.63,225.26 L319.68,225.39 L319.74,225.52 L319.80,225.64 L319.86,225.78 L319.92,225.92 L319.98,226.06 L320.04,226.19 L320.10,226.29 L320.16,226.38 L320.22,226.46 L320.28,226.53 L320.34,226.57 L320.40,226.56 L320.46,226.52 L320.52,226.46 L320.58,226.39 L320.64,226.29 L320.70,226.12 L320.76,225.92 L320.82,225.63 L320.88,225.23 L320.94,224.76 L321.00,224.27 L321.06,223.78 L321.12,223.25 L321.18,222.70 L321.24,222.16 L321.30,221.65 L321.35,221.14 L321.41,220.65 L321.47,220.17 L321.53,219.73 L321.59,219.30 L321.65,218.89 L321.71,218.49 L321.77,218.09 L321.83,217.70 L321.89,217.31 L321.95,216.95 L322.01,216.62 L322.07,216.30 L322.13,216.00 L322.19,215.73 L322.25,215.49 L322.31,215.27 L322.37,215.08 L322.43,214.95 L322.49,214.88 L322.55,214.83 L322.61,214.85 L322.67,214.92 L322.73,215.03 L322.79,215.24 L322.85,215.57 L322.91,215.91 L322.97,216.27 L323.02,216.67 L323.08,217.13 L323.14,217.72 L323.20,218.45 L323.26,219.21 L323.32,220.00 L323.38,220.76 L323.44,221.53 L323.50,222.23 L323.56,222.83 L323.62,223.37 L323.68,223.86 L323.74,224.30 L323.80,224.72 L323.86,225.15 L323.92,225.53 L323.98,225.84 L324.04,226.03 L324.10,226.10 L324.16,226.16 L324.22,226.18 L324.28,226.18 L324.34,226.14 L324.40,226.08 L324.46,226.01 L324.52,225.93 L324.58,225.85 L324.64,225.77 L324.69,225.68 L324.75,225.59 L324.81,225.49 L324.87,225.40 L324.93,225.32 L324.99,225.24 L325.05,225.18 L325.11,225.11 L325.17,225.05 L325.23,224.99 L325.29,224.93 L325.35,224.89 L325.41,224.85 L325.47,224.83 L325.53,224.82 L325.59,224.81 L325.65,224.81 L325.71,224.82 L325.77,224.83 L325.83,224.84 L325.89,224.87 L325.95,224.91 L326.01,224.97 L326.07,225.04 L326.13,225.12 L326.19,225.20 L326.25,225.27 L326.31,225.36 L326.37,225.44 L326.42,225.54 L326.48,225.63 L326.54,225.72 L326.60,225.80 L326.66,225.87 L326.72,225.94 L326.78,226.01 L326.84,226.07 L326.90,226.12 L326.96,226.17 L327.02,226.21 L327.08,226.25 L327.14,226.29 L327.20,226.32 L327.26,226.36 L327.32,226.39 L327.38,226.42 L327.44,226.45 L327.50,226.48 L327.56,226.50 L327.62,226.52 L327.68,226.54 L327.74,226.56 L327.80,226.57 L327.86,226.58 L327.92,226.59 L327.98,226.60 L328.04,226.60 L328.09,226.61 L328.15,226.61 L328.21,226.61 L328.27,226.60 L328.33,226.60 L328.39,226.59 L328.45,226.58 L328.51,226.57 L328.57,226.56 L328.63,226.55 L328.69,226.54 L328.75,226.52 L328.81,226.51 L328.87,226.50 L328.93,226.48 L328.99,226.47 L329.05,226.46 L329.11,226.44 L329.17,226.43 L329.23,226.42 L329.29,226.41 L329.35,226.40 L329.41,226.39 L329.47,226.39 L329.53,226.38 L329.59,226.37 L329.65,226.37 L329.71,226.37 L329.76,226.37 L329.82,226.37 L329.88,226.37 L329.94,226.37 L330.00,226.37 L330.06,226.38 L330.12,226.38 L330.18,226.39 L330.24,226.39 L330.30,226.40 L330.36,226.41 L330.42,226.41 L330.48,226.42 L330.54,226.42 L330.60,226.43 L330.66,226.44 L330.72,226.44 L330.78,226.45 L330.84,226.45 L330.90,226.45 L330.96,226.45 L331.02,226.45 L331.08,226.45 L331.14,226.45 L331.20,226.45 L331.26,226.45 L331.32,226.45 L331.38,226.44 L331.43,226.44 L331.49,226.43 L331.55,226.43 L331.61,226.42 L331.67,226.41 L331.73,226.40 L331.79,226.40 L331.85,226.39 L331.91,226.38 L331.97,226.38 L332.03,226.38 L332.09,226.37 L332.15,226.36 L332.21,226.36 L332.27,226.35 L332.33,226.35 L332.39,226.35 L332.45,226.35 L332.51,226.35 L332.57,226.35 L332.63,226.35 L332.69,226.36 L332.75,226.37 L332.81,226.37 L332.87,226.38 L332.93,226.39 L332.99,226.40 L333.05,226.41 L333.11,226.42 L333.16,226.42 L333.22,226.43 L333.28,226.44 L333.34,226.45 L333.40,226.47 L333.46,226.48 L333.52,226.49 L333.58,226.50 L333.64,226.52 L333.70,226.53 L333.76,226.55 L333.82,226.56 L333.88,226.57 L333.94,226.59 L334.00,226.60 L334.06,226.61 L334.12,226.61 L334.18,226.62 L334.24,226.62 L334.30,226.62 L334.36,226.62 L334.42,226.62 L334.48,226.61 L334.54,226.61 L334.60,226.60 L334.66,226.58 L334.72,226.56 L334.78,226.54 L334.83,226.52 L334.89,226.49 L334.95,226.47 L335.01,226.44 L335.07,226.41 L335.13,226.38 L335.19,226.35 L335.25,226.32 L335.31,226.30 L335.37,226.28 L335.43,226.26 L335.49,226.24 L335.55,226.22 L335.61,226.20 L335.67,226.19 L335.73,226.17 L335.79,226.15 L335.85,226.14 L335.91,226.13 L335.97,226.12 L336.03,226.11 L336.09,226.10 L336.15,226.08 L336.21,226.07 L336.27,226.06 L336.33,226.05 L336.39,226.05 L336.45,226.04 L336.50,226.04 L336.56,226.04 L336.62,226.05 L336.68,226.05 L336.74,226.05 L336.80,226.05 L336.86,226.05 L336.92,226.05 L336.98,226.03 L337.04,226.01 L337.10,225.99 L337.16,225.97 L337.22,225.96 L337.28,225.95 L337.34,225.94 L337.40,225.93 L337.46,225.91 L337.52,225.91 L337.58,225.91 L337.64,225.93 L337.70,225.96 L337.76,226.00 L337.82,226.03 L337.88,226.08 L337.94,226.12 L338.00,226.16 L338.06,226.19 L338.12,226.23 L338.17,226.27 L338.23,226.32 L338.29,226.36 L338.35,226.40 L338.41,226.43 L338.47,226.47 L338.53,226.51 L338.59,226.54 L338.65,226.57 L338.71,226.59 L338.77,226.60 L338.83,226.60 L338.89,226.60 L338.95,226.60 L339.01,226.57 L339.07,226.53 L339.13,226.49 L339.19,226.43 L339.25,226.37 L339.31,226.29 L339.37,226.19 L339.43,226.08 L339.49,225.92 L339.55,225.73 L339.61,225.53 L339.67,225.34 L339.73,225.13 L339.79,224.92 L339.85,224.71 L339.90,224.52 L339.96,224.32 L340.02,224.14 L340.08,223.96 L340.14,223.80 L340.20,223.65 L340.26,223.50 L340.32,223.37 L340.38,223.23 L340.44,223.10 L340.50,222.97 L340.56,222.85 L340.62,222.75 L340.68,222.65 L340.74,222.55 L340.80,222.47 L340.86,222.40 L340.92,222.34 L340.98,222.29 L341.04,222.25 L341.10,222.24 L341.16,222.24 L341.22,222.26 L341.28,222.30 L341.34,222.35 L341.40,222.43 L341.46,222.56 L341.52,222.69 L341.57,222.83 L341.63,222.98 L341.69,223.15 L341.75,223.35 L341.81,223.62 L341.87,223.89 L341.93,224.18 L341.99,224.45 L342.05,224.73 L342.11,224.99 L342.17,225.21 L342.23,225.40 L342.29,225.57 L342.35,225.73 L342.41,225.87 L342.47,226.02 L342.53,226.15 L342.59,226.26 L342.65,226.32 L342.71,226.34 L342.77,226.35 L342.83,226.35 L342.89,226.34 L342.95,226.32 L343.01,226.29 L343.07,226.25 L343.13,226.22 L343.19,226.18 L343.24,226.15 L343.30,226.11 L343.36,226.08 L343.42,226.04 L343.48,226.01 L343.54,225.98 L343.60,225.95 L343.66,225.93 L343.72,225.91 L343.78,225.90 L343.84,225.88 L343.90,225.87 L343.96,225.86 L344.02,225.86 L344.08,225.86 L344.14,225.87 L344.20,225.88 L344.26,225.89 L344.32,225.90 L344.38,225.91 L344.44,225.93 L344.50,225.95 L344.56,225.97 L344.62,226.00 L344.68,226.03 L344.74,226.06 L344.80,226.10 L344.86,226.13 L344.91,226.16 L344.97,226.19 L345.03,226.22 L345.09,226.25 L345.15,226.28 L345.21,226.30 L345.27,226.32 L345.33,226.33 L345.39,226.35 L345.45,226.36 L345.51,226.37 L345.57,226.37 L345.63,226.37 L345.69,226.37 L345.75,226.37 L345.81,226.36 L345.87,226.36 L345.93,226.36 L345.99,226.35 L346.05,226.35 L346.11,226.34 L346.17,226.34 L346.23,226.33 L346.29,226.33 L346.35,226.32 L346.41,226.32 L346.47,226.32 L346.53,226.32 L346.58,226.32 L346.64,226.32 L346.70,226.32 L346.76,226.32 L346.82,226.33 L346.88,226.34 L346.94,226.34 L347.00,226.35 L347.06,226.37 L347.12,226.38 L347.18,226.39 L347.24,226.41 L347.30,226.42 L347.36,226.44 L347.42,226.46 L347.48,226.47 L347.54,226.49 L347.60,226.51 L347.66,226.53 L347.72,226.55 L347.78,226.57 L347.84,226.59 L347.90,226.61 L347.96,226.62 L348.02,226.64 L348.08,226.65 L348.14,226.67 L348.20,226.68 L348.26,226.69 L348.31,226.70 L348.37,226.70 L348.43,226.71 L348.49,226.71 L348.55,226.71 L348.61,226.71 L348.67,226.70 L348.73,226.69 L348.79,226.68 L348.85,226.67 L348.91,226.66 L348.97,226.64 L349.03,226.62 L349.09,226.60 L349.15,226.58 L349.21,226.56 L349.27,226.53 L349.33,226.50 L349.39,226.48 L349.45,226.45 L349.51,226.42 L349.57,226.39 L349.63,226.36 L349.69,226.33 L349.75,226.31 L349.81,226.28 L349.87,226.26 L349.93,226.23 L349.98,226.21 L350.04,226.19 L350.10,226.17 L350.16,226.16 L350.22,226.14 L350.28,226.13 L350.34,226.12 L350.40,226.12 L350.46,226.12 L350.52,226.12 L350.58,226.13 L350.64,226.13 L350.70,226.14 L350.76,226.16 L350.82,226.17 L350.88,226.19 L350.94,226.21 L351.00,226.23 L351.06,226.26 L351.12,226.29 L351.18,226.32 L351.24,226.35 L351.30,226.38 L351.36,226.41 L351.42,226.45 L351.48,226.48 L351.54,226.51 L351.60,226.54 L351.65,226.58 L351.71,226.61 L351.77,226.63 L351.83,226.66 L351.89,226.69 L351.95,226.71 L352.01,226.73 L352.07,226.75 L352.13,226.76 L352.19,226.78 L352.25,226.79 L352.31,226.80 L352.37,226.80 L352.43,226.80 L352.49,226.80 L352.55,226.80 L352.61,226.79 L352.67,226.78 L352.73,226.77 L352.79,226.75 L352.85,226.74 L352.91,226.72 L352.97,226.69 L353.03,226.67 L353.09,226.64 L353.15,226.61 L353.21,226.58 L353.27,226.55 L353.32,226.52 L353.38,226.48 L353.44,226.45 L353.50,226.41 L353.56,226.38 L353.62,226.35 L353.68,226.31 L353.74,226.28 L353.80,226.26 L353.86,226.23 L353.92,226.21 L353.98,226.19 L354.04,226.17 L354.10,226.16 L354.16,226.15 L354.22,226.14 L354.28,226.13 L354.34,226.13 L354.40,226.13 L354.46,226.13 L354.52,226.13 L354.58,226.14 L354.64,226.15 L354.70,226.16 L354.76,226.17 L354.82,226.18 L354.88,226.20 L354.94,226.22 L355.00,226.23 L355.05,226.25 L355.11,226.27 L355.17,226.29 L355.23,226.31 L355.29,226.33 L355.35,226.35 L355.41,226.37 L355.47,226.39 L355.53,226.41 L355.59,226.42 L355.65,226.43 L355.71,226.43 L355.77,226.44 L355.83,226.44 L355.89,226.45 L355.95,226.45 L356.01,226.45 L356.07,226.44 L356.13,226.44 L356.19,226.44 L356.25,226.44 L356.31,226.44 L356.37,226.45 L356.43,226.45 L356.49,226.46 L356.55,226.46 L356.61,226.46 L356.67,226.46 L356.72,226.46 L356.78,226.46 L356.84,226.46 L356.90,226.46 L356.96,226.46 L357.02,226.46 L357.08,226.46 L357.14,226.46 L357.20,226.46 L357.26,226.46 L357.32,226.46 L357.38,226.45 L357.44,226.45 L357.50,226.45 L357.56,226.44 L357.62,226.43 L357.68,226.42 L357.74,226.41 L357.80,226.39 L357.86,226.38 L357.92,226.36 L357.98,226.34 L358.04,226.31 L358.10,226.27 L358.16,226.22 L358.22,226.17 L358.28,226.12 L358.34,226.07 L358.39,226.01 L358.45,225.95 L358.51,225.90 L358.57,225.85 L358.63,225.80 L358.69,225.76 L358.75,225.71 L358.81,225.67 L358.87,225.63 L358.93,225.60 L358.99,225.56 L359.05,225.52 L359.11,225.48 L359.17,225.44 L359.23,225.41 L359.29,225.37 L359.35,225.34 L359.41,225.30 L359.47,225.27 L359.53,225.24 L359.59,225.22 L359.65,225.19 L359.71,225.18 L359.77,225.16 L359.83,225.15 L359.89,225.15 L359.95,225.15 L360.01,225.15 L360.06,225.17 L360.12,225.20 L360.18,225.23 L360.24,225.26 L360.30,225.30 L360.36,225.34 L360.42,225.41 L360.48,225.48 L360.54,225.56 L360.60,225.64 L360.66,225.72 L360.72,225.80 L360.78,225.87 L360.84,225.93 L360.90,225.99" fill="none" stroke="#2ca02c" stroke-width="2.4" stroke-linejoin="round" stroke-linecap="butt" />
<path d="M74.60,225.89 L75.08,225.85 L75.56,225.81 L76.03,225.76 L76.51,225.71 L76.99,225.67 L77.47,225.62 L77.95,225.57 L78.42,225.52 L78.90,225.46 L79.38,225.41 L79.86,225.35 L80.34,225.30 L80.81,225.24 L81.29,225.18 L81.77,225.11 L82.25,225.05 L82.73,224.98 L83.20,224.92 L83.68,224.85 L84.16,224.78 L84.64,224.70 L85.12,224.63 L85.59,224.55 L86.07,224.47 L86.55,224.39 L87.03,224.31 L87.51,224.22 L87.98,224.14 L88.46,224.05 L88.94,223.95 L89.42,223.86 L89.89,223.76 L90.37,223.66 L90.85,223.56 L91.33,223.46 L91.81,223.35 L92.28,223.24 L92.76,223.13 L93.24,223.02 L93.72,222.90 L94.20,222.78 L94.67,222.66 L95.15,222.53 L95.63,222.40 L96.11,222.27 L96.59,222.13 L97.06,222.00 L97.54,221.85 L98.02,221.71 L98.50,221.56 L98.98,221.41 L99.45,221.26 L99.93,221.10 L100.41,220.94 L100.89,220.77 L101.37,220.60 L101.84,220.43 L102.32,220.25 L102.80,220.07 L103.28,219.89 L103.76,219.70 L104.23,219.51 L104.71,219.31 L105.19,219.11 L105.67,218.90 L106.15,218.70 L106.62,218.48 L107.10,218.26 L107.58,218.04 L108.06,217.81 L108.54,217.58 L109.01,217.35 L109.49,217.11 L109.97,216.86 L110.45,216.61 L110.93,216.35 L111.40,216.09 L111.88,215.83 L112.36,215.56 L112.84,215.28 L113.32,215.00 L113.79,214.72 L114.27,214.42 L114.75,214.13 L115.23,213.82 L115.70,213.52 L116.18,213.20 L116.66,212.88 L117.14,212.56 L117.62,212.23 L118.09,211.89 L118.57,211.55 L119.05,211.20 L119.53,210.84 L120.01,210.48 L120.48,210.12 L120.96,209.74 L121.44,209.36 L121.92,208.98 L122.40,208.59 L122.87,208.19 L123.35,207.78 L123.83,207.37 L124.31,206.96 L124.79,206.53 L125.26,206.10 L125.74,205.66 L126.22,205.22 L126.70,204.77 L127.18,204.31 L127.65,203.84 L128.13,203.37 L128.61,202.89 L129.09,202.41 L129.57,201.91 L130.04,201.41 L130.52,200.91 L131.00,200.39 L131.48,199.87 L131.96,199.34 L132.43,198.80 L132.91,198.26 L133.39,197.71 L133.87,197.15 L134.35,196.59 L134.82,196.02 L135.30,195.44 L135.78,194.85 L136.26,194.26 L136.74,193.66 L137.21,193.05 L137.69,192.43 L138.17,191.81 L138.65,191.18 L139.13,190.54 L139.60,189.89 L140.08,189.24 L140.56,188.58 L141.04,187.91 L141.51,187.24 L141.99,186.55 L142.47,185.86 L142.95,185.17 L143.43,184.46 L143.90,183.75 L144.38,183.04 L144.86,182.31 L145.34,181.58 L145.82,180.84 L146.29,180.09 L146.77,179.34 L147.25,178.58 L147.73,177.81 L148.21,177.04 L148.68,176.26 L149.16,175.47 L149.64,174.68 L150.12,173.88 L150.60,173.07 L151.07,172.26 L151.55,171.44 L152.03,170.61 L152.51,169.78 L152.99,168.95 L153.46,168.10 L153.94,167.25 L154.42,166.40 L154.90,165.54 L155.38,164.67 L155.85,163.80 L156.33,162.92 L156.81,162.04 L157.29,161.15 L157.77,160.26 L158.24,159.37 L158.72,158.46 L159.20,157.56 L159.68,156.65 L160.16,155.73 L160.63,154.81 L161.11,153.89 L161.59,152.96 L162.07,152.03 L162.55,151.10 L163.02,150.16 L163.50,149.22 L163.98,148.28 L164.46,147.33 L164.94,146.38 L165.41,145.43 L165.89,144.47 L166.37,143.51 L166.85,142.56 L167.32,141.59 L167.80,140.63 L168.28,139.67 L168.76,138.70 L169.24,137.74 L169.71,136.77 L170.19,135.80 L170.67,134.83 L171.15,133.86 L171.63,132.89 L172.10,131.92 L172.58,130.95 L173.06,129.98 L173.54,129.02 L174.02,128.05 L174.49,127.08 L174.97,126.12 L175.45,125.16 L175.93,124.19 L176.41,123.23 L176.88,122.28 L177.36,121.32 L177.84,120.37 L178.32,119.42 L178.80,118.48 L179.27,117.53 L179.75,116.59 L180.23,115.66 L180.71,114.73 L181.19,113.80 L181.66,112.88 L182.14,111.96 L182.62,111.05 L183.10,110.14 L183.58,109.24 L184.05,108.34 L184.53,107.45 L185.01,106.57 L185.49,105.69 L185.97,104.82 L186.44,103.96 L186.92,103.10 L187.40,102.25 L187.88,101.41 L188.36,100.57 L188.83,99.75 L189.31,98.93 L189.79,98.12 L190.27,97.32 L190.75,96.52 L191.22,95.74 L191.70,94.97 L192.18,94.20 L192.66,93.45 L193.13,92.70 L193.61,91.97 L194.09,91.25 L194.57,90.53 L195.05,89.83 L195.52,89.14 L196.00,88.46 L196.48,87.79 L196.96,87.14 L197.44,86.49 L197.91,85.86 L198.39,85.24 L198.87,84.63 L199.35,84.04 L199.83,83.45 L200.30,82.88 L200.78,82.33 L201.26,81.78 L201.74,81.25 L202.22,80.74 L202.69,80.24 L203.17,79.75 L203.65,79.27 L204.13,78.81 L204.61,78.37 L205.08,77.94 L205.56,77.52 L206.04,77.12 L206.52,76.73 L207.00,76.36 L207.47,76.00 L207.95,75.66 L208.43,75.34 L208.91,75.03 L209.39,74.73 L209.86,74.45 L210.34,74.19 L210.82,73.94 L211.30,73.71 L211.78,73.50 L212.25,73.30 L212.73,73.11 L213.21,72.95 L213.69,72.79 L214.17,72.66 L214.64,72.54 L215.12,72.44 L215.60,72.35 L216.08,72.29 L216.56,72.23 L217.03,72.20 L217.51,72.18 L217.99,72.17 L218.47,72.19 L218.94,72.22 L219.42,72.26 L219.90,72.32 L220.38,72.40 L220.86,72.50 L221.33,72.61 L221.81,72.74 L222.29,72.88 L222.77,73.04 L223.25,73.22 L223.72,73.41 L224.20,73.62 L224.68,73.85 L225.16,74.09 L225.64,74.35 L226.11,74.62 L226.59,74.91 L227.07,75.21 L227.55,75.53 L228.03,75.87 L228.50,76.22 L228.98,76.58 L229.46,76.96 L229.94,77.36 L230.42,77.77 L230.89,78.19 L231.37,78.63 L231.85,79.09 L232.33,79.56 L232.81,80.04 L233.28,80.54 L233.76,81.05 L234.24,81.57 L234.72,82.11 L235.20,82.66 L235.67,83.22 L236.15,83.80 L236.63,84.39 L237.11,84.99 L237.59,85.61 L238.06,86.24 L238.54,86.88 L239.02,87.53 L239.50,88.19 L239.98,88.87 L240.45,89.55 L240.93,90.25 L241.41,90.96 L241.89,91.68 L242.37,92.41 L242.84,93.15 L243.32,93.90 L243.80,94.66 L244.28,95.43 L244.75,96.21 L245.23,97.00 L245.71,97.80 L246.19,98.60 L246.67,99.42 L247.14,100.24 L247.62,101.07 L248.10,101.91 L248.58,102.76 L249.06,103.61 L249.53,104.47 L250.01,105.34 L250.49,106.22 L250.97,107.10 L251.45,107.99 L251.92,108.88 L252.40,109.78 L252.88,110.69 L253.36,111.60 L253.84,112.51 L254.31,113.43 L254.79,114.36 L255.27,115.29 L255.75,116.22 L256.23,117.16 L256.70,118.10 L257.18,119.04 L257.66,119.99 L258.14,120.94 L258.62,121.90 L259.09,122.85 L259.57,123.81 L260.05,124.77 L260.53,125.73 L261.01,126.70 L261.48,127.66 L261.96,128.63 L262.44,129.60 L262.92,130.57 L263.40,131.53 L263.87,132.50 L264.35,133.47 L264.83,134.44 L265.31,135.41 L265.79,136.38 L266.26,137.35 L266.74,138.32 L267.22,139.28 L267.70,140.25 L268.18,141.21 L268.65,142.17 L269.13,143.13 L269.61,144.09 L270.09,145.05 L270.56,146.00 L271.04,146.95 L271.52,147.90 L272.00,148.84 L272.48,149.79 L272.95,150.72 L273.43,151.66 L273.91,152.59 L274.39,153.52 L274.87,154.45 L275.34,155.37 L275.82,156.28 L276.30,157.20 L276.78,158.10 L277.26,159.01 L277.73,159.91 L278.21,160.80 L278.69,161.69 L279.17,162.57 L279.65,163.45 L280.12,164.32 L280.60,165.19 L281.08,166.06 L281.56,166.91 L282.04,167.76 L282.51,168.61 L282.99,169.45 L283.47,170.28 L283.95,171.11 L284.43,171.93 L284.90,172.75 L285.38,173.56 L285.86,174.36 L286.34,175.16 L286.82,175.95 L287.29,176.73 L287.77,177.50 L288.25,178.27 L288.73,179.04 L289.21,179.79 L289.68,180.54 L290.16,181.28 L290.64,182.02 L291.12,182.75 L291.60,183.47 L292.07,184.18 L292.55,184.89 L293.03,185.59 L293.51,186.28 L293.99,186.96 L294.46,187.64 L294.94,188.31 L295.42,188.98 L295.90,189.63 L296.37,190.28 L296.85,190.92 L297.33,191.56 L297.81,192.18 L298.29,192.80 L298.76,193.41 L299.24,194.02 L299.72,194.61 L300.20,195.20 L300.68,195.79 L301.15,196.36 L301.63,196.93 L302.11,197.49 L302.59,198.04 L303.07,198.59 L303.54,199.13 L304.02,199.66 L304.50,200.18 L304.98,200.70 L305.46,201.21 L305.93,201.71 L306.41,202.21 L306.89,202.70 L307.37,203.18 L307.85,203.65 L308.32,204.12 L308.80,204.58 L309.28,205.04 L309.76,205.48 L310.24,205.93 L310.71,206.36 L311.19,206.79 L311.67,207.21 L312.15,207.62 L312.63,208.03 L313.10,208.43 L313.58,208.82 L314.06,209.21 L314.54,209.59 L315.02,209.97 L315.49,210.34 L315.97,210.70 L316.45,211.06 L316.93,211.41 L317.41,211.75 L317.88,212.09 L318.36,212.43 L318.84,212.75 L319.32,213.08 L319.80,213.39 L320.27,213.70 L320.75,214.01 L321.23,214.31 L321.71,214.60 L322.18,214.89 L322.66,215.17 L323.14,215.45 L323.62,215.72 L324.10,215.99 L324.57,216.25 L325.05,216.51 L325.53,216.76 L326.01,217.01 L326.49,217.25 L326.96,217.49 L327.44,217.72 L327.92,217.95 L328.40,218.18 L328.88,218.40 L329.35,218.61 L329.83,218.82 L330.31,219.03 L330.79,219.23 L331.27,219.43 L331.74,219.62 L332.22,219.81 L332.70,220.00 L333.18,220.18 L333.66,220.36 L334.13,220.53 L334.61,220.70 L335.09,220.87 L335.57,221.03 L336.05,221.19 L336.52,221.35 L337.00,221.50 L337.48,221.65 L337.96,221.80 L338.44,221.94 L338.91,222.08 L339.39,222.22 L339.87,222.35 L340.35,222.48 L340.83,222.61 L341.30,222.73 L341.78,222.85 L342.26,222.97 L342.74,223.09 L343.22,223.20 L343.69,223.31 L344.17,223.42 L344.65,223.52 L345.13,223.62 L345.61,223.72 L346.08,223.82 L346.56,223.92 L347.04,224.01 L347.52,224.10 L347.99,224.19 L348.47,224.27 L348.95,224.36 L349.43,224.44 L349.91,224.52 L350.38,224.60 L350.86,224.67 L351.34,224.75 L351.82,224.82 L352.30,224.89 L352.77,224.96 L353.25,225.02 L353.73,225.09 L354.21,225.15 L354.69,225.21 L355.16,225.27 L355.64,225.33 L356.12,225.39 L356.60,225.44 L357.08,225.50 L357.55,225.55 L358.03,225.60 L358.51,225.65 L358.99,225.70 L359.47,225.74 L359.94,225.79 L360.42,225.83 L360.90,225.87" fill="none" stroke="#808080" stroke-width="2.5" stroke-linejoin="round" stroke-linecap="butt" stroke-dasharray="7.7,3.3" stroke-dashoffset="2.6"/>
</g>
<g clip-path="url(#cb)">
<path d="M468.40,84.64 L468.67,84.60 L468.94,84.56 L469.20,84.52 L469.47,84.49 L469.74,84.46 L470.01,84.44 L470.28,84.42 L470.54,84.41 L470.81,84.40 L471.08,84.40 L471.35,84.40 L471.62,84.41 L471.88,84.42 L472.15,84.43 L472.42,84.45 L472.69,84.48 L472.96,84.51 L473.22,84.54 L473.49,84.58 L473.76,84.63 L474.03,84.67 L474.30,84.73 L474.56,84.78 L474.83,84.85 L475.10,84.91 L475.37,84.99 L475.64,85.06 L475.90,85.14 L476.17,85.23 L476.44,85.32 L476.71,85.41 L476.98,85.51 L477.24,85.62 L477.51,85.73 L477.78,85.84 L478.05,85.96 L478.32,86.08 L478.58,86.21 L478.85,86.34 L479.12,86.48 L479.39,86.62 L479.66,86.76 L479.92,86.91 L480.19,87.07 L480.46,87.23 L480.73,87.39 L481.00,87.56 L481.26,87.73 L481.53,87.91 L481.80,88.09 L482.07,88.27 L482.34,88.47 L482.60,88.66 L482.87,88.86 L483.14,89.06 L483.41,89.27 L483.68,89.48 L483.94,89.70 L484.21,89.92 L484.48,90.15 L484.75,90.38 L485.02,90.61 L485.28,90.85 L485.55,91.09 L485.82,91.34 L486.09,91.59 L486.36,91.85 L486.62,92.11 L486.89,92.37 L487.16,92.64 L487.43,92.91 L487.70,93.19 L487.96,93.47 L488.23,93.75 L488.50,94.04 L488.77,94.33 L489.04,94.63 L489.30,94.93 L489.57,95.24 L489.84,95.54 L490.11,95.86 L490.38,96.17 L490.64,96.50 L490.91,96.82 L491.18,97.15 L491.45,97.48 L491.72,97.82 L491.98,98.16 L492.25,98.50 L492.52,98.85 L492.79,99.20 L493.06,99.56 L493.32,99.91 L493.59,100.28 L493.86,100.64 L494.13,101.01 L494.40,101.39 L494.66,101.76 L494.93,102.14 L495.20,102.53 L495.47,102.92 L495.74,103.31 L496.00,103.70 L496.27,104.10 L496.54,104.50 L496.81,104.91 L497.08,105.32 L497.34,105.73 L497.61,106.14 L497.88,106.56 L498.15,106.98 L498.42,107.41 L498.68,107.84 L498.95,108.27 L499.22,108.70 L499.49,109.14 L499.76,109.58 L500.02,110.02 L500.29,110.47 L500.56,110.92 L500.83,111.37 L501.10,111.83 L501.36,112.29 L501.63,112.75 L501.90,113.21 L502.17,113.68 L502.44,114.15 L502.70,114.62 L502.97,115.10 L503.24,115.58 L503.51,116.06 L503.78,116.54 L504.04,117.03 L504.31,117.51 L504.58,118.01 L504.85,118.50 L505.12,119.00 L505.38,119.49 L505.65,119.99 L505.92,120.50 L506.19,121.00 L506.46,121.51 L506.72,122.02 L506.99,122.54 L507.26,123.05 L507.53,123.57 L507.80,124.09 L508.06,124.61 L508.33,125.13 L508.60,125.66 L508.87,126.19 L509.14,126.71 L509.40,127.25 L509.67,127.78 L509.94,128.32 L510.21,128.85 L510.48,129.39 L510.74,129.93 L511.01,130.47 L511.28,131.02 L511.55,131.57 L511.82,132.11 L512.08,132.66 L512.35,133.21 L512.62,133.76 L512.89,134.32 L513.16,134.87 L513.42,135.43 L513.69,135.99 L513.96,136.55 L514.23,137.11 L514.50,137.67 L514.76,138.23 L515.03,138.80 L515.30,139.36 L515.57,139.93 L515.84,140.50 L516.10,141.07 L516.37,141.64 L516.64,142.21 L516.91,142.78 L517.18,143.35 L517.44,143.93 L517.71,144.50 L517.98,145.08 L518.25,145.65 L518.52,146.23 L518.78,146.81 L519.05,147.39 L519.32,147.97 L519.59,148.54 L519.86,149.12 L520.12,149.70 L520.39,150.29 L520.66,150.87 L520.93,151.45 L521.20,152.03 L521.46,152.61 L521.73,153.20 L522.00,153.78 L522.27,154.36 L522.54,154.95 L522.80,155.53 L523.07,156.11 L523.34,156.70 L523.61,157.28 L523.88,157.86 L524.14,158.45 L524.41,159.03 L524.68,159.61 L524.95,160.20 L525.22,160.78 L525.48,161.36 L525.75,161.94 L526.02,162.53 L526.29,163.11 L526.56,163.69 L526.82,164.27 L527.09,164.85 L527.36,165.43 L527.63,166.01 L527.90,166.59 L528.16,167.17 L528.43,167.74 L528.70,168.32 L528.97,168.90 L529.24,169.47 L529.50,170.04 L529.77,170.62 L530.04,171.19 L530.31,171.76 L530.58,172.33 L530.84,172.90 L531.11,173.47 L531.38,174.04 L531.65,174.61 L531.92,175.17 L532.18,175.73 L532.45,176.30 L532.72,176.86 L532.99,177.42 L533.26,177.98 L533.52,178.54 L533.79,179.09 L534.06,179.65 L534.33,180.20 L534.60,180.75 L534.86,181.30 L535.13,181.85 L535.40,182.40 L535.67,182.94 L535.94,183.49 L536.20,184.03 L536.47,184.57 L536.74,185.11 L537.01,185.65 L537.28,186.18 L537.54,186.71 L537.81,187.24 L538.08,187.77 L538.35,188.30 L538.62,188.83 L538.88,189.35 L539.15,189.87 L539.42,190.39 L539.69,190.90 L539.96,191.42 L540.22,191.93 L540.49,192.44 L540.76,192.95 L541.03,193.45 L541.30,193.96 L541.56,194.46 L541.83,194.95 L542.10,195.45 L542.37,195.94 L542.64,196.43 L542.90,196.92 L543.17,197.41 L543.44,197.89 L543.71,198.37 L543.98,198.85 L544.24,199.32 L544.51,199.79 L544.78,200.26 L545.05,200.73 L545.32,201.19 L545.58,201.65 L545.85,202.11 L546.12,202.56 L546.39,203.02 L546.66,203.46 L546.92,203.91 L547.19,204.35 L547.46,204.79 L547.73,205.23 L548.00,205.66 L548.26,206.09 L548.53,206.52 L548.80,206.94 L549.07,207.36 L549.34,207.78 L549.60,208.20 L549.87,208.61 L550.14,209.01 L550.41,209.42 L550.68,209.82 L550.94,210.22 L551.21,210.61 L551.48,211.00 L551.75,211.39 L552.02,211.77 L552.28,212.15 L552.55,212.53 L552.82,212.90 L553.09,213.27 L553.36,213.63 L553.62,213.99 L553.89,214.35 L554.16,214.71 L554.43,215.06 L554.70,215.40 L554.96,215.75 L555.23,216.08 L555.50,216.42 L555.77,216.75 L556.04,217.08 L556.30,217.40 L556.57,217.72 L556.84,218.04 L557.11,218.35 L557.38,218.66 L557.64,218.96 L557.91,219.26 L558.18,219.56 L558.45,219.85 L558.72,220.13 L558.98,220.42 L559.25,220.70 L559.52,220.97 L559.79,221.24 L560.06,221.51 L560.32,221.77 L560.59,222.03 L560.86,222.29 L561.13,222.54 L561.40,222.78 L561.66,223.02 L561.93,223.26 L562.20,223.49 L562.47,223.72 L562.74,223.95 L563.00,224.17 L563.27,224.38 L563.54,224.59 L563.81,224.80 L564.08,225.00 L564.34,225.20 L564.61,225.39 L564.88,225.58 L565.15,225.77 L565.42,225.95 L565.68,226.12 L565.95,226.29 L566.22,226.46 L566.49,226.62 L566.76,226.78 L567.02,226.93 L567.29,227.08 L567.56,227.23 L567.83,227.37 L568.10,227.50 L568.36,227.63 L568.63,227.76 L568.90,227.88 L569.17,227.99 L569.44,228.11 L569.70,228.21 L569.97,228.32 L570.24,228.42 L570.51,228.51 L570.78,228.60 L571.04,228.68 L571.31,228.76 L571.58,228.84 L571.85,228.91 L572.12,228.97 L572.38,229.03 L572.65,229.09 L572.92,229.14 L573.19,229.19 L573.46,229.23 L573.72,229.27 L573.99,229.30 L574.26,229.33 L574.53,229.35 L574.80,229.37 L575.06,229.39 L575.33,229.39 L575.60,229.40 L575.87,229.40 L576.14,229.39 L576.40,229.39 L576.67,229.37 L576.94,229.35 L577.21,229.33 L577.48,229.30 L577.74,229.27 L578.01,229.23 L578.28,229.19 L578.55,229.14 L578.82,229.09 L579.08,229.03 L579.35,228.97 L579.62,228.91 L579.89,228.84 L580.16,228.76 L580.42,228.68 L580.69,228.60 L580.96,228.51 L581.23,228.42 L581.50,228.32 L581.76,228.21 L582.03,228.11 L582.30,227.99 L582.57,227.88 L582.84,227.76 L583.10,227.63 L583.37,227.50 L583.64,227.37 L583.91,227.23 L584.18,227.08 L584.44,226.93 L584.71,226.78 L584.98,226.62 L585.25,226.46 L585.52,226.29 L585.78,226.12 L586.05,225.95 L586.32,225.77 L586.59,225.58 L586.86,225.39 L587.12,225.20 L587.39,225.00 L587.66,224.80 L587.93,224.59 L588.20,224.38 L588.46,224.17 L588.73,223.95 L589.00,223.72 L589.27,223.49 L589.54,223.26 L589.80,223.02 L590.07,222.78 L590.34,222.54 L590.61,222.29 L590.88,222.03 L591.14,221.77 L591.41,221.51 L591.68,221.24 L591.95,220.97 L592.22,220.70 L592.48,220.42 L592.75,220.13 L593.02,219.85 L593.29,219.56 L593.56,219.26 L593.82,218.96 L594.09,218.66 L594.36,218.35 L594.63,218.04 L594.90,217.72 L595.16,217.40 L595.43,217.08 L595.70,216.75 L595.97,216.42 L596.24,216.08 L596.50,215.75 L596.77,215.40 L597.04,215.06 L597.31,214.71 L597.58,214.35 L597.84,213.99 L598.11,213.63 L598.38,213.27 L598.65,212.90 L598.92,212.53 L599.18,212.15 L599.45,211.77 L599.72,211.39 L599.99,211.00 L600.26,210.61 L600.52,210.22 L600.79,209.82 L601.06,209.42 L601.33,209.01 L601.60,208.61 L601.86,208.20 L602.13,207.78 L602.40,207.36 L602.67,206.94 L602.94,206.52 L603.20,206.09 L603.47,205.66 L603.74,205.23 L604.01,204.79 L604.28,204.35 L604.54,203.91 L604.81,203.46 L605.08,203.02 L605.35,202.56 L605.62,202.11 L605.88,201.65 L606.15,201.19 L606.42,200.73 L606.69,200.26 L606.96,199.79 L607.22,199.32 L607.49,198.85 L607.76,198.37 L608.03,197.89 L608.30,197.41 L608.56,196.92 L608.83,196.43 L609.10,195.94 L609.37,195.45 L609.64,194.95 L609.90,194.46 L610.17,193.96 L610.44,193.45 L610.71,192.95 L610.98,192.44 L611.24,191.93 L611.51,191.42 L611.78,190.90 L612.05,190.39 L612.32,189.87 L612.58,189.35 L612.85,188.83 L613.12,188.30 L613.39,187.77 L613.66,187.24 L613.92,186.71 L614.19,186.18 L614.46,185.65 L614.73,185.11 L615.00,184.57 L615.26,184.03 L615.53,183.49 L615.80,182.94 L616.07,182.40 L616.34,181.85 L616.60,181.30 L616.87,180.75 L617.14,180.20 L617.41,179.65 L617.68,179.09 L617.94,178.54 L618.21,177.98 L618.48,177.42 L618.75,176.86 L619.02,176.30 L619.28,175.73 L619.55,175.17 L619.82,174.61 L620.09,174.04 L620.36,173.47 L620.62,172.90 L620.89,172.33 L621.16,171.76 L621.43,171.19 L621.70,170.62 L621.96,170.04 L622.23,169.47 L622.50,168.90 L622.77,168.32 L623.04,167.74 L623.30,167.17 L623.57,166.59 L623.84,166.01 L624.11,165.43 L624.38,164.85 L624.64,164.27 L624.91,163.69 L625.18,163.11 L625.45,162.53 L625.72,161.94 L625.98,161.36 L626.25,160.78 L626.52,160.20 L626.79,159.61 L627.06,159.03 L627.32,158.45 L627.59,157.86 L627.86,157.28 L628.13,156.70 L628.40,156.11 L628.66,155.53 L628.93,154.95 L629.20,154.36 L629.47,153.78 L629.74,153.20 L630.00,152.61 L630.27,152.03 L630.54,151.45 L630.81,150.87 L631.08,150.29 L631.34,149.70 L631.61,149.12 L631.88,148.54 L632.15,147.97 L632.42,147.39 L632.68,146.81 L632.95,146.23 L633.22,145.65 L633.49,145.08 L633.76,144.50 L634.02,143.93 L634.29,143.35 L634.56,142.78 L634.83,142.21 L635.10,141.64 L635.36,141.07 L635.63,140.50 L635.90,139.93 L636.17,139.36 L636.44,138.80 L636.70,138.23 L636.97,137.67 L637.24,137.11 L637.51,136.55 L637.78,135.99 L638.04,135.43 L638.31,134.87 L638.58,134.32 L638.85,133.76 L639.12,133.21 L639.38,132.66 L639.65,132.11 L639.92,131.57 L640.19,131.02 L640.46,130.47 L640.72,129.93 L640.99,129.39 L641.26,128.85 L641.53,128.32 L641.80,127.78 L642.06,127.25 L642.33,126.71 L642.60,126.19 L642.87,125.66 L643.14,125.13 L643.40,124.61 L643.67,124.09 L643.94,123.57 L644.21,123.05 L644.48,122.54 L644.74,122.02 L645.01,121.51 L645.28,121.00 L645.55,120.50 L645.82,119.99 L646.08,119.49 L646.35,119.00 L646.62,118.50 L646.89,118.01 L647.16,117.51 L647.42,117.03 L647.69,116.54 L647.96,116.06 L648.23,115.58 L648.50,115.10 L648.76,114.62 L649.03,114.15 L649.30,113.68 L649.57,113.21 L649.84,112.75 L650.10,112.29 L650.37,111.83 L650.64,111.37 L650.91,110.92 L651.18,110.47 L651.44,110.02 L651.71,109.58 L651.98,109.14 L652.25,108.70 L652.52,108.27 L652.78,107.84 L653.05,107.41 L653.32,106.98 L653.59,106.56 L653.86,106.14 L654.12,105.73 L654.39,105.32 L654.66,104.91 L654.93,104.50 L655.20,104.10 L655.46,103.70 L655.73,103.31 L656.00,102.92 L656.27,102.53 L656.54,102.14 L656.80,101.76 L657.07,101.39 L657.34,101.01 L657.61,100.64 L657.88,100.28 L658.14,99.91 L658.41,99.56 L658.68,99.20 L658.95,98.85 L659.22,98.50 L659.48,98.16 L659.75,97.82 L660.02,97.48 L660.29,97.15 L660.56,96.82 L660.82,96.50 L661.09,96.17 L661.36,95.86 L661.63,95.54 L661.90,95.24 L662.16,94.93 L662.43,94.63 L662.70,94.33 L662.97,94.04 L663.24,93.75 L663.50,93.47 L663.77,93.19 L664.04,92.91 L664.31,92.64 L664.58,92.37 L664.84,92.11 L665.11,91.85 L665.38,91.59 L665.65,91.34 L665.92,91.09 L666.18,90.85 L666.45,90.61 L666.72,90.38 L666.99,90.15 L667.26,89.92 L667.52,89.70 L667.79,89.48 L668.06,89.27 L668.33,89.06 L668.60,88.86 L668.86,88.66 L669.13,88.47 L669.40,88.27 L669.67,88.09 L669.94,87.91 L670.20,87.73 L670.47,87.56 L670.74,87.39 L671.01,87.23 L671.28,87.07 L671.54,86.91 L671.81,86.76 L672.08,86.62 L672.35,86.48 L672.62,86.34 L672.88,86.21 L673.15,86.08 L673.42,85.96 L673.69,85.84 L673.96,85.73 L674.22,85.62 L674.49,85.51 L674.76,85.41 L675.03,85.32 L675.30,85.23 L675.56,85.14 L675.83,85.06 L676.10,84.99 L676.37,84.91 L676.64,84.85 L676.90,84.78 L677.17,84.73 L677.44,84.67 L677.71,84.63 L677.98,84.58 L678.24,84.54 L678.51,84.51 L678.78,84.48 L679.05,84.45 L679.32,84.43 L679.58,84.42 L679.85,84.41 L680.12,84.40 L680.39,84.40 L680.66,84.40 L680.92,84.41 L681.19,84.42 L681.46,84.44 L681.73,84.46 L682.00,84.49 L682.26,84.52 L682.53,84.56 L682.80,84.60" fill="none" stroke="#ff7f0e" stroke-width="2.8" stroke-linejoin="round" stroke-linecap="butt" />
<path d="M573.3,40.9 L573.3,228.2" fill="none" stroke="#808080" stroke-width="2.1" stroke-linejoin="round" stroke-linecap="butt" stroke-dasharray="7.2,4.0"/>
<path d="M576.0,40.9 L576.0,228.2" fill="none" stroke="#000" stroke-width="2.4" stroke-linejoin="round" stroke-linecap="butt" stroke-dasharray="7.2,4.0"/>
<path d="M468.40,228.82 L468.67,228.82 L468.94,228.82 L469.20,228.82 L469.47,228.82 L469.74,228.82 L470.01,228.82 L470.28,228.82 L470.54,228.82 L470.81,228.82 L471.08,228.82 L471.35,228.82 L471.62,228.83 L471.88,228.83 L472.15,228.83 L472.42,228.83 L472.69,228.83 L472.96,228.83 L473.22,228.83 L473.49,228.83 L473.76,228.83 L474.03,228.97 L474.30,228.97 L474.56,228.97 L474.83,228.97 L475.10,228.97 L475.37,228.97 L475.64,228.97 L475.90,228.97 L476.17,228.97 L476.44,228.97 L476.71,228.97 L476.98,228.97 L477.24,228.97 L477.51,228.97 L477.78,228.97 L478.05,228.97 L478.32,228.97 L478.58,228.97 L478.85,228.97 L479.12,228.97 L479.39,228.97 L479.66,228.97 L479.92,228.97 L480.19,228.97 L480.46,228.97 L480.73,228.97 L481.00,228.97 L481.26,228.97 L481.53,228.97 L481.80,228.97 L482.07,228.97 L482.34,228.97 L482.60,228.97 L482.87,228.97 L483.14,228.97 L483.41,228.97 L483.68,228.97 L483.94,228.97 L484.21,228.96 L484.48,228.95 L484.75,228.93 L485.02,228.89 L485.28,228.85 L485.55,228.79 L485.82,228.72 L486.09,228.65 L486.36,228.56 L486.62,228.47 L486.89,228.37 L487.16,228.27 L487.43,228.16 L487.70,228.04 L487.96,227.92 L488.23,227.80 L488.50,227.67 L488.77,227.54 L489.04,227.41 L489.30,227.28 L489.57,227.15 L489.84,227.01 L490.11,226.88 L490.38,226.75 L490.64,226.62 L490.91,226.50 L491.18,226.37 L491.45,226.25 L491.72,226.14 L491.98,226.03 L492.25,225.93 L492.52,225.83 L492.79,225.74 L493.06,225.66 L493.32,225.59 L493.59,225.53 L493.86,225.47 L494.13,225.43 L494.40,225.40 L494.66,225.37 L494.93,225.34 L495.20,225.31 L495.47,225.29 L495.74,225.27 L496.00,225.25 L496.27,225.23 L496.54,225.21 L496.81,225.19 L497.08,225.17 L497.34,225.16 L497.61,225.14 L497.88,225.13 L498.15,225.12 L498.42,225.10 L498.68,225.09 L498.95,225.08 L499.22,225.06 L499.49,225.05 L499.76,225.04 L500.02,225.03 L500.29,225.01 L500.56,225.00 L500.83,224.99 L501.10,224.97 L501.36,224.96 L501.63,224.94 L501.90,224.93 L502.17,224.91 L502.44,224.89 L502.70,224.87 L502.97,224.85 L503.24,224.83 L503.51,224.81 L503.78,224.78 L504.04,224.76 L504.31,224.73 L504.58,224.70 L504.85,224.66 L505.12,224.60 L505.38,224.54 L505.65,224.47 L505.92,224.39 L506.19,224.30 L506.46,224.21 L506.72,224.12 L506.99,224.02 L507.26,223.92 L507.53,223.81 L507.80,223.71 L508.06,223.61 L508.33,223.51 L508.60,223.42 L508.87,223.32 L509.14,223.24 L509.40,223.16 L509.67,223.09 L509.94,223.03 L510.21,222.98 L510.48,222.94 L510.74,222.92 L511.01,222.91 L511.28,222.91 L511.55,222.95 L511.82,223.00 L512.08,223.08 L512.35,223.18 L512.62,223.30 L512.89,223.44 L513.16,223.58 L513.42,223.74 L513.69,223.91 L513.96,224.08 L514.23,224.26 L514.50,224.44 L514.76,224.62 L515.03,224.79 L515.30,224.96 L515.57,225.13 L515.84,225.28 L516.10,225.43 L516.37,225.56 L516.64,225.67 L516.91,225.80 L517.18,225.93 L517.44,226.06 L517.71,226.19 L517.98,226.33 L518.25,226.46 L518.52,226.58 L518.78,226.70 L519.05,226.81 L519.32,226.90 L519.59,226.98 L519.86,227.04 L520.12,227.08 L520.39,227.11 L520.66,227.10 L520.93,227.08 L521.20,227.03 L521.46,226.97 L521.73,226.89 L522.00,226.79 L522.27,226.68 L522.54,226.56 L522.80,226.42 L523.07,226.28 L523.34,226.13 L523.61,225.97 L523.88,225.80 L524.14,225.64 L524.41,225.47 L524.68,225.30 L524.95,225.13 L525.22,224.96 L525.48,224.78 L525.75,224.58 L526.02,224.38 L526.29,224.16 L526.56,223.93 L526.82,223.68 L527.09,223.42 L527.36,223.15 L527.63,222.86 L527.90,222.55 L528.16,222.23 L528.43,221.89 L528.70,221.54 L528.97,221.17 L529.24,220.78 L529.50,220.34 L529.77,219.82 L530.04,219.23 L530.31,218.56 L530.58,217.83 L530.84,217.05 L531.11,216.22 L531.38,215.37 L531.65,214.48 L531.92,213.59 L532.18,212.68 L532.45,211.78 L532.72,210.89 L532.99,210.01 L533.26,209.17 L533.52,208.37 L533.79,207.61 L534.06,206.90 L534.33,206.17 L534.60,205.39 L534.86,204.59 L535.13,203.76 L535.40,202.93 L535.67,202.11 L535.94,201.30 L536.20,200.53 L536.47,199.79 L536.74,199.12 L537.01,198.51 L537.28,197.98 L537.54,197.54 L537.81,197.21 L538.08,196.99 L538.35,196.91 L538.62,196.93 L538.88,197.00 L539.15,197.13 L539.42,197.30 L539.69,197.51 L539.96,197.76 L540.22,198.05 L540.49,198.37 L540.76,198.71 L541.03,199.08 L541.30,199.47 L541.56,199.87 L541.83,200.29 L542.10,200.71 L542.37,201.14 L542.64,201.57 L542.90,201.99 L543.17,202.42 L543.44,202.91 L543.71,203.44 L543.98,204.01 L544.24,204.62 L544.51,205.27 L544.78,205.94 L545.05,206.64 L545.32,207.35 L545.58,208.08 L545.85,208.82 L546.12,209.56 L546.39,210.30 L546.66,211.04 L546.92,211.76 L547.19,212.50 L547.46,213.28 L547.73,214.10 L548.00,214.94 L548.26,215.80 L548.53,216.67 L548.80,217.53 L549.07,218.37 L549.34,219.19 L549.60,219.97 L549.87,220.70 L550.14,221.37 L550.41,221.97 L550.68,222.52 L550.94,223.08 L551.21,223.65 L551.48,224.22 L551.75,224.76 L552.02,225.27 L552.28,225.73 L552.55,226.14 L552.82,226.47 L553.09,226.72 L553.36,226.87 L553.62,226.91 L553.89,226.85 L554.16,226.73 L554.43,226.54 L554.70,226.29 L554.96,226.00 L555.23,225.67 L555.50,225.31 L555.77,224.92 L556.04,224.51 L556.30,223.98 L556.57,223.29 L556.84,222.46 L557.11,221.51 L557.38,220.44 L557.64,219.27 L557.91,218.00 L558.18,216.57 L558.45,214.78 L558.72,212.68 L558.98,210.31 L559.25,207.72 L559.52,204.96 L559.79,202.07 L560.06,199.10 L560.32,196.11 L560.59,193.14 L560.86,190.23 L561.13,187.30 L561.40,184.21 L561.66,181.02 L561.93,177.73 L562.20,174.40 L562.47,171.06 L562.74,167.73 L563.00,164.45 L563.27,161.25 L563.54,158.15 L563.81,155.06 L564.08,151.97 L564.34,148.91 L564.61,145.87 L564.88,142.86 L565.15,139.89 L565.42,136.97 L565.68,134.11 L565.95,131.31 L566.22,128.58 L566.49,125.90 L566.76,123.28 L567.02,120.70 L567.29,118.16 L567.56,115.65 L567.83,113.17 L568.10,110.72 L568.36,108.28 L568.63,105.85 L568.90,103.43 L569.17,101.01 L569.44,98.58 L569.70,96.14 L569.97,93.70 L570.24,91.28 L570.51,88.90 L570.78,86.57 L571.04,84.31 L571.31,82.14 L571.58,80.04 L571.85,77.97 L572.12,75.92 L572.38,73.90 L572.65,71.92 L572.92,69.98 L573.19,68.10 L573.46,66.28 L573.72,64.53 L573.99,62.86 L574.26,61.26 L574.53,59.76 L574.80,58.26 L575.06,56.77 L575.33,55.31 L575.60,53.93 L575.87,52.66 L576.14,51.54 L576.40,50.60 L576.67,49.88 L576.94,49.28 L577.21,48.71 L577.48,48.19 L577.74,47.76 L578.01,47.46 L578.28,47.31 L578.55,47.33 L578.82,47.51 L579.08,47.82 L579.35,48.23 L579.62,48.73 L579.89,49.30 L580.16,49.94 L580.42,51.01 L580.69,52.51 L580.96,54.31 L581.23,56.31 L581.50,58.38 L581.76,60.40 L582.03,62.37 L582.30,64.39 L582.57,66.49 L582.84,68.68 L583.10,70.99 L583.37,73.44 L583.64,76.05 L583.91,78.84 L584.18,81.85 L584.44,85.34 L584.71,89.38 L584.98,93.74 L585.25,98.21 L585.52,102.65 L585.78,107.27 L586.05,112.04 L586.32,116.88 L586.59,121.73 L586.86,126.52 L587.12,131.17 L587.39,135.85 L587.66,140.58 L587.93,145.28 L588.20,149.85 L588.46,154.21 L588.73,158.27 L589.00,162.00 L589.27,165.57 L589.54,169.01 L589.80,172.33 L590.07,175.52 L590.34,178.59 L590.61,181.53 L590.88,184.36 L591.14,187.07 L591.41,189.65 L591.68,192.19 L591.95,194.81 L592.22,197.46 L592.48,200.11 L592.75,202.70 L593.02,205.20 L593.29,207.57 L593.56,209.75 L593.82,211.71 L594.09,213.41 L594.36,214.80 L594.63,215.83 L594.90,216.47 L595.16,216.94 L595.43,217.38 L595.70,217.77 L595.97,218.12 L596.24,218.40 L596.50,218.62 L596.77,218.75 L597.04,218.81 L597.31,218.77 L597.58,218.68 L597.84,218.52 L598.11,218.30 L598.38,218.04 L598.65,217.74 L598.92,217.41 L599.18,217.06 L599.45,216.69 L599.72,216.30 L599.99,215.92 L600.26,215.53 L600.52,215.16 L600.79,214.81 L601.06,214.48 L601.33,214.13 L601.60,213.76 L601.86,213.37 L602.13,212.96 L602.40,212.54 L602.67,212.12 L602.94,211.69 L603.20,211.27 L603.47,210.85 L603.74,210.45 L604.01,210.06 L604.28,209.69 L604.54,209.35 L604.81,209.04 L605.08,208.75 L605.35,208.51 L605.62,208.29 L605.88,208.07 L606.15,207.84 L606.42,207.62 L606.69,207.40 L606.96,207.19 L607.22,206.99 L607.49,206.79 L607.76,206.61 L608.03,206.43 L608.30,206.28 L608.56,206.13 L608.83,206.01 L609.10,205.90 L609.37,205.82 L609.64,205.76 L609.90,205.72 L610.17,205.71 L610.44,205.72 L610.71,205.75 L610.98,205.79 L611.24,205.86 L611.51,205.94 L611.78,206.03 L612.05,206.14 L612.32,206.26 L612.58,206.40 L612.85,206.54 L613.12,206.69 L613.39,206.85 L613.66,207.02 L613.92,207.20 L614.19,207.38 L614.46,207.56 L614.73,207.75 L615.00,207.94 L615.26,208.16 L615.53,208.43 L615.80,208.74 L616.07,209.08 L616.34,209.46 L616.60,209.87 L616.87,210.30 L617.14,210.74 L617.41,211.21 L617.68,211.68 L617.94,212.16 L618.21,212.64 L618.48,213.12 L618.75,213.59 L619.02,214.05 L619.28,214.50 L619.55,214.94 L619.82,215.40 L620.09,215.87 L620.36,216.36 L620.62,216.86 L620.89,217.36 L621.16,217.86 L621.43,218.37 L621.70,218.87 L621.96,219.36 L622.23,219.83 L622.50,220.29 L622.77,220.73 L623.04,221.15 L623.30,221.53 L623.57,221.89 L623.84,222.21 L624.11,222.53 L624.38,222.84 L624.64,223.14 L624.91,223.44 L625.18,223.72 L625.45,223.99 L625.72,224.25 L625.98,224.48 L626.25,224.70 L626.52,224.90 L626.79,225.07 L627.06,225.22 L627.32,225.34 L627.59,225.45 L627.86,225.55 L628.13,225.65 L628.40,225.75 L628.66,225.85 L628.93,225.94 L629.20,226.03 L629.47,226.11 L629.74,226.20 L630.00,226.27 L630.27,226.35 L630.54,226.42 L630.81,226.49 L631.08,226.56 L631.34,226.63 L631.61,226.69 L631.88,226.75 L632.15,226.81 L632.42,226.86 L632.68,226.92 L632.95,226.97 L633.22,227.02 L633.49,227.06 L633.76,227.11 L634.02,227.15 L634.29,227.19 L634.56,227.23 L634.83,227.27 L635.10,227.30 L635.36,227.34 L635.63,227.37 L635.90,227.40 L636.17,227.43 L636.44,227.46 L636.70,227.49 L636.97,227.52 L637.24,227.55 L637.51,227.58 L637.78,227.60 L638.04,227.63 L638.31,227.66 L638.58,227.68 L638.85,227.71 L639.12,227.73 L639.38,227.76 L639.65,227.78 L639.92,227.81 L640.19,227.83 L640.46,227.86 L640.72,227.88 L640.99,227.90 L641.26,227.92 L641.53,227.94 L641.80,227.97 L642.06,227.99 L642.33,228.01 L642.60,228.03 L642.87,228.05 L643.14,228.07 L643.40,228.08 L643.67,228.10 L643.94,228.12 L644.21,228.14 L644.48,228.15 L644.74,228.17 L645.01,228.19 L645.28,228.20 L645.55,228.22 L645.82,228.23 L646.08,228.24 L646.35,228.26 L646.62,228.27 L646.89,228.28 L647.16,228.30 L647.42,228.31 L647.69,228.32 L647.96,228.33 L648.23,228.34 L648.50,228.35 L648.76,228.36 L649.03,228.37 L649.30,228.38 L649.57,228.38 L649.84,228.39 L650.10,228.40 L650.37,228.41 L650.64,228.41 L650.91,228.42 L651.18,228.42 L651.44,228.43 L651.71,228.44 L651.98,228.44 L652.25,228.45 L652.52,228.45 L652.78,228.46 L653.05,228.46 L653.32,228.47 L653.59,228.48 L653.86,228.48 L654.12,228.49 L654.39,228.49 L654.66,228.50 L654.93,228.50 L655.20,228.51 L655.46,228.51 L655.73,228.52 L656.00,228.52 L656.27,228.53 L656.54,228.54 L656.80,228.54 L657.07,228.55 L657.34,228.55 L657.61,228.56 L657.88,228.56 L658.14,228.57 L658.41,228.57 L658.68,228.58 L658.95,228.58 L659.22,228.58 L659.48,228.59 L659.75,228.59 L660.02,228.60 L660.29,228.60 L660.56,228.61 L660.82,228.61 L661.09,228.62 L661.36,228.62 L661.63,228.63 L661.90,228.63 L662.16,228.63 L662.43,228.64 L662.70,228.64 L662.97,228.65 L663.24,228.65 L663.50,228.65 L663.77,228.66 L664.04,228.66 L664.31,228.67 L664.58,228.67 L664.84,228.67 L665.11,228.68 L665.38,228.68 L665.65,228.68 L665.92,228.69 L666.18,228.69 L666.45,228.70 L666.72,228.70 L666.99,228.70 L667.26,228.71 L667.52,228.71 L667.79,228.71 L668.06,228.72 L668.33,228.72 L668.60,228.72 L668.86,228.72 L669.13,228.73 L669.40,228.73 L669.67,228.73 L669.94,228.74 L670.20,228.74 L670.47,228.74 L670.74,228.74 L671.01,228.75 L671.28,228.75 L671.54,228.75 L671.81,228.75 L672.08,228.76 L672.35,228.76 L672.62,228.76 L672.88,228.76 L673.15,228.77 L673.42,228.77 L673.69,228.77 L673.96,228.77 L674.22,228.77 L674.49,228.78 L674.76,228.78 L675.03,228.78 L675.30,228.78 L675.56,228.78 L675.83,228.78 L676.10,228.79 L676.37,228.79 L676.64,228.79 L676.90,228.79 L677.17,228.79 L677.44,228.79 L677.71,228.79 L677.98,228.80 L678.24,228.80 L678.51,228.80 L678.78,228.80 L679.05,228.80 L679.32,228.80 L679.58,228.80 L679.85,228.80 L680.12,228.80 L680.39,228.80 L680.66,228.80 L680.92,228.80 L681.19,228.81 L681.46,228.81 L681.73,228.81 L682.00,228.81 L682.26,228.81 L682.53,228.81 L682.80,228.81" fill="none" stroke="#2ca02c" stroke-width="2.7" stroke-linejoin="round" stroke-linecap="butt" />
</g>
<g clip-path="url(#cc)">
<path d="M74.44,381.98 L74.82,392.76 L75.21,405.75 L75.59,419.62 L75.97,432.93 L76.35,444.32 L76.73,452.62 L77.11,456.98 L77.50,456.95 L77.88,452.53 L78.26,444.17 L78.64,432.74 L79.02,419.41 L79.41,405.55 L79.79,392.58 L80.17,381.84 L80.55,374.43 L80.93,371.12 L81.31,372.23 L81.70,377.67 L82.08,386.86 L82.46,398.87 L82.84,412.46 L83.22,426.23 L83.60,438.77 L83.99,448.80 L84.37,455.27 L84.75,457.52 L85.13,455.33 L85.51,448.92 L85.89,438.94 L86.28,426.43 L86.66,412.67 L87.04,399.06 L87.42,387.02 L87.80,377.78 L88.18,372.28 L88.57,371.10 L88.95,374.35 L89.33,381.70 L89.71,392.40 L90.09,405.34 L90.48,419.20 L90.86,432.55 L91.24,444.02 L91.62,452.43 L92.00,456.91 L92.38,457.01 L92.77,452.72 L93.15,444.47 L93.53,433.12 L93.91,419.82 L94.29,405.96 L94.67,392.95 L95.06,382.12 L95.44,374.60 L95.82,371.15 L96.20,372.13 L96.58,377.44 L96.96,386.54 L97.35,398.48 L97.73,412.04 L98.11,425.83 L98.49,438.43 L98.87,448.54 L99.26,455.13 L99.64,457.52 L100.02,455.46 L100.40,449.17 L100.78,439.29 L101.16,426.83 L101.55,413.08 L101.93,399.45 L102.31,387.35 L102.69,378.00 L103.07,372.39 L103.45,371.07 L103.84,374.19 L104.22,381.43 L104.60,392.04 L104.98,404.94 L105.36,418.79 L105.74,432.17 L106.13,443.71 L106.51,452.23 L106.89,456.84 L107.27,457.08 L107.65,452.91 L108.04,444.77 L108.42,433.49 L108.80,420.24 L109.18,406.37 L109.56,393.31 L109.94,382.40 L110.33,374.77 L110.71,371.19 L111.09,372.04 L111.47,377.23 L111.85,386.22 L112.23,398.09 L112.62,411.62 L113.00,425.42 L113.38,438.08 L113.76,448.29 L114.14,454.99 L114.52,457.51 L114.91,455.59 L115.29,449.41 L115.67,439.63 L116.05,427.23 L116.43,413.50 L116.81,399.85 L117.20,387.68 L117.58,378.23 L117.96,372.49 L118.34,371.04 L118.72,374.04 L119.11,381.16 L119.49,391.68 L119.87,404.53 L120.25,418.37 L120.63,431.79 L121.01,443.41 L121.40,452.03 L121.78,456.77 L122.16,457.13 L122.54,453.09 L122.92,445.06 L123.30,433.87 L123.69,420.65 L124.07,406.78 L124.45,393.68 L124.83,382.69 L125.21,374.94 L125.59,371.24 L125.98,371.95 L126.36,377.01 L126.74,385.90 L127.12,397.70 L127.50,411.20 L127.89,425.02 L128.27,437.73 L128.65,448.03 L129.03,454.85 L129.41,457.50 L129.79,455.71 L130.18,449.66 L130.56,439.96 L130.94,427.63 L131.32,413.92 L131.70,400.24 L132.08,388.01 L132.47,378.47 L132.85,372.61 L133.23,371.02 L133.61,373.88 L133.99,380.89 L134.37,391.33 L134.76,404.12 L135.14,417.96 L135.52,431.41 L135.90,443.10 L136.28,451.82 L136.67,456.69 L137.05,457.19 L137.43,453.28 L137.81,445.36 L138.19,434.24 L138.57,421.07 L138.96,407.19 L139.34,394.05 L139.72,382.97 L140.10,375.12 L140.48,371.28 L140.86,371.86 L141.25,376.80 L141.63,385.59 L142.01,397.32 L142.39,410.79 L142.77,424.62 L143.15,437.38 L143.54,447.76 L143.92,454.70 L144.30,457.49 L144.68,455.83 L145.06,449.89 L145.44,440.30 L145.83,428.03 L146.21,414.34 L146.59,400.64 L146.97,388.34 L147.35,378.70 L147.74,372.72 L148.12,371.01 L148.50,373.73 L148.88,380.63 L149.26,390.98 L149.64,403.72 L150.03,417.54 L150.41,431.02 L150.79,442.78 L151.17,451.61 L151.55,456.60 L151.93,457.24 L152.32,453.46 L152.70,445.65 L153.08,434.61 L153.46,421.48 L153.84,407.61 L154.22,394.42 L154.61,383.27 L154.99,375.30 L155.37,371.33 L155.75,371.78 L156.13,376.59 L156.52,385.27 L156.90,396.93 L157.28,410.37 L157.66,424.21 L158.04,437.02 L158.42,447.50 L158.81,454.55 L159.19,457.47 L159.57,455.94 L159.95,450.13 L160.33,440.63 L160.71,428.42 L161.10,414.76 L161.48,401.04 L161.86,388.68 L162.24,378.94 L162.62,372.84 L163.00,370.99 L163.39,373.59 L163.77,380.37 L164.15,390.62 L164.53,403.31 L164.91,417.12 L165.30,430.64 L165.68,442.47 L166.06,451.40 L166.44,456.51 L166.82,457.28 L167.20,453.63 L167.59,445.93 L167.97,434.98 L168.35,421.89 L168.73,408.02 L169.11,394.79 L169.49,383.56 L169.88,375.48 L170.26,371.39 L170.64,371.70 L171.02,376.39 L171.40,384.96 L171.78,396.55 L172.17,409.96 L172.55,423.80 L172.93,436.67 L173.31,447.23 L173.69,454.40 L174.07,457.45 L174.46,456.05 L174.84,450.36 L175.22,440.96 L175.60,428.82 L175.98,415.17 L176.37,401.44 L176.75,389.01 L177.13,379.19 L177.51,372.96 L177.89,370.98 L178.27,373.45 L178.66,380.11 L179.04,390.28 L179.42,402.91 L179.80,416.70 L180.18,430.25 L180.56,442.15 L180.95,451.18 L181.33,456.42 L181.71,457.33 L182.09,453.80 L182.47,446.21 L182.85,435.34 L183.24,422.30 L183.62,408.43 L184.00,395.16 L184.38,383.85 L184.76,375.67 L185.15,371.45 L185.53,371.63 L185.91,376.19 L186.29,384.66 L186.67,396.17 L187.05,409.54 L187.44,423.39 L187.82,436.31 L188.20,446.96 L188.58,454.24 L188.96,457.42 L189.34,456.16 L189.73,450.59 L190.11,441.29 L190.49,429.21 L190.87,415.59 L191.25,401.84 L191.63,389.36 L192.02,379.43 L192.40,373.09 L192.78,370.98 L193.16,373.31 L193.54,379.85 L193.93,389.93 L194.31,402.50 L194.69,416.29 L195.07,429.86 L195.45,441.83 L195.83,450.96 L196.22,456.33 L196.60,457.36 L196.98,453.97 L197.36,446.49 L197.74,435.71 L198.12,422.71 L198.51,408.85 L198.89,395.54 L199.27,384.15 L199.65,375.86 L200.03,371.51 L200.41,371.56 L200.80,375.99 L201.18,384.35 L201.56,395.79 L201.94,409.12 L202.32,422.98 L202.70,435.95 L203.09,446.68 L203.47,454.08 L203.85,457.39 L204.23,456.26 L204.61,450.82 L205.00,441.61 L205.38,429.60 L205.76,416.01 L206.14,402.24 L206.52,389.70 L206.90,379.68 L207.29,373.22 L207.67,370.98 L208.05,373.18 L208.43,379.60 L208.81,389.58 L209.19,402.10 L209.58,415.87 L209.96,429.47 L210.34,441.51 L210.72,450.74 L211.10,456.23 L211.48,457.40 L211.87,454.13 L212.25,446.77 L212.63,436.07 L213.01,423.12 L213.39,409.26 L213.78,395.92 L214.16,384.46 L214.54,376.06 L214.92,371.58 L215.30,371.49 L215.68,375.80 L216.07,384.05 L216.45,395.41 L216.83,408.71 L217.21,422.57 L217.59,435.58 L217.97,446.40 L218.36,453.91 L218.74,457.35 L219.12,456.36 L219.50,451.04 L219.88,441.94 L220.26,429.99 L220.65,416.43 L221.03,402.64 L221.41,390.04 L221.79,379.94 L222.17,373.36 L222.56,370.98 L222.94,373.05 L223.32,379.35 L223.70,389.24 L224.08,401.70 L224.46,415.45 L224.85,429.08 L225.23,441.18 L225.61,450.51 L225.99,456.12 L226.37,457.43 L226.75,454.29 L227.14,447.05 L227.52,436.43 L227.90,423.53 L228.28,409.68 L228.66,396.30 L229.04,384.76 L229.43,376.25 L229.81,371.65 L230.19,371.43 L230.57,375.61 L230.95,383.76 L231.33,395.04 L231.72,408.30 L232.10,422.16 L232.48,435.22 L232.86,446.12 L233.24,453.75 L233.63,457.31 L234.01,456.45 L234.39,451.26 L234.77,442.26 L235.15,430.38 L235.53,416.84 L235.92,403.04 L236.30,390.39 L236.68,380.19 L237.06,373.50 L237.44,370.99 L237.82,372.92 L238.21,379.11 L238.59,388.90 L238.97,401.30 L239.35,415.03 L239.73,428.68 L240.11,440.85 L240.50,450.29 L240.88,456.02 L241.26,457.45 L241.64,454.45 L242.02,447.32 L242.41,436.79 L242.79,423.94 L243.17,410.09 L243.55,396.68 L243.93,385.07 L244.31,376.46 L244.70,371.73 L245.08,371.37 L245.46,375.42 L245.84,383.46 L246.22,394.66 L246.60,407.88 L246.99,421.75 L247.37,434.85 L247.75,445.84 L248.13,453.57 L248.51,457.27 L248.89,456.54 L249.28,451.47 L249.66,442.57 L250.04,430.77 L250.42,417.26 L250.80,403.45 L251.19,390.74 L251.57,380.45 L251.95,373.64 L252.33,371.00 L252.71,372.80 L253.09,378.86 L253.48,388.56 L253.86,400.90 L254.24,414.62 L254.62,428.29 L255.00,440.52 L255.38,450.05 L255.77,455.90 L256.15,457.48 L256.53,454.60 L256.91,447.59 L257.29,437.14 L257.67,424.34 L258.06,410.51 L258.44,397.06 L258.82,385.38 L259.20,376.66 L259.58,371.81 L259.96,371.32 L260.35,375.24 L260.73,383.17 L261.11,394.29 L261.49,407.47 L261.87,421.34 L262.26,434.48 L262.64,445.55 L263.02,453.40 L263.40,457.22 L263.78,456.63 L264.16,451.68 L264.55,442.89 L264.93,431.15 L265.31,417.68 L265.69,403.85 L266.07,391.09 L266.45,380.72 L266.84,373.78 L267.22,371.01 L267.60,372.68 L267.98,378.62 L268.36,388.23 L268.74,400.51 L269.13,414.20 L269.51,427.89 L269.89,440.19 L270.27,449.82 L270.65,455.79 L271.04,457.49 L271.42,454.75 L271.80,447.85 L272.18,437.49 L272.56,424.75 L272.94,410.93 L273.33,397.44 L273.71,385.69 L274.09,376.87 L274.47,371.89 L274.85,371.27 L275.23,375.06 L275.62,382.88 L276.00,393.92 L276.38,407.06 L276.76,420.93 L277.14,434.11 L277.52,445.26 L277.91,453.22 L278.29,457.17 L278.67,456.71 L279.05,451.89 L279.43,443.20 L279.82,431.54 L280.20,418.09 L280.58,404.26 L280.96,391.45 L281.34,380.98 L281.72,373.93 L282.11,371.03 L282.49,372.57 L282.87,378.39 L283.25,387.90 L283.63,400.11 L284.01,413.78 L284.40,427.50 L284.78,439.85 L285.16,449.58 L285.54,455.67 L285.92,457.51 L286.30,454.90 L286.69,448.11 L287.07,437.85 L287.45,425.16 L287.83,411.34 L288.21,397.83 L288.59,386.01 L288.98,377.08 L289.36,371.98 L289.74,371.22 L290.12,374.88 L290.50,382.59 L290.89,393.55 L291.27,406.64 L291.65,420.52 L292.03,433.74 L292.41,444.97 L292.79,453.03 L293.18,457.11 L293.56,456.79 L293.94,452.10 L294.32,443.51 L294.70,431.92 L295.08,418.51 L295.47,404.66 L295.85,391.80 L296.23,381.25 L296.61,374.09 L296.99,371.05 L297.37,372.46 L297.76,378.16 L298.14,387.57 L298.52,399.72 L298.90,413.36 L299.28,427.10 L299.67,439.51 L300.05,449.33 L300.43,455.55 L300.81,457.52 L301.19,455.04 L301.57,448.37 L301.96,438.20 L302.34,425.56 L302.72,411.76 L303.10,398.22 L303.48,386.32 L303.86,377.30 L304.25,372.07 L304.63,371.18 L305.01,374.71 L305.39,382.31 L305.77,393.19 L306.15,406.23 L306.54,420.10 L306.92,433.37 L307.30,444.67 L307.68,452.85 L308.06,457.06 L308.45,456.87 L308.83,452.30 L309.21,443.82 L309.59,432.30 L309.97,418.93 L310.35,405.07 L310.74,392.16 L311.12,381.52 L311.50,374.25 L311.88,371.08 L312.26,372.35 L312.64,377.93 L313.03,387.24 L313.41,399.32 L313.79,412.94 L314.17,426.70 L314.55,439.17 L314.93,449.09 L315.32,455.42 L315.70,457.52 L316.08,455.18 L316.46,448.63 L316.84,438.54 L317.22,425.96 L317.61,412.18 L317.99,398.61 L318.37,386.64 L318.75,377.52 L319.13,372.17 L319.52,371.14 L319.90,374.54 L320.28,382.03 L320.66,392.82 L321.04,405.82 L321.42,419.69 L321.81,432.99 L322.19,444.37 L322.57,452.66 L322.95,456.99 L323.33,456.94 L323.71,452.49 L324.10,444.12 L324.48,432.68 L324.86,419.34 L325.24,405.48 L325.62,392.52 L326.00,381.80 L326.39,374.41 L326.77,371.11 L327.15,372.25 L327.53,377.70 L327.91,386.91 L328.30,398.93 L328.68,412.53 L329.06,426.30 L329.44,438.83 L329.82,448.84 L330.20,455.29 L330.59,457.52 L330.97,455.31 L331.35,448.88 L331.73,438.89 L332.11,426.36 L332.49,412.60 L332.88,399.00 L333.26,386.97 L333.64,377.74 L334.02,372.27 L334.40,371.11 L334.78,374.38 L335.17,381.75 L335.55,392.46 L335.93,405.41 L336.31,419.27 L336.69,432.61 L337.08,444.07 L337.46,452.46 L337.84,456.92 L338.22,457.00 L338.60,452.69 L338.98,444.42 L339.37,433.05 L339.75,419.76 L340.13,405.89 L340.51,392.89 L340.89,382.07 L341.27,374.57 L341.66,371.15 L342.04,372.15 L342.42,377.48 L342.80,386.59 L343.18,398.54 L343.56,412.11 L343.95,425.90 L344.33,438.49 L344.71,448.58 L345.09,455.15 L345.47,457.52 L345.85,455.44 L346.24,449.13 L346.62,439.23 L347.00,426.76 L347.38,413.01 L347.76,399.39 L348.15,387.29 L348.53,377.97 L348.91,372.37 L349.29,371.08 L349.67,374.22 L350.05,381.48 L350.44,392.10 L350.82,405.00 L351.20,418.86 L351.58,432.24 L351.96,443.77 L352.34,452.26 L352.73,456.85 L353.11,457.07 L353.49,452.88 L353.87,444.72 L354.25,433.43 L354.63,420.17 L355.02,406.30 L355.40,393.25 L355.78,382.36 L356.16,374.74 L356.54,371.18 L356.93,372.06 L357.31,377.26 L357.69,386.27 L358.07,398.15 L358.45,411.69 L358.83,425.49 L359.22,438.14 L359.60,448.33 L359.98,455.02 L360.36,457.52 L360.74,455.57 L361.12,449.37" fill="none" stroke="#1f77b4" stroke-width="1.6" stroke-linejoin="round" stroke-linecap="butt" />
</g>
<path d="M89.1,333.10 L125.1,333.10" fill="none" stroke="#1f77b4" stroke-width="1.4" stroke-linejoin="round" stroke-linecap="butt" /><path d="M89.1,357.50 L125.1,357.50" fill="none" stroke="#2ca02c" stroke-width="2.1" stroke-linejoin="round" stroke-linecap="butt" /><g class="t" font-family="'Liberation Sans', sans-serif" fill="#000" stroke="#000" stroke-width="0.3" font-size="17"><text transform="translate(138,339.30) scale(1,1.055)">Optical Potential</text><text transform="translate(138,363.70) scale(1,1.055)">Atom Density</text></g>
<g clip-path="url(#cc)">
<path d="M74.44,503.30 L74.82,503.03 L75.21,502.94 L75.59,503.05 L75.97,503.60 L76.35,504.45 L76.73,505.60 L77.11,506.28 L77.50,506.29 L77.88,505.63 L78.26,504.33 L78.64,503.45 L79.02,502.60 L79.41,502.26 L79.79,502.19 L80.17,502.29 L80.55,502.41 L80.93,502.46 L81.31,502.34 L81.70,502.12 L82.08,501.75 L82.46,501.48 L82.84,501.44 L83.22,501.91 L83.60,503.02 L83.99,504.40 L84.37,505.89 L84.75,506.40 L85.13,505.97 L85.51,504.45 L85.89,502.86 L86.28,501.56 L86.66,500.70 L87.04,500.43 L87.42,500.46 L87.80,500.67 L88.18,500.81 L88.57,500.76 L88.95,500.55 L89.33,500.11 L89.71,499.57 L90.09,499.39 L90.48,499.61 L90.86,500.71 L91.24,502.42 L91.62,504.73 L92.00,506.14 L92.38,506.19 L92.77,504.92 L93.15,502.32 L93.53,500.58 L93.91,498.89 L94.29,498.21 L94.67,498.06 L95.06,498.26 L95.44,498.53 L95.82,498.64 L96.20,498.44 L96.58,498.03 L96.96,497.33 L97.35,496.79 L97.73,496.71 L98.11,497.60 L98.49,499.74 L98.87,502.43 L99.26,505.36 L99.64,506.38 L100.02,505.64 L100.40,502.77 L100.78,499.68 L101.16,497.21 L101.55,495.53 L101.93,495.02 L102.31,495.08 L102.69,495.50 L103.07,495.79 L103.45,495.75 L103.84,495.37 L104.22,494.57 L104.60,493.59 L104.98,493.24 L105.36,493.66 L105.74,495.71 L106.13,498.89 L106.51,503.17 L106.89,505.89 L107.27,506.04 L107.65,503.78 L108.04,498.98 L108.42,495.78 L108.80,492.65 L109.18,491.38 L109.56,491.11 L109.94,491.50 L110.33,492.02 L110.71,492.26 L111.09,491.94 L111.47,491.24 L111.85,490.01 L112.23,489.05 L112.62,488.90 L113.00,490.44 L113.38,494.28 L113.76,499.10 L114.14,504.41 L114.52,506.33 L114.91,505.14 L115.29,500.13 L115.67,494.60 L116.05,490.26 L116.43,487.22 L116.81,486.32 L117.20,486.46 L117.58,487.22 L117.96,487.78 L118.34,487.77 L118.72,487.15 L119.11,485.82 L119.49,484.16 L119.87,483.56 L120.25,484.27 L120.63,487.79 L121.01,493.28 L121.40,500.62 L121.78,505.47 L122.16,505.82 L122.54,502.10 L122.92,493.93 L123.30,488.45 L123.69,483.13 L124.07,480.92 L124.45,480.47 L124.83,481.15 L125.21,482.10 L125.59,482.57 L125.98,482.10 L126.36,481.01 L126.74,479.00 L127.12,477.41 L127.50,477.16 L127.89,479.63 L128.27,485.98 L128.65,493.98 L129.03,502.90 L129.41,506.24 L129.79,504.46 L130.18,496.38 L130.56,487.23 L130.94,480.15 L131.32,475.10 L131.70,473.63 L132.08,473.88 L132.47,475.18 L132.85,476.17 L133.23,476.25 L133.61,475.33 L133.99,473.28 L134.37,470.68 L134.76,469.72 L135.14,470.84 L135.52,476.44 L135.90,485.21 L136.28,496.83 L136.67,504.82 L137.05,505.55 L137.43,499.88 L137.81,487.03 L138.19,478.32 L138.57,469.96 L138.96,466.40 L139.34,465.71 L139.72,466.81 L140.10,468.39 L140.48,469.24 L140.86,468.62 L141.25,467.04 L141.63,464.02 L142.01,461.56 L142.39,461.20 L142.77,464.89 L143.15,474.56 L143.54,486.85 L143.92,500.71 L144.30,506.07 L144.68,503.65 L145.06,491.61 L145.44,477.56 L145.83,466.91 L146.21,459.13 L146.59,456.91 L146.97,457.34 L147.35,459.37 L147.74,460.97 L148.12,461.24 L148.50,459.98 L148.88,457.08 L149.26,453.31 L149.64,451.89 L150.03,453.53 L150.41,461.77 L150.79,474.74 L151.17,491.76 L151.55,503.92 L151.93,505.23 L152.32,497.26 L152.70,478.61 L153.08,465.78 L153.46,453.61 L153.84,448.30 L154.22,447.32 L154.61,448.96 L154.99,451.38 L155.37,452.77 L155.75,452.03 L156.13,449.93 L156.52,445.74 L156.90,442.24 L157.28,441.75 L157.66,446.88 L158.04,460.48 L158.42,477.95 L158.81,497.86 L159.19,505.81 L159.57,502.77 L159.95,486.22 L160.33,466.26 L160.71,451.43 L161.10,440.36 L161.48,437.24 L161.86,437.91 L162.24,440.84 L162.62,443.23 L163.00,443.82 L163.39,442.22 L163.77,438.44 L164.15,433.40 L164.53,431.44 L164.91,433.66 L165.30,444.89 L165.68,462.63 L166.06,485.69 L166.44,502.81 L166.82,504.94 L167.20,494.56 L167.59,469.55 L167.97,452.02 L168.35,435.64 L168.73,428.32 L169.11,427.04 L169.49,429.29 L169.88,432.70 L170.26,434.78 L170.64,434.00 L171.02,431.44 L171.40,426.06 L171.78,421.45 L172.17,420.86 L172.55,427.48 L172.93,445.14 L173.31,468.12 L173.69,494.57 L174.07,505.47 L174.46,501.96 L174.84,480.94 L175.22,454.70 L175.60,435.61 L175.98,421.03 L176.37,416.98 L176.75,417.92 L177.13,421.82 L177.51,425.11 L177.89,426.14 L178.27,424.29 L178.66,419.73 L179.04,413.51 L179.42,411.02 L179.80,413.78 L180.18,427.93 L180.56,450.43 L180.95,479.31 L181.33,501.59 L181.71,504.72 L182.09,492.24 L182.47,461.27 L182.85,439.05 L183.24,418.64 L183.62,409.30 L184.00,407.74 L184.38,410.61 L184.76,415.06 L185.15,417.89 L185.53,417.19 L185.91,414.32 L186.29,407.95 L186.67,402.33 L187.05,401.70 L187.44,409.64 L187.82,430.81 L188.20,458.77 L188.58,491.26 L188.96,505.06 L189.34,501.33 L189.73,476.70 L190.11,444.78 L190.49,422.05 L190.87,404.29 L191.25,399.43 L191.63,400.64 L192.02,405.44 L192.40,409.60 L192.78,411.14 L193.16,409.19 L193.54,404.13 L193.93,397.03 L194.31,394.08 L194.69,397.27 L195.07,413.77 L195.45,440.18 L195.83,473.65 L196.22,500.44 L196.60,504.63 L196.98,490.77 L197.36,455.32 L197.74,429.22 L198.12,405.69 L198.51,394.66 L198.89,392.92 L199.27,396.30 L199.65,401.65 L200.03,405.19 L200.41,404.69 L200.80,401.73 L201.18,394.75 L201.56,388.41 L201.94,387.84 L202.32,396.66 L202.70,420.16 L203.09,451.60 L203.47,488.51 L203.85,504.67 L204.23,501.05 L204.61,474.37 L205.00,438.44 L205.38,413.40 L205.76,393.39 L206.14,388.01 L206.52,389.42 L206.90,394.88 L207.29,399.74 L207.67,401.77 L208.05,399.91 L208.43,394.73 L208.81,387.23 L209.19,384.02 L209.58,387.42 L209.96,405.20 L210.34,433.90 L210.72,469.80 L211.10,499.57 L211.48,504.71 L211.87,490.47 L212.25,452.97 L212.63,424.56 L213.01,399.46 L213.39,387.42 L213.78,385.62 L214.16,389.30 L214.54,395.23 L214.92,399.29 L215.30,399.09 L215.68,396.29 L216.07,389.25 L216.45,382.63 L216.83,382.20 L217.21,391.25 L217.59,415.42 L217.97,448.11 L218.36,486.88 L218.74,504.36 L219.12,501.17 L219.50,474.46 L219.88,437.05 L220.26,411.54 L220.65,390.69 L221.03,385.17 L221.41,386.67 L221.79,392.42 L222.17,397.64 L222.56,400.06 L222.94,398.45 L223.32,393.57 L223.70,386.25 L224.08,383.02 L224.46,386.36 L224.85,404.07 L225.23,432.94 L225.61,468.58 L225.99,499.16 L226.37,504.93 L226.75,491.42 L227.14,454.75 L227.52,426.11 L227.90,401.32 L228.28,389.16 L228.66,387.44 L229.04,391.16 L229.43,397.24 L229.81,401.51 L230.19,401.64 L230.57,399.22 L230.95,392.65 L231.33,386.26 L231.72,386.03 L232.10,394.63 L232.48,417.66 L232.86,449.09 L233.24,486.74 L233.63,504.21 L234.01,501.67 L234.39,476.96 L234.77,440.94 L235.15,416.87 L235.53,396.77 L235.92,391.53 L236.30,393.02 L236.68,398.59 L237.06,403.79 L237.44,406.38 L237.82,405.14 L238.21,400.91 L238.59,394.30 L238.97,391.29 L239.35,394.34 L239.73,410.63 L240.11,437.53 L240.50,470.28 L240.88,499.30 L241.26,505.25 L241.64,493.40 L242.02,460.24 L242.41,433.52 L242.79,410.86 L243.17,399.52 L243.55,397.99 L243.93,401.46 L244.31,407.21 L244.70,411.36 L245.08,411.77 L245.46,409.86 L245.84,404.21 L246.22,398.50 L246.60,398.48 L246.99,406.02 L247.37,426.39 L247.75,454.31 L248.13,488.11 L248.51,504.24 L248.89,502.44 L249.28,481.31 L249.66,449.23 L250.04,428.22 L250.42,410.31 L250.80,405.70 L251.19,407.04 L251.57,412.04 L251.95,416.81 L252.33,419.34 L252.71,418.50 L253.09,415.14 L253.48,409.61 L253.86,407.03 L254.24,409.61 L254.62,423.42 L255.00,446.63 L255.38,474.51 L255.77,499.93 L256.15,505.59 L256.53,495.99 L256.91,468.27 L257.29,445.19 L257.67,426.04 L258.06,416.24 L258.44,414.98 L258.82,417.98 L259.20,423.00 L259.58,426.70 L259.96,427.30 L260.35,425.93 L260.73,421.44 L261.11,416.73 L261.49,416.86 L261.87,423.01 L262.26,439.70 L262.64,462.63 L263.02,490.69 L263.40,504.46 L263.78,503.33 L264.16,486.63 L264.55,460.22 L264.93,443.23 L265.31,428.48 L265.69,424.72 L266.07,425.84 L266.45,429.98 L266.84,434.02 L267.22,436.28 L267.60,435.80 L267.98,433.34 L268.36,429.06 L268.74,427.02 L269.13,429.04 L269.51,439.85 L269.89,458.39 L270.27,480.38 L270.65,500.94 L271.04,505.89 L271.42,498.70 L271.80,477.27 L272.18,458.84 L272.56,443.87 L272.94,436.03 L273.33,435.07 L273.71,437.47 L274.09,441.52 L274.47,444.55 L274.85,445.23 L275.23,444.33 L275.62,441.04 L276.00,437.47 L276.38,437.66 L276.76,442.30 L277.14,454.97 L277.52,472.40 L277.91,493.92 L278.29,504.79 L278.67,504.20 L279.05,492.00 L279.43,471.89 L279.82,459.17 L280.20,447.96 L280.58,445.10 L280.96,445.96 L281.34,449.13 L281.72,452.29 L282.11,454.13 L282.49,453.93 L282.87,452.27 L283.25,449.21 L283.63,447.72 L284.01,449.19 L284.40,456.99 L284.78,470.70 L285.16,486.77 L285.54,502.13 L285.92,506.12 L286.30,501.14 L286.69,485.82 L287.07,472.20 L287.45,461.38 L287.83,455.58 L288.21,454.90 L288.59,456.67 L288.98,459.69 L289.36,461.99 L289.74,462.62 L290.12,462.09 L290.50,459.88 L290.89,457.38 L291.27,457.57 L291.65,460.81 L292.03,469.72 L292.41,481.99 L292.79,497.23 L293.18,505.17 L293.56,504.94 L293.94,496.70 L294.32,482.55 L294.70,473.73 L295.08,465.86 L295.47,463.83 L295.85,464.44 L296.23,466.68 L296.61,468.97 L296.99,470.35 L297.37,470.31 L297.76,469.30 L298.14,467.27 L298.52,466.27 L298.90,467.26 L299.28,472.45 L299.67,481.83 L300.05,492.71 L300.43,503.30 L300.81,506.28 L301.19,503.09 L301.57,492.95 L301.96,483.65 L302.34,476.41 L302.72,472.44 L303.10,471.99 L303.48,473.21 L303.86,475.28 L304.25,476.89 L304.63,477.41 L305.01,477.13 L305.39,475.76 L305.77,474.15 L306.15,474.30 L306.54,476.40 L306.92,482.21 L307.30,490.21 L307.68,500.17 L308.06,505.54 L308.45,505.50 L308.83,500.36 L309.21,491.16 L309.59,485.49 L309.97,480.38 L310.35,479.05 L310.74,479.45 L311.12,480.91 L311.50,482.44 L311.88,483.39 L312.26,483.43 L312.64,482.86 L313.03,481.62 L313.41,481.00 L313.79,481.62 L314.17,484.82 L314.55,490.74 L314.93,497.57 L315.32,504.33 L315.70,506.36 L316.08,504.47 L316.46,498.27 L316.84,492.40 L317.22,487.92 L317.61,485.40 L317.99,485.13 L318.37,485.90 L318.75,487.22 L319.13,488.25 L319.52,488.64 L319.90,488.51 L320.28,487.72 L320.66,486.77 L321.04,486.88 L321.42,488.14 L321.81,491.64 L322.19,496.47 L322.57,502.48 L322.95,505.84 L323.33,505.89 L323.71,502.92 L324.10,497.39 L324.48,494.01 L324.86,490.96 L325.24,490.14 L325.62,490.38 L326.00,491.27 L326.39,492.21 L326.77,492.81 L327.15,492.87 L327.53,492.58 L327.91,491.88 L328.30,491.52 L328.68,491.88 L329.06,493.70 L329.44,497.16 L329.82,501.13 L330.20,505.11 L330.59,506.40 L330.97,505.36 L331.35,501.85 L331.73,498.43 L332.11,495.87 L332.49,494.39 L332.88,494.23 L333.26,494.68 L333.64,495.46 L334.02,496.08 L334.40,496.33 L334.78,496.28 L335.17,495.87 L335.55,495.35 L335.93,495.41 L336.31,496.11 L336.69,498.07 L337.08,500.77 L337.46,504.12 L337.84,506.06 L338.22,506.13 L338.60,504.55 L338.98,501.48 L339.37,499.61 L339.75,497.92 L340.13,497.45 L340.51,497.59 L340.89,498.09 L341.27,498.62 L341.66,498.97 L342.04,499.03 L342.42,498.90 L342.80,498.53 L343.18,498.34 L343.56,498.53 L343.95,499.49 L344.33,501.35 L344.71,503.49 L345.09,505.66 L345.47,506.39 L345.85,505.88 L346.24,504.04 L346.62,502.20 L347.00,500.84 L347.38,500.04 L347.76,499.96 L348.15,500.21 L348.53,500.63 L348.91,500.96 L349.29,501.11 L349.67,501.10 L350.05,500.90 L350.44,500.64 L350.82,500.68 L351.20,501.04 L351.58,502.05 L351.96,503.45 L352.34,505.18 L352.73,506.21 L353.11,506.27 L353.49,505.49 L353.87,503.91 L354.25,502.96 L354.63,502.09 L355.02,501.85 L355.40,501.92 L355.78,502.17 L356.16,502.45 L356.54,502.64 L356.93,502.68 L357.31,502.63 L357.69,502.45 L358.07,502.36 L358.45,502.46 L358.83,502.92 L359.22,503.85 L359.60,504.91 L359.98,506.01 L360.36,506.39 L360.74,506.16 L361.12,505.27" fill="none" stroke="#2ca02c" stroke-width="2.3" stroke-linejoin="round" stroke-linecap="butt" />
<path d="M74.60,502.88 L75.08,502.80 L75.56,502.71 L76.03,502.63 L76.51,502.54 L76.99,502.44 L77.47,502.35 L77.95,502.26 L78.42,502.16 L78.90,502.06 L79.38,501.96 L79.86,501.85 L80.34,501.75 L80.81,501.64 L81.29,501.53 L81.77,501.42 L82.25,501.31 L82.73,501.19 L83.20,501.07 L83.68,500.95 L84.16,500.83 L84.64,500.71 L85.12,500.58 L85.59,500.45 L86.07,500.32 L86.55,500.18 L87.03,500.05 L87.51,499.91 L87.98,499.77 L88.46,499.62 L88.94,499.48 L89.42,499.33 L89.89,499.17 L90.37,499.02 L90.85,498.86 L91.33,498.70 L91.81,498.54 L92.28,498.37 L92.76,498.20 L93.24,498.03 L93.72,497.86 L94.20,497.68 L94.67,497.50 L95.15,497.32 L95.63,497.13 L96.11,496.94 L96.59,496.75 L97.06,496.55 L97.54,496.35 L98.02,496.15 L98.50,495.95 L98.98,495.74 L99.45,495.52 L99.93,495.31 L100.41,495.09 L100.89,494.87 L101.37,494.64 L101.84,494.41 L102.32,494.18 L102.80,493.95 L103.28,493.71 L103.76,493.46 L104.23,493.22 L104.71,492.97 L105.19,492.71 L105.67,492.45 L106.15,492.19 L106.62,491.93 L107.10,491.66 L107.58,491.39 L108.06,491.11 L108.54,490.83 L109.01,490.54 L109.49,490.26 L109.97,489.96 L110.45,489.67 L110.93,489.37 L111.40,489.06 L111.88,488.75 L112.36,488.44 L112.84,488.13 L113.32,487.81 L113.79,487.48 L114.27,487.15 L114.75,486.82 L115.23,486.48 L115.70,486.14 L116.18,485.80 L116.66,485.45 L117.14,485.09 L117.62,484.73 L118.09,484.37 L118.57,484.01 L119.05,483.63 L119.53,483.26 L120.01,482.88 L120.48,482.50 L120.96,482.11 L121.44,481.71 L121.92,481.32 L122.40,480.92 L122.87,480.51 L123.35,480.10 L123.83,479.69 L124.31,479.27 L124.79,478.84 L125.26,478.42 L125.74,477.99 L126.22,477.55 L126.70,477.11 L127.18,476.66 L127.65,476.21 L128.13,475.76 L128.61,475.30 L129.09,474.84 L129.57,474.37 L130.04,473.90 L130.52,473.43 L131.00,472.95 L131.48,472.46 L131.96,471.98 L132.43,471.48 L132.91,470.99 L133.39,470.49 L133.87,469.98 L134.35,469.47 L134.82,468.96 L135.30,468.44 L135.78,467.92 L136.26,467.39 L136.74,466.86 L137.21,466.33 L137.69,465.79 L138.17,465.25 L138.65,464.71 L139.13,464.16 L139.60,463.60 L140.08,463.05 L140.56,462.49 L141.04,461.92 L141.51,461.35 L141.99,460.78 L142.47,460.21 L142.95,459.63 L143.43,459.04 L143.90,458.46 L144.38,457.87 L144.86,457.28 L145.34,456.68 L145.82,456.08 L146.29,455.48 L146.77,454.87 L147.25,454.27 L147.73,453.65 L148.21,453.04 L148.68,452.42 L149.16,451.80 L149.64,451.18 L150.12,450.56 L150.60,449.93 L151.07,449.30 L151.55,448.66 L152.03,448.03 L152.51,447.39 L152.99,446.75 L153.46,446.11 L153.94,445.47 L154.42,444.82 L154.90,444.17 L155.38,443.52 L155.85,442.87 L156.33,442.22 L156.81,441.56 L157.29,440.91 L157.77,440.25 L158.24,439.59 L158.72,438.93 L159.20,438.27 L159.68,437.61 L160.16,436.94 L160.63,436.28 L161.11,435.62 L161.59,434.95 L162.07,434.29 L162.55,433.62 L163.02,432.95 L163.50,432.29 L163.98,431.62 L164.46,430.95 L164.94,430.29 L165.41,429.62 L165.89,428.95 L166.37,428.29 L166.85,427.62 L167.32,426.96 L167.80,426.30 L168.28,425.63 L168.76,424.97 L169.24,424.31 L169.71,423.65 L170.19,422.99 L170.67,422.34 L171.15,421.68 L171.63,421.03 L172.10,420.38 L172.58,419.73 L173.06,419.08 L173.54,418.43 L174.02,417.79 L174.49,417.15 L174.97,416.51 L175.45,415.87 L175.93,415.24 L176.41,414.61 L176.88,413.98 L177.36,413.36 L177.84,412.74 L178.32,412.12 L178.80,411.51 L179.27,410.90 L179.75,410.29 L180.23,409.69 L180.71,409.09 L181.19,408.50 L181.66,407.91 L182.14,407.32 L182.62,406.74 L183.10,406.16 L183.58,405.59 L184.05,405.02 L184.53,404.46 L185.01,403.90 L185.49,403.35 L185.97,402.80 L186.44,402.26 L186.92,401.72 L187.40,401.19 L187.88,400.66 L188.36,400.14 L188.83,399.63 L189.31,399.12 L189.79,398.62 L190.27,398.13 L190.75,397.64 L191.22,397.16 L191.70,396.68 L192.18,396.21 L192.66,395.75 L193.13,395.29 L193.61,394.85 L194.09,394.41 L194.57,393.97 L195.05,393.54 L195.52,393.13 L196.00,392.71 L196.48,392.31 L196.96,391.91 L197.44,391.52 L197.91,391.14 L198.39,390.77 L198.87,390.41 L199.35,390.05 L199.83,389.70 L200.30,389.36 L200.78,389.03 L201.26,388.70 L201.74,388.39 L202.22,388.08 L202.69,387.78 L203.17,387.49 L203.65,387.21 L204.13,386.94 L204.61,386.68 L205.08,386.43 L205.56,386.18 L206.04,385.94 L206.52,385.72 L207.00,385.50 L207.47,385.29 L207.95,385.09 L208.43,384.90 L208.91,384.72 L209.39,384.55 L209.86,384.39 L210.34,384.24 L210.82,384.10 L211.30,383.96 L211.78,383.84 L212.25,383.73 L212.73,383.62 L213.21,383.53 L213.69,383.45 L214.17,383.37 L214.64,383.31 L215.12,383.25 L215.60,383.21 L216.08,383.17 L216.56,383.14 L217.03,383.13 L217.51,383.12 L217.99,383.13 L218.47,383.14 L218.94,383.16 L219.42,383.19 L219.90,383.24 L220.38,383.29 L220.86,383.35 L221.33,383.42 L221.81,383.51 L222.29,383.60 L222.77,383.70 L223.25,383.81 L223.72,383.93 L224.20,384.06 L224.68,384.20 L225.16,384.35 L225.64,384.51 L226.11,384.67 L226.59,384.85 L227.07,385.04 L227.55,385.24 L228.03,385.44 L228.50,385.66 L228.98,385.88 L229.46,386.11 L229.94,386.36 L230.42,386.61 L230.89,386.87 L231.37,387.14 L231.85,387.41 L232.33,387.70 L232.81,388.00 L233.28,388.30 L233.76,388.61 L234.24,388.93 L234.72,389.26 L235.20,389.60 L235.67,389.95 L236.15,390.30 L236.63,390.67 L237.11,391.04 L237.59,391.42 L238.06,391.80 L238.54,392.20 L239.02,392.60 L239.50,393.01 L239.98,393.43 L240.45,393.85 L240.93,394.28 L241.41,394.72 L241.89,395.17 L242.37,395.62 L242.84,396.08 L243.32,396.55 L243.80,397.02 L244.28,397.50 L244.75,397.99 L245.23,398.48 L245.71,398.98 L246.19,399.49 L246.67,400.00 L247.14,400.52 L247.62,401.04 L248.10,401.57 L248.58,402.11 L249.06,402.65 L249.53,403.19 L250.01,403.74 L250.49,404.30 L250.97,404.86 L251.45,405.43 L251.92,406.00 L252.40,406.57 L252.88,407.15 L253.36,407.74 L253.84,408.33 L254.31,408.92 L254.79,409.52 L255.27,410.12 L255.75,410.73 L256.23,411.34 L256.70,411.95 L257.18,412.57 L257.66,413.19 L258.14,413.81 L258.62,414.44 L259.09,415.06 L259.57,415.70 L260.05,416.33 L260.53,416.97 L261.01,417.61 L261.48,418.25 L261.96,418.90 L262.44,419.54 L262.92,420.19 L263.40,420.84 L263.87,421.50 L264.35,422.15 L264.83,422.81 L265.31,423.47 L265.79,424.12 L266.26,424.78 L266.74,425.45 L267.22,426.11 L267.70,426.77 L268.18,427.44 L268.65,428.10 L269.13,428.77 L269.61,429.43 L270.09,430.10 L270.56,430.77 L271.04,431.43 L271.52,432.10 L272.00,432.77 L272.48,433.43 L272.95,434.10 L273.43,434.76 L273.91,435.43 L274.39,436.09 L274.87,436.76 L275.34,437.42 L275.82,438.08 L276.30,438.74 L276.78,439.41 L277.26,440.06 L277.73,440.72 L278.21,441.38 L278.69,442.03 L279.17,442.69 L279.65,443.34 L280.12,443.99 L280.60,444.64 L281.08,445.28 L281.56,445.93 L282.04,446.57 L282.51,447.21 L282.99,447.85 L283.47,448.49 L283.95,449.12 L284.43,449.75 L284.90,450.38 L285.38,451.01 L285.86,451.63 L286.34,452.25 L286.82,452.87 L287.29,453.48 L287.77,454.09 L288.25,454.70 L288.73,455.31 L289.21,455.91 L289.68,456.51 L290.16,457.11 L290.64,457.70 L291.12,458.29 L291.60,458.88 L292.07,459.46 L292.55,460.04 L293.03,460.62 L293.51,461.19 L293.99,461.76 L294.46,462.33 L294.94,462.89 L295.42,463.45 L295.90,464.00 L296.37,464.55 L296.85,465.10 L297.33,465.64 L297.81,466.18 L298.29,466.71 L298.76,467.24 L299.24,467.77 L299.72,468.29 L300.20,468.81 L300.68,469.33 L301.15,469.84 L301.63,470.34 L302.11,470.85 L302.59,471.34 L303.07,471.84 L303.54,472.33 L304.02,472.81 L304.50,473.29 L304.98,473.77 L305.46,474.24 L305.93,474.71 L306.41,475.17 L306.89,475.63 L307.37,476.09 L307.85,476.54 L308.32,476.98 L308.80,477.43 L309.28,477.86 L309.76,478.30 L310.24,478.72 L310.71,479.15 L311.19,479.57 L311.67,479.98 L312.15,480.40 L312.63,480.80 L313.10,481.21 L313.58,481.60 L314.06,482.00 L314.54,482.39 L315.02,482.77 L315.49,483.15 L315.97,483.53 L316.45,483.90 L316.93,484.27 L317.41,484.63 L317.88,484.99 L318.36,485.35 L318.84,485.70 L319.32,486.04 L319.80,486.39 L320.27,486.72 L320.75,487.06 L321.23,487.39 L321.71,487.71 L322.18,488.04 L322.66,488.35 L323.14,488.67 L323.62,488.98 L324.10,489.28 L324.57,489.58 L325.05,489.88 L325.53,490.17 L326.01,490.46 L326.49,490.75 L326.96,491.03 L327.44,491.31 L327.92,491.58 L328.40,491.85 L328.88,492.12 L329.35,492.38 L329.83,492.64 L330.31,492.89 L330.79,493.15 L331.27,493.39 L331.74,493.64 L332.22,493.88 L332.70,494.12 L333.18,494.35 L333.66,494.58 L334.13,494.81 L334.61,495.03 L335.09,495.25 L335.57,495.46 L336.05,495.68 L336.52,495.89 L337.00,496.09 L337.48,496.30 L337.96,496.50 L338.44,496.69 L338.91,496.89 L339.39,497.08 L339.87,497.26 L340.35,497.45 L340.83,497.63 L341.30,497.81 L341.78,497.98 L342.26,498.16 L342.74,498.33 L343.22,498.49 L343.69,498.66 L344.17,498.82 L344.65,498.98 L345.13,499.13 L345.61,499.28 L346.08,499.43 L346.56,499.58 L347.04,499.73 L347.52,499.87 L347.99,500.01 L348.47,500.15 L348.95,500.28 L349.43,500.41 L349.91,500.54 L350.38,500.67 L350.86,500.80 L351.34,500.92 L351.82,501.04 L352.30,501.16 L352.77,501.28 L353.25,501.39 L353.73,501.50 L354.21,501.61 L354.69,501.72 L355.16,501.83 L355.64,501.93 L356.12,502.03 L356.60,502.13 L357.08,502.23 L357.55,502.32 L358.03,502.42 L358.51,502.51 L358.99,502.60 L359.47,502.69 L359.94,502.78 L360.42,502.86 L360.90,502.94" fill="none" stroke="#808080" stroke-width="2.5" stroke-linejoin="round" stroke-linecap="butt" stroke-dasharray="7.7,3.3" stroke-dashoffset="-3.0"/>
</g>
<g clip-path="url(#cd)">
<path d="M466.63,325.59 L470.92,339.55 L475.21,361.26 L479.50,388.48 L483.78,418.42 L488.07,448.00 L492.36,474.17 L496.65,494.25 L500.94,506.18 L505.22,508.73 L509.51,501.63 L513.80,485.62 L518.09,462.34 L522.38,434.19 L526.66,404.06 L530.95,375.03 L535.24,350.11 L539.53,331.85 L543.82,322.12 L548.10,321.92 L552.39,331.28 L556.68,349.24 L560.97,373.94 L565.26,402.85 L569.54,433.00 L573.83,461.29 L578.12,484.81 L582.41,501.15 L586.70,508.62 L590.98,506.47 L595.27,494.90 L599.56,475.11 L603.85,449.13 L608.14,419.63 L612.42,389.65 L616.71,362.26 L621.00,340.29 L625.29,325.98 L629.58,320.81 L633.86,325.31 L638.15,339.01 L642.44,360.52 L646.73,387.61 L651.02,417.51 L655.30,447.14 L659.59,473.46 L663.88,493.76 L668.17,505.95 L672.46,508.79 L676.74,501.98 L681.03,486.22 L685.32,463.13" fill="none" stroke="#1f77b4" stroke-width="2.4" stroke-linejoin="round" stroke-linecap="butt" />
<path d="M466.63,347.07 L470.92,339.20 L475.21,327.80 L479.50,322.92 L483.78,328.07 L488.07,355.11 L492.36,398.75 L496.65,453.34 L500.94,498.61 L505.22,506.43 L509.51,484.78 L513.80,427.75 L518.09,384.56 L522.38,346.38 L526.66,328.08 L530.95,325.34 L535.24,330.94 L539.53,339.96 L543.82,346.13 L548.10,345.82 L552.39,341.57 L556.68,330.86 L560.97,320.80 L565.26,320.14 L569.54,333.91 L573.83,370.65 L578.12,420.37 L582.41,479.32 L586.70,505.90 L590.98,501.05 L595.27,460.44 L599.56,403.55 L603.85,364.76 L608.14,333.05 L612.42,324.65 L616.71,326.94 L621.00,335.68 L625.29,343.63 L629.58,347.30 L633.86,344.85 L638.15,337.44 L642.44,326.31 L646.73,321.39 L651.02,326.47 L655.30,353.39 L659.59,397.30 L663.88,451.50 L668.17,497.99 L672.46,506.77 L676.74,486.22 L681.03,430.45 L685.32,386.92" fill="none" stroke="#2ca02c" stroke-width="2.4" stroke-linejoin="round" stroke-linecap="butt" />
</g>
<path d="M146.17,238.8 L146.17,233.0 M146.17,31.2 L146.17,37.0 M217.75,238.8 L217.75,233.0 M217.75,31.2 L217.75,37.0 M289.32,238.8 L289.32,233.0 M289.32,31.2 L289.32,37.0 M74.6,204.20 L80.39999999999999,204.20 M74.6,135.00 L80.39999999999999,135.00 M74.6,65.80 L80.39999999999999,65.80 M360.9,165.90 L355.09999999999997,165.90 M360.9,104.60 L355.09999999999997,104.60 M360.9,43.30 L355.09999999999997,43.30 M522.00,238.8 L522.00,233.0 M522.00,31.2 L522.00,37.0 M656.00,238.8 L656.00,233.0 M656.00,31.2 L656.00,37.0 M468.4,229.40 L474.2,229.40 M468.4,156.90 L474.2,156.90 M468.4,84.40 L474.2,84.40 M122.32,517.9 L122.32,512.1 M122.32,310.6 L122.32,316.40000000000003 M217.75,517.9 L217.75,512.1 M217.75,310.6 L217.75,316.40000000000003 M313.18,517.9 L313.18,512.1 M313.18,310.6 L313.18,316.40000000000003 M74.6,466.07 L80.39999999999999,466.07 M74.6,414.25 L80.39999999999999,414.25 M74.6,362.43 L80.39999999999999,362.43 M360.9,506.40 L355.09999999999997,506.40 M360.9,445.25 L355.09999999999997,445.25 M360.9,384.10 L355.09999999999997,384.10 M360.9,322.95 L355.09999999999997,322.95 M575.60,517.9 L575.60,512.1 M575.60,310.6 L575.60,316.40000000000003 M468.4,509.00 L474.2,509.00 M468.4,414.90 L474.2,414.90 M468.4,320.80 L474.2,320.80 " stroke="#000" stroke-width="1.8" fill="none"/>
<rect x="74.6" y="31.2" width="286.29999999999995" height="207.60000000000002" fill="none" stroke="#000" stroke-width="1.8"/>
<rect x="468.4" y="31.2" width="214.39999999999998" height="207.60000000000002" fill="none" stroke="#000" stroke-width="1.8"/>
<rect x="74.6" y="310.6" width="286.29999999999995" height="207.29999999999995" fill="none" stroke="#000" stroke-width="1.8"/>
<rect x="468.4" y="310.6" width="214.39999999999998" height="207.29999999999995" fill="none" stroke="#000" stroke-width="1.8"/>
<g class="t" font-family="'Liberation Sans', sans-serif" fill="#000" stroke="#000" stroke-width="0.3"><text transform="translate(146.17,263.50) scale(1,1.055)" font-size="20" text-anchor="middle" >−3</text><text transform="translate(217.75,263.50) scale(1,1.055)" font-size="20" text-anchor="middle" >0</text><text transform="translate(289.32,263.50) scale(1,1.055)" font-size="20" text-anchor="middle" >3</text><text transform="translate(522.00,263.50) scale(1,1.055)" font-size="20" text-anchor="middle" >−0.5</text><text transform="translate(656.00,263.50) scale(1,1.055)" font-size="20" text-anchor="middle" >0.0</text><text transform="translate(122.32,542.70) scale(1,1.055)" font-size="20" text-anchor="middle" >−10</text><text transform="translate(217.75,542.70) scale(1,1.055)" font-size="20" text-anchor="middle" >0</text><text transform="translate(313.18,542.70) scale(1,1.055)" font-size="20" text-anchor="middle" >10</text><text transform="translate(468.40,542.70) scale(1,1.055)" font-size="20" text-anchor="middle" >−1</text><text transform="translate(575.60,542.70) scale(1,1.055)" font-size="20" text-anchor="middle" >0</text><text transform="translate(682.80,542.70) scale(1,1.055)" font-size="20" text-anchor="middle" >1</text><text transform="translate(64.50,211.55) scale(1,1.055)" font-size="20" text-anchor="end" >−2</text><text transform="translate(64.50,142.35) scale(1,1.055)" font-size="20" text-anchor="end" >0</text><text transform="translate(64.50,73.15) scale(1,1.055)" font-size="20" text-anchor="end" >2</text><text transform="translate(370.50,234.55) scale(1,1.055)" font-size="20" text-anchor="start" >0</text><text transform="translate(370.50,111.95) scale(1,1.055)" font-size="20" text-anchor="start" >1</text><text transform="translate(458.00,236.75) scale(1,1.055)" font-size="20" text-anchor="end" >0</text><text transform="translate(458.00,91.75) scale(1,1.055)" font-size="20" text-anchor="end" >1</text><text transform="translate(64.50,525.25) scale(1,1.055)" font-size="20" text-anchor="end" >−40</text><text transform="translate(64.50,473.43) scale(1,1.055)" font-size="20" text-anchor="end" >−20</text><text transform="translate(64.50,421.60) scale(1,1.055)" font-size="20" text-anchor="end" >0</text><text transform="translate(64.50,369.78) scale(1,1.055)" font-size="20" text-anchor="end" >20</text><text transform="translate(64.50,317.95) scale(1,1.055)" font-size="20" text-anchor="end" >40</text><text transform="translate(370.50,513.75) scale(1,1.055)" font-size="20" text-anchor="start" >0</text><text transform="translate(370.50,391.45) scale(1,1.055)" font-size="20" text-anchor="start" >1</text><text transform="translate(458.00,516.35) scale(1,1.055)" font-size="20" text-anchor="end" >0</text><text transform="translate(458.00,328.15) scale(1,1.055)" font-size="20" text-anchor="end" >1</text><text transform="translate(217.75,294.40) scale(1,1.055)" font-size="20" text-anchor="middle" ><tspan font-style="italic" font-size="21.5">x</tspan> (<tspan font-style="italic" font-size="21.5">λ</tspan><tspan dx="1">)</tspan></text><text transform="translate(575.60,294.40) scale(1,1.055)" font-size="20" text-anchor="middle" ><tspan font-style="italic" font-size="21.5">x</tspan> (<tspan font-style="italic" font-size="21.5">λ</tspan><tspan dx="1">)</tspan></text><text transform="translate(217.75,573.60) scale(1,1.055)" font-size="20" text-anchor="middle" ><tspan font-style="italic" font-size="21.5">x</tspan> (<tspan font-style="italic" font-size="21.5">λ</tspan><tspan dx="1">)</tspan></text><text transform="translate(575.60,573.60) scale(1,1.055)" font-size="20" text-anchor="middle" ><tspan font-style="italic" font-size="21.5">x</tspan> (<tspan font-style="italic" font-size="21.5">λ</tspan><tspan dx="1">)</tspan></text><text x="0" y="0" font-size="20" text-anchor="middle" transform="translate(26.30,135.50) rotate(-90) scale(1,1.055)">Optical Potential (MHz)</text><text x="0" y="0" font-size="20" text-anchor="middle" transform="translate(15.30,414.60) rotate(-90) scale(1,1.055)">Optical Potential (MHz)</text><text x="0" y="0" font-size="20" text-anchor="start" transform="translate(412.00,235.30) rotate(-90) scale(1,1.055)">Atom Density (<tspan font-size="21.5">10</tspan><tspan font-size="15" dy="-6.3" dx="2.2">3</tspan><tspan dy="4.3" dx="4.7">·</tspan><tspan dy="2" dx="3.5" font-style="italic" font-size="21.5">λ</tspan><tspan dx="1.4">)</tspan></text><text x="0" y="0" font-size="20" text-anchor="start" transform="translate(412.00,525.20) rotate(-90) scale(1,1.055)">Atom Density (<tspan font-size="21.5">10</tspan><tspan font-size="15" dy="-6.3" dx="2.2">3</tspan><tspan dy="4.3" dx="4.7">·</tspan><tspan dy="2" dx="3.5" font-style="italic" font-size="21.5">λ</tspan><tspan font-size="17" dy="-6.2" dx="3">−</tspan><tspan font-size="15" dx="1.4">1</tspan><tspan dy="6.2" dx="1">)</tspan></text><text transform="translate(3.20,16.30) scale(1,1.055)" font-size="23" text-anchor="start" >(a)</text><text transform="translate(432.30,16.30) scale(1,1.055)" font-size="23" text-anchor="start" >(b)</text><text transform="translate(3.20,295.90) scale(1,1.055)" font-size="23" text-anchor="start" >(c)</text><text transform="translate(432.30,295.90) scale(1,1.055)" font-size="23" text-anchor="start" >(d)</text></g>
</svg></body></html>
